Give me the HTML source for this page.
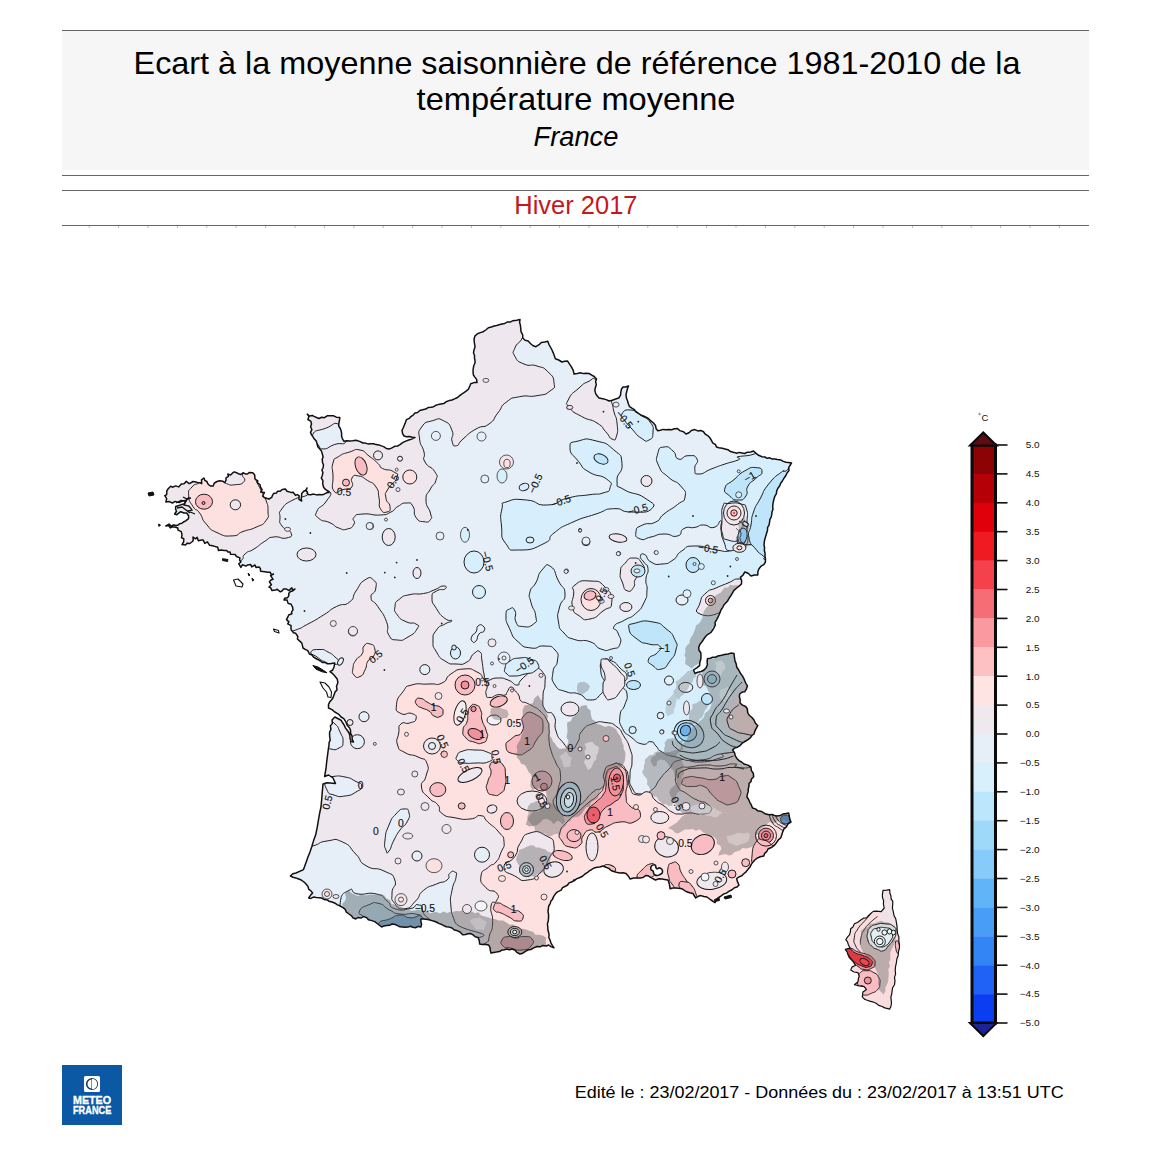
<!DOCTYPE html><html><head><meta charset="utf-8"><title>Ecart temperature</title>
<style>html,body{margin:0;padding:0;background:#fff}body{width:1150px;height:1150px;overflow:hidden;position:relative;font-family:"Liberation Sans",sans-serif}#hd{position:absolute;left:62px;top:31px;width:1026.5px;height:139px;background:#f6f6f6}.ln{position:absolute;left:62px;width:1027px;height:1px;background:#666}.t{position:absolute;left:0;width:1150px;text-align:center;white-space:nowrap;color:#000}svg{position:absolute;left:0;top:0}</style></head><body>
<div id="hd"></div>
<div class="ln" style="top:30px"></div>
<div class="ln" style="top:175px"></div>
<div class="ln" style="top:190px"></div>
<div class="ln" style="top:225px"></div>
<svg width="1150" height="1150" viewBox="0 0 1150 1150">
<rect x="88.7" y="226" width="1" height="2" fill="#bbb"/><rect x="118.1" y="226" width="1" height="2" fill="#bbb"/><rect x="147.5" y="226" width="1" height="2" fill="#bbb"/><rect x="176.9" y="226" width="1" height="2" fill="#bbb"/><rect x="206.3" y="226" width="1" height="2" fill="#bbb"/><rect x="235.7" y="226" width="1" height="2" fill="#bbb"/><rect x="265.1" y="226" width="1" height="2" fill="#bbb"/><rect x="294.5" y="226" width="1" height="2" fill="#bbb"/><rect x="323.9" y="226" width="1" height="2" fill="#bbb"/><rect x="353.3" y="226" width="1" height="2" fill="#bbb"/><rect x="382.7" y="226" width="1" height="2" fill="#bbb"/><rect x="412.1" y="226" width="1" height="2" fill="#bbb"/><rect x="441.5" y="226" width="1" height="2" fill="#bbb"/><rect x="470.9" y="226" width="1" height="2" fill="#bbb"/><rect x="500.3" y="226" width="1" height="2" fill="#bbb"/><rect x="529.7" y="226" width="1" height="2" fill="#bbb"/><rect x="559.1" y="226" width="1" height="2" fill="#bbb"/><rect x="588.5" y="226" width="1" height="2" fill="#bbb"/><rect x="617.9" y="226" width="1" height="2" fill="#bbb"/><rect x="647.3" y="226" width="1" height="2" fill="#bbb"/><rect x="676.7" y="226" width="1" height="2" fill="#bbb"/><rect x="706.1" y="226" width="1" height="2" fill="#bbb"/><rect x="735.5" y="226" width="1" height="2" fill="#bbb"/><rect x="764.9" y="226" width="1" height="2" fill="#bbb"/><rect x="794.3" y="226" width="1" height="2" fill="#bbb"/><rect x="823.7" y="226" width="1" height="2" fill="#bbb"/><rect x="853.1" y="226" width="1" height="2" fill="#bbb"/><rect x="882.5" y="226" width="1" height="2" fill="#bbb"/><rect x="911.9" y="226" width="1" height="2" fill="#bbb"/><rect x="941.3" y="226" width="1" height="2" fill="#bbb"/><rect x="970.7" y="226" width="1" height="2" fill="#bbb"/><rect x="1000.1" y="226" width="1" height="2" fill="#bbb"/><rect x="1029.5" y="226" width="1" height="2" fill="#bbb"/><rect x="1058.9" y="226" width="1" height="2" fill="#bbb"/>
<text x="133.6" y="74.0" font-size="31.8" textLength="886.8" lengthAdjust="spacingAndGlyphs" font-family="Liberation Sans, sans-serif" fill="#000">Ecart à la moyenne saisonnière de référence 1981-2010 de la</text>
<text x="416.6" y="110.0" font-size="31.8" textLength="318.9" lengthAdjust="spacingAndGlyphs" font-family="Liberation Sans, sans-serif" fill="#000">température moyenne</text>
<text x="533.5" y="145.8" font-size="27" textLength="84.9" lengthAdjust="spacingAndGlyphs" font-family="Liberation Sans, sans-serif" fill="#000" font-style="italic">France</text>
<text x="514.3" y="213.8" font-size="25.4" textLength="123.2" lengthAdjust="spacingAndGlyphs" font-family="Liberation Sans, sans-serif" fill="#c4181c">Hiver 2017</text>
<text x="574.7" y="1097.6" font-size="16" textLength="488.9" lengthAdjust="spacingAndGlyphs" font-family="Liberation Sans, sans-serif" fill="#000">Edité le : 23/02/2017 - Données du : 23/02/2017 à 13:51 UTC</text>
<defs><clipPath id="fr"><path d="M520.0,319.6 L516.7,320.3 L513.0,320.7 L510.6,321.9 L507.6,321.9 L504.7,323.4 L502.0,324.0 L499.0,324.8 L496.7,325.5 L494.1,326.0 L491.3,327.0 L488.4,327.8 L485.8,330.0 L483.3,331.7 L480.4,332.6 L477.5,333.7 L475.0,335.9 L474.1,338.7 L474.2,341.5 L474.6,344.2 L475.0,347.0 L474.0,350.0 L473.5,352.7 L474.5,355.5 L474.5,358.2 L475.0,360.2 L475.0,363.0 L473.8,365.5 L473.2,368.8 L473.0,371.7 L473.4,375.0 L474.7,376.9 L476.7,379.6 L477.0,382.6 L474.1,382.6 L470.7,383.7 L469.8,386.1 L468.5,389.0 L466.5,390.9 L463.6,392.9 L461.0,394.6 L458.8,396.4 L457.0,397.8 L454.5,398.9 L452.0,400.0 L449.2,400.6 L446.1,401.8 L443.7,403.6 L441.0,404.0 L438.2,404.6 L435.8,405.3 L433.6,406.7 L431.0,407.3 L428.0,407.6 L425.8,409.1 L422.6,409.8 L419.8,410.5 L417.6,412.5 L415.0,413.0 L413.4,414.8 L410.9,416.6 L409.2,418.4 L406.5,419.6 L405.4,422.6 L404.4,425.0 L403.4,427.5 L402.0,430.4 L402.6,433.7 L404.0,436.0 L406.6,436.7 L409.4,436.6 L412.3,437.3 L415.0,437.4 L411.7,439.1 L408.7,440.0 L405.8,441.1 L402.6,442.7 L400.0,444.6 L397.5,446.0 L394.7,446.3 L391.5,448.1 L389.0,449.0 L386.3,448.5 L383.7,446.6 L381.3,445.9 L379.0,444.9 L376.0,444.6 L373.5,443.7 L370.7,443.7 L368.0,443.9 L365.3,443.1 L363.0,443.0 L359.6,441.4 L356.0,440.2 L352.7,440.7 L349.9,441.0 L346.6,440.8 L344.0,441.3 L342.5,438.8 L341.6,436.3 L341.6,433.3 L341.2,431.1 L340.3,428.5 L338.7,426.0 L338.8,423.5 L339.4,420.8 L339.8,417.4 L336.3,417.2 L333.7,415.8 L330.0,415.7 L327.2,415.8 L324.4,417.7 L321.7,417.3 L319.0,418.5 L316.5,417.5 L314.1,416.4 L312.4,415.5 L309.6,416.0 L307.2,414.1 L308.9,416.4 L307.9,419.5 L310.9,421.4 L311.5,424.0 L310.6,426.8 L311.9,429.7 L310.5,432.4 L311.5,434.8 L312.9,436.6 L314.1,438.8 L316.2,440.9 L317.0,443.5 L317.8,446.7 L320.0,449.2 L321.5,451.1 L322.4,454.3 L323.1,457.0 L322.2,459.6 L322.6,462.8 L323.5,465.0 L323.0,468.0 L321.9,470.0 L322.9,472.5 L322.3,475.4 L321.3,478.0 L322.9,480.6 L322.7,483.8 L323.5,487.0 L325.1,489.2 L327.2,490.7 L329.0,492.4 L326.5,492.8 L324.1,494.2 L322.1,494.8 L319.0,494.6 L316.5,494.9 L313.8,494.1 L310.6,494.7 L308.0,494.6 L307.3,491.9 L306.1,490.9 L307.0,488.0 L305.9,490.2 L303.7,491.2 L301.7,493.5 L301.5,496.3 L301.2,499.0 L301.7,501.0 L298.9,499.4 L299.2,495.8 L297.4,494.6 L295.5,495.2 L293.1,492.2 L290.9,492.4 L287.0,491.3 L285.4,489.0 L282.2,489.5 L280.0,491.3 L277.4,491.3 L276.6,493.0 L273.5,493.5 L272.3,495.8 L271.7,497.4 L269.0,499.0 L264.8,497.8 L262.7,496.1 L264.4,492.5 L260.7,492.1 L262.1,489.6 L260.4,487.0 L260.1,484.8 L257.3,482.7 L257.8,480.9 L255.0,479.0 L254.7,474.9 L252.8,472.8 L249.4,472.4 L247.4,474.0 L245.4,473.9 L243.0,472.8 L240.8,474.5 L238.6,473.8 L234.6,471.9 L233.1,472.5 L230.6,475.1 L227.8,474.0 L228.4,476.4 L226.0,477.9 L226.0,480.4 L224.6,482.6 L223.0,481.2 L219.5,480.8 L217.0,481.5 L214.4,483.0 L213.0,486.1 L210.4,485.9 L208.3,484.5 L206.8,481.4 L204.9,480.5 L204.0,478.0 L201.5,479.8 L201.7,483.7 L200.2,482.8 L197.5,482.4 L196.0,482.0 L193.0,481.5 L190.3,483.2 L189.1,483.6 L186.3,481.4 L184.0,483.7 L181.3,484.1 L178.7,486.9 L175.7,485.9 L172.4,487.2 L170.6,486.2 L168.0,489.0 L166.8,490.9 L166.7,494.6 L164.8,495.7 L166.7,498.6 L165.9,502.0 L169.4,501.6 L172.4,503.0 L175.2,501.4 L176.7,501.9 L179.2,502.6 L182.0,501.0 L184.2,500.8 L186.6,500.1 L188.7,497.8 L186.5,499.8 L185.2,502.4 L184.0,504.0 L181.6,504.6 L178.1,505.7 L175.7,506.5 L175.6,509.1 L176.5,511.3 L174.6,514.0 L176.8,514.7 L179.7,512.4 L180.7,511.7 L184.0,513.0 L186.7,513.0 L188.7,516.0 L188.5,518.6 L185.7,520.9 L184.0,521.7 L182.0,523.2 L179.6,523.8 L178.3,524.9 L176.3,525.4 L173.5,525.0 L171.2,526.1 L169.0,524.1 L165.9,526.0 L168.6,525.5 L170.3,527.9 L172.8,526.7 L175.6,527.2 L177.8,528.0 L178.0,530.1 L181.3,531.6 L182.0,534.8 L181.5,537.8 L183.8,538.7 L183.6,542.0 L182.0,544.6 L185.7,544.9 L187.0,543.3 L189.8,543.5 L192.5,541.5 L193.2,540.4 L193.0,537.0 L195.5,538.8 L197.2,537.4 L198.4,540.8 L201.7,540.0 L203.1,539.9 L204.8,543.4 L207.5,541.8 L208.2,543.1 L209.5,545.2 L212.6,545.7 L215.4,546.6 L217.7,547.3 L218.5,550.6 L221.0,550.0 L224.2,550.4 L226.7,550.5 L227.7,551.9 L230.0,552.0 L230.6,554.3 L235.3,554.6 L236.5,556.5 L239.9,557.9 L239.6,560.0 L240.9,562.0 L238.8,563.8 L240.9,567.4 L242.5,564.7 L246.1,566.1 L247.4,565.0 L250.7,564.6 L251.7,566.9 L255.0,565.0 L256.0,567.4 L258.8,566.9 L260.4,568.5 L260.6,571.2 L264.8,571.7 L267.9,572.2 L270.1,572.2 L271.4,574.8 L273.5,574.0 L270.6,575.6 L273.1,579.3 L271.0,580.0 L269.4,581.8 L271.4,584.7 L269.0,587.0 L270.7,587.9 L272.0,590.6 L275.7,590.0 L277.2,589.3 L280.4,591.8 L282.0,591.0 L283.6,589.1 L286.5,589.0 L288.8,590.6 L291.8,587.8 L292.5,590.1 L295.0,589.0 L293.0,590.7 L290.5,591.5 L288.7,593.5 L288.9,595.7 L287.6,597.7 L284.7,598.3 L284.0,600.0 L287.1,600.1 L288.2,603.6 L290.9,604.0 L292.6,607.2 L293.0,609.8 L291.5,612.1 L291.9,613.8 L288.7,615.0 L288.0,616.7 L286.5,619.6 L288.9,621.9 L287.7,623.9 L291.1,625.6 L290.9,628.0 L291.3,630.1 L293.5,632.7 L295.7,633.3 L297.8,636.5 L297.4,639.0 L299.2,640.6 L301.7,642.9 L302.4,645.4 L303.0,648.0 L305.2,649.4 L307.8,650.6 L309.4,654.0 L311.7,654.8 L313.7,657.2 L315.8,658.5 L318.3,659.7 L320.4,661.0 L322.6,662.6 L325.4,662.6 L327.4,663.8 L330.0,663.8 L334.8,663.0 L334.0,667.0 L332.7,670.0 L330.0,671.6 L332.3,673.3 L334.8,676.0 L337.2,678.9 L337.9,682.6 L336.5,686.2 L337.0,690.0 L335.1,691.9 L334.0,695.0 L332.9,698.0 L331.6,699.8 L329.6,702.1 L328.5,704.5 L328.5,708.0 L332.0,709.7 L334.8,712.0 L336.8,713.2 L339.1,714.6 L341.0,717.0 L343.8,718.7 L345.7,721.7 L347.2,725.2 L349.6,728.0 L350.6,730.6 L350.5,733.2 L352.0,735.8 L352.2,739.4 L353.5,742.0 L351.0,741.5 L350.2,738.9 L349.8,735.3 L348.9,732.7 L347.2,730.3 L345.4,727.9 L344.0,724.8 L342.6,722.8 L341.2,720.4 L338.7,719.0 L334.8,717.0 L332.0,720.0 L332.4,723.4 L330.4,725.9 L330.9,729.5 L329.6,732.2 L329.6,735.2 L329.8,737.5 L330.2,740.1 L329.1,742.5 L329.0,745.3 L328.5,748.0 L327.6,754.9 L326.7,761.7 L326.0,768.7 L324.6,776.5 L328.5,775.0 L333.0,778.0 L335.5,783.5 L327.0,782.7 L323.0,784.0 L322.3,791.7 L321.7,799.4 L321.0,807.0 L319.5,813.9 L318.3,820.8 L317.1,827.9 L315.7,834.8 L313.6,840.6 L311.9,846.3 L310.0,852.0 L307.7,857.8 L305.6,863.7 L303.5,869.6 L296.0,873.0 L292.8,873.7 L290.4,876.0 L293.1,877.3 L295.7,877.9 L298.0,878.7 L300.6,879.7 L304.0,882.0 L306.0,884.0 L308.0,886.5 L308.8,889.4 L310.7,890.6 L312.6,893.0 L310.3,895.6 L308.7,898.0 L310.8,898.4 L313.4,897.1 L316.4,897.5 L319.4,897.7 L321.7,898.0 L323.9,899.4 L327.3,899.9 L328.9,901.2 L332.0,902.0 L335.1,903.2 L337.0,904.6 L340.2,906.0 L342.6,907.4 L345.0,909.1 L346.4,912.1 L349.0,914.0 L351.6,915.8 L352.9,917.8 L355.7,919.0 L357.8,917.5 L361.3,918.0 L363.5,916.5 L366.5,917.6 L368.4,919.7 L371.0,920.4 L374.8,921.6 L377.8,924.0 L381.7,927.0 L384.0,925.9 L386.7,925.4 L389.5,925.3 L392.0,924.0 L394.5,924.2 L397.2,925.4 L399.9,926.8 L402.6,927.0 L405.0,927.3 L408.0,927.1 L410.4,926.3 L412.8,927.3 L415.5,927.7 L418.4,926.4 L420.9,927.0 L421.6,924.1 L420.9,921.8 L420.9,919.0 L424.0,919.0 L427.8,919.5 L431.0,920.4 L434.1,921.2 L436.2,922.0 L439.2,923.6 L441.3,924.3 L444.0,925.7 L446.3,926.7 L449.1,927.1 L452.0,928.0 L454.3,930.0 L457.6,930.8 L460.0,932.0 L462.6,934.8 L465.6,934.5 L468.1,933.8 L470.4,933.5 L472.8,934.6 L475.2,936.8 L478.0,937.4 L479.3,940.6 L479.6,944.0 L482.3,944.6 L485.6,944.6 L488.7,945.0 L490.0,947.7 L490.3,950.4 L491.0,953.0 L493.8,952.4 L496.4,952.1 L499.5,951.6 L501.4,950.3 L504.2,949.7 L507.0,949.0 L509.4,949.9 L512.1,949.0 L514.8,950.0 L516.8,952.3 L520.0,954.0 L522.8,953.2 L525.4,951.3 L527.8,950.0 L530.8,949.5 L533.8,947.9 L537.0,946.5 L540.2,946.8 L542.7,945.4 L546.2,946.0 L548.7,945.0 L550.9,946.6 L554.0,947.8 L552.3,945.3 L550.9,942.8 L550.0,940.0 L548.8,937.5 L549.1,934.4 L548.4,931.7 L547.9,929.8 L547.8,926.9 L547.4,924.0 L548.3,920.8 L548.5,918.3 L548.6,914.7 L548.0,911.7 L548.3,909.2 L548.7,906.0 L550.1,903.9 L550.9,901.1 L552.4,899.4 L553.6,896.6 L555.4,893.8 L557.5,891.9 L561.1,890.1 L562.6,887.6 L565.3,886.3 L567.6,885.0 L569.0,882.9 L571.5,882.0 L574.0,880.8 L576.5,878.9 L580.0,877.5 L582.5,876.3 L585.0,874.0 L587.2,872.7 L589.6,870.6 L591.5,869.7 L594.0,868.0 L597.2,867.3 L599.8,867.0 L603.0,866.0 L605.9,867.2 L608.8,868.4 L611.5,870.7 L614.6,871.7 L617.3,872.6 L619.9,873.0 L623.0,872.8 L626.0,873.5 L628.4,876.2 L630.0,879.0 L633.7,878.0 L637.0,878.0 L640.2,877.9 L642.9,877.6 L645.7,875.5 L648.3,875.8 L651.0,877.6 L655.4,880.0 L659.0,878.8 L662.0,879.0 L664.7,879.4 L668.0,880.0 L669.0,882.7 L669.7,885.6 L670.0,888.7 L672.8,888.0 L676.0,888.0 L678.6,888.2 L681.8,888.7 L686.0,891.5 L689.7,892.8 L693.0,893.6 L695.7,898.0 L698.2,896.3 L701.0,895.6 L703.8,896.5 L706.9,897.0 L711.0,900.0 L715.0,902.6 L716.2,900.4 L718.0,898.0 L721.2,895.9 L723.6,894.0 L726.4,893.1 L729.2,891.1 L732.0,889.8 L734.4,887.7 L737.0,887.1 L739.0,885.0 L737.4,881.7 L736.7,878.5 L739.1,876.9 L741.8,875.8 L743.5,874.0 L745.8,872.1 L748.0,869.3 L750.0,867.0 L751.4,864.1 L753.1,861.9 L754.8,860.0 L757.2,858.1 L760.2,856.8 L763.8,856.0 L764.5,853.6 L767.0,851.2 L768.0,849.0 L770.8,847.8 L772.7,846.6 L775.0,844.6 L776.6,842.5 L778.4,839.9 L780.8,837.8 L781.9,834.5 L782.8,831.6 L784.0,828.8 L786.4,826.8 L788.0,823.9 L791.0,822.0 L789.8,819.1 L789.2,816.0 L788.7,813.0 L786.0,813.5 L782.8,814.0 L780.4,815.6 L777.0,816.0 L774.6,815.5 L772.0,814.5 L769.0,814.7 L766.0,814.1 L763.8,813.0 L761.5,811.4 L757.8,810.8 L755.5,808.9 L752.5,808.0 L751.4,805.2 L749.8,802.3 L748.5,799.3 L746.9,797.0 L747.3,794.6 L748.2,791.4 L748.3,788.6 L749.0,786.2 L749.0,783.6 L751.0,781.5 L751.5,779.0 L753.7,776.8 L753.3,773.3 L751.4,770.6 L750.9,767.0 L747.9,765.1 L744.0,764.0 L741.6,762.0 L739.4,760.9 L737.0,758.7 L735.3,755.8 L734.5,752.6 L732.6,750.0 L734.5,748.1 L737.4,747.2 L740.0,745.7 L742.3,743.1 L745.7,741.0 L748.0,739.6 L750.5,737.7 L751.9,735.5 L754.0,734.0 L754.8,731.2 L756.2,728.3 L757.8,725.7 L755.3,723.0 L754.0,720.0 L751.9,717.5 L749.0,715.0 L747.7,712.5 L747.3,708.8 L745.7,706.5 L742.5,705.1 L740.0,703.0 L740.2,700.0 L739.4,696.8 L739.6,694.0 L742.2,692.1 L744.8,691.7 L746.5,688.8 L747.4,685.7 L746.1,683.8 L744.9,681.1 L743.9,678.7 L742.4,675.9 L740.4,673.2 L738.7,670.0 L736.8,667.3 L736.2,663.9 L735.0,661.0 L734.4,657.1 L734.0,653.5 L731.0,653.1 L728.0,654.0 L724.6,654.5 L721.6,655.3 L717.8,656.0 L715.3,657.3 L712.7,657.2 L710.3,658.2 L707.4,658.7 L707.1,661.9 L707.4,664.8 L706.3,667.5 L704.0,670.0 L701.3,671.5 L697.8,672.3 L695.0,673.5 L693.5,670.0 L696.8,667.8 L699.6,665.7 L699.8,662.5 L700.8,659.0 L701.0,656.0 L700.8,652.8 L699.0,650.3 L698.7,647.4 L699.8,644.4 L702.2,641.5 L704.0,638.7 L705.8,636.3 L707.9,634.3 L711.0,632.4 L712.6,630.0 L713.9,627.9 L715.3,624.9 L715.0,622.4 L716.4,620.1 L717.9,617.4 L719.1,614.8 L720.1,612.4 L720.9,610.0 L722.6,607.6 L723.7,605.3 L725.4,603.3 L727.4,601.3 L728.7,598.8 L730.6,596.0 L732.4,593.1 L734.0,590.4 L736.7,588.0 L739.1,586.1 L741.5,584.0 L741.6,580.6 L740.4,577.4 L743.0,575.1 L744.8,572.0 L748.1,573.3 L751.0,576.0 L754.5,575.1 L757.8,575.0 L757.9,571.6 L759.0,568.7 L761.0,566.2 L763.8,564.6 L765.4,562.0 L765.5,559.0 L765.0,556.3 L765.1,553.4 L764.3,550.3 L764.6,548.0 L764.0,544.8 L764.3,542.0 L764.8,539.2 L765.8,536.1 L766.6,533.3 L767.5,530.2 L767.6,527.4 L768.9,525.4 L769.6,522.1 L769.8,519.7 L771.1,517.4 L771.7,514.7 L772.0,512.0 L773.0,509.3 L772.7,507.0 L772.9,504.1 L773.3,501.8 L774.0,499.0 L774.8,496.3 L776.4,493.7 L776.7,490.9 L777.9,488.3 L779.6,486.0 L780.8,483.0 L782.4,481.0 L784.0,478.2 L785.9,475.5 L787.0,473.0 L789.0,470.5 L788.7,467.7 L790.3,465.2 L791.5,463.0 L788.4,462.6 L786.1,462.3 L783.3,461.4 L780.7,459.9 L777.5,459.5 L775.0,459.0 L772.3,459.1 L769.7,457.8 L767.2,458.3 L764.9,457.0 L762.0,456.7 L758.6,455.3 L756.0,453.4 L753.5,451.0 L750.7,452.0 L747.4,452.2 L744.8,453.5 L741.9,452.9 L739.3,452.4 L736.6,453.3 L734.0,452.4 L730.5,451.6 L727.9,449.7 L725.0,449.0 L722.3,448.3 L719.0,447.8 L716.5,447.0 L715.5,444.6 L712.7,442.8 L711.4,440.4 L710.0,438.0 L708.0,435.8 L705.3,434.2 L703.5,431.7 L700.8,430.4 L697.8,430.9 L694.8,429.6 L691.4,430.5 L689.0,432.8 L686.0,434.0 L683.5,431.7 L679.8,430.6 L677.4,428.5 L674.5,428.7 L671.6,429.7 L668.7,429.6 L666.1,429.8 L663.2,429.4 L660.4,430.2 L657.8,430.7 L656.1,428.7 L655.5,425.4 L653.5,423.0 L651.4,421.4 L649.1,419.2 L647.0,417.6 L644.0,416.2 L640.7,414.9 L638.0,413.0 L635.6,411.5 L634.4,409.6 L631.9,408.2 L629.6,406.7 L628.4,404.0 L627.6,401.1 L626.5,398.3 L626.0,394.8 L626.7,391.5 L627.5,388.6 L628.5,386.0 L625.7,387.0 L623.0,387.0 L621.4,389.3 L620.7,392.6 L620.6,395.2 L618.7,398.0 L615.7,399.0 L612.3,400.2 L609.0,401.0 L606.8,399.9 L604.3,399.1 L601.3,398.4 L599.0,398.0 L596.9,395.5 L595.7,393.6 L594.8,390.4 L595.4,387.5 L596.3,384.7 L595.6,381.7 L596.5,379.0 L594.2,376.5 L591.8,375.2 L589.0,373.5 L586.1,373.3 L583.3,373.6 L580.4,372.8 L577.3,373.5 L574.0,374.0 L573.3,370.7 L571.7,367.4 L569.4,363.9 L567.4,360.9 L564.7,361.3 L562.0,362.0 L558.7,360.0 L555.4,358.7 L554.4,355.9 L553.1,352.6 L552.0,350.0 L550.4,347.0 L548.9,344.3 L547.8,341.3 L544.7,342.1 L541.3,342.4 L539.1,344.7 L535.9,346.7 L533.1,345.8 L530.4,343.5 L528.2,341.0 L525.1,340.2 L522.8,338.0 L522.7,334.8 L521.0,331.7 L520.7,328.0 L520.4,325.2 L519.6,322.4Z"/><path d="M883.0,890.4 L886.5,890.2 L889.7,889.7 L889.9,893.2 L890.9,895.8 L891.2,899.1 L892.8,901.3 L892.7,904.4 L892.4,908.2 L893.3,911.7 L893.9,915.2 L895.8,919.0 L896.4,922.4 L897.0,926.3 L897.2,930.0 L897.6,933.6 L898.9,936.9 L898.8,940.9 L899.5,944.8 L899.4,948.2 L898.5,951.5 L898.2,955.5 L896.9,958.8 L896.4,962.8 L895.6,966.2 L895.2,970.1 L895.6,974.1 L894.5,977.4 L895.0,980.9 L894.5,984.7 L892.6,987.8 L892.1,990.8 L891.7,994.3 L890.9,996.9 L891.2,1000.1 L891.5,1003.0 L890.9,1006.5 L889.7,1009.1 L884.8,1007.9 L881.5,1006.3 L878.7,1005.4 L876.1,1003.2 L872.6,1001.8 L869.8,1001.1 L866.5,1000.0 L864.4,999.1 L862.3,996.9 L862.9,992.0 L866.5,989.6 L864.1,986.6 L859.2,986.0 L854.4,984.7 L858.0,981.7 L858.3,978.8 L859.2,976.2 L858.0,972.6 L854.0,972.0 L850.7,970.1 L851.9,967.1 L855.6,965.3 L853.1,961.6 L849.5,957.9 L848.1,955.1 L847.1,951.9 L845.2,949.4 L850.1,948.2 L848.3,944.5 L847.5,941.9 L845.8,939.7 L847.4,937.1 L849.5,934.8 L850.3,932.1 L850.7,928.7 L852.9,927.0 L854.4,923.8 L857.8,922.2 L860.4,920.2 L863.4,918.2 L866.5,917.8 L868.9,915.1 L871.4,912.9 L873.3,911.4 L876.3,911.1 L881.2,911.7 L884.2,908.0 L883.4,904.1 L883.6,900.7 L882.5,897.6 L882.4,894.6Z"/></clipPath></defs>
<g clip-path="url(#fr)">
<rect x="100" y="280" width="850" height="760" fill="#efe7ee"/>
<path d="M521.7,339.0 C518.7,344.6 517.2,342.0 515.0,347.8 C512.8,353.6 512.0,351.1 515.0,356.5 C518.0,361.9 516.7,360.8 524.0,364.0 C531.3,367.2 529.1,363.4 537.0,366.0 C544.9,368.6 542.1,366.2 547.8,371.7 C553.5,377.2 553.3,376.2 554.0,382.6 C554.7,389.0 555.7,386.6 550.0,391.0 C544.3,395.4 547.1,393.8 537.0,395.7 C526.9,397.6 529.8,394.6 519.6,396.7 C509.4,398.8 513.8,396.6 506.5,402.0 C499.2,407.4 503.6,405.7 497.8,413.0 C492.0,420.3 496.3,418.7 489.0,424.0 C481.7,429.3 484.7,424.0 476.0,429.0 C467.3,434.0 469.5,433.4 463.0,439.0 C456.5,444.6 460.2,445.0 456.5,445.7 C452.8,446.4 453.5,446.1 452.0,441.0 C450.5,435.9 454.8,437.2 452.0,430.4 C449.2,423.6 450.0,423.9 443.5,420.7 C437.0,417.5 439.9,418.6 432.6,420.7 C425.3,422.8 426.0,420.9 421.7,427.0 C417.4,433.1 418.8,430.7 419.6,439.0 C420.4,447.3 422.2,444.3 424.0,452.0 C425.8,459.7 421.4,455.4 425.0,462.0 C428.6,468.6 431.2,465.6 434.8,471.7 C438.4,477.8 437.4,474.6 435.9,480.4 C434.4,486.2 433.7,482.5 430.4,489.0 C427.1,495.5 426.0,492.0 426.0,500.0 C426.0,508.0 428.9,506.5 430.4,513.0 C431.9,519.5 432.5,516.7 430.4,519.6 C428.3,522.5 428.8,522.4 424.0,521.7 C419.2,521.0 419.7,522.5 416.0,517.4 C412.3,512.3 416.2,511.3 413.0,506.5 C409.8,501.7 411.6,503.0 406.5,503.0 C401.4,503.0 403.0,503.5 397.8,506.5 C392.6,509.5 396.8,509.2 391.0,512.0 C385.2,514.8 389.7,514.3 380.4,515.0 C371.1,515.7 371.8,513.2 363.0,514.0 C354.2,514.8 357.0,514.1 354.0,517.4 C351.0,520.7 356.2,520.1 354.0,524.0 C351.8,527.9 352.5,527.7 347.4,529.0 C342.3,530.3 344.5,530.1 338.7,528.0 C332.9,525.9 336.6,526.0 330.0,522.8 C323.4,519.6 323.3,522.4 319.0,518.5 C314.7,514.6 314.8,516.5 317.0,511.0 C319.2,505.5 321.4,508.3 325.7,502.0 C330.0,495.7 332.2,495.0 330.0,492.0 C327.8,489.0 326.3,492.7 319.0,493.0 C311.7,493.3 312.3,492.1 308.0,493.0 C303.7,493.9 311.0,493.4 306.0,495.7 C301.0,498.0 301.0,495.7 293.0,500.0 C285.0,504.3 286.3,502.9 282.0,508.7 C277.7,514.5 280.0,511.6 280.0,517.4 C280.0,523.2 278.4,520.9 282.0,526.0 C285.6,531.1 289.4,528.6 290.9,532.6 C292.4,536.6 292.3,536.5 286.5,538.0 C280.7,539.5 280.7,535.9 273.5,537.0 C266.3,538.1 271.3,537.3 264.8,541.3 C258.3,545.3 260.6,544.8 254.0,549.0 C247.4,553.2 249.7,549.7 245.0,554.0 C240.3,558.3 246.7,555.0 240.0,562.0 C233.3,569.0 221.7,560.7 225.0,575.0 C228.3,589.3 236.7,583.3 250.0,605.0 C263.3,626.7 250.7,631.3 265.0,640.0 C279.3,648.7 278.7,636.3 293.0,631.0 C307.3,625.7 297.8,629.3 308.0,624.0 C318.2,618.7 314.0,620.8 323.5,615.0 C333.0,609.2 327.8,610.8 336.5,606.5 C345.2,602.2 343.1,607.2 349.6,602.0 C356.1,596.8 350.9,598.3 356.0,591.0 C361.1,583.7 359.0,583.7 364.8,580.0 C370.6,576.3 369.9,577.0 373.5,580.0 C377.1,583.0 376.5,583.1 375.7,589.0 C374.9,594.9 370.3,592.0 371.0,597.8 C371.7,603.6 372.6,598.5 377.8,606.5 C383.0,614.5 382.9,612.3 386.5,621.7 C390.1,631.1 385.1,628.7 388.7,634.8 C392.3,640.9 391.0,639.3 397.4,640.0 C403.8,640.7 401.5,640.7 408.0,637.0 C414.5,633.3 414.4,633.3 417.0,629.0 C419.6,624.7 419.6,626.4 415.9,624.0 C412.2,621.6 412.2,624.7 406.0,621.7 C399.8,618.7 401.1,620.1 397.4,615.0 C393.7,609.9 394.3,611.8 395.0,606.5 C395.7,601.2 394.6,603.0 399.6,599.0 C404.6,595.0 402.0,596.4 410.0,594.6 C418.0,592.8 415.5,595.0 423.5,593.5 C431.5,592.0 427.5,592.5 434.0,590.0 C440.5,587.5 439.3,586.3 443.0,586.0 C446.7,585.7 447.2,587.3 445.0,589.0 C442.8,590.7 440.8,588.1 436.5,591.0 C432.2,593.9 432.0,591.9 432.0,597.8 C432.0,603.7 432.2,601.8 436.5,608.7 C440.8,615.6 439.9,614.5 445.0,618.5 C450.1,622.5 451.7,618.9 451.7,620.7 C451.7,622.5 450.1,620.9 445.0,624.0 C439.9,627.1 440.5,624.3 436.5,630.0 C432.5,635.7 433.0,633.7 433.0,641.0 C433.0,648.3 432.5,645.3 436.5,652.0 C440.5,658.7 438.5,657.0 445.0,661.0 C451.5,665.0 448.7,663.7 456.0,664.0 C463.3,664.3 461.2,665.3 467.0,662.0 C472.8,658.7 469.2,657.3 473.5,654.0 C477.8,650.7 477.2,649.7 480.0,652.0 C482.8,654.3 480.7,653.7 482.0,661.0 C483.3,668.3 482.5,667.7 484.0,674.0 C485.5,680.3 482.0,678.7 486.5,680.0 C491.0,681.3 490.2,678.0 497.4,678.0 C504.6,678.0 501.5,677.7 508.0,680.0 C514.5,682.3 512.7,685.0 517.0,685.0 C521.3,685.0 516.7,684.4 521.0,680.0 C525.3,675.6 525.7,675.7 530.0,671.7 C534.3,667.7 529.7,667.7 534.0,668.0 C538.3,668.3 539.3,667.4 543.0,672.6 C546.7,677.8 545.0,675.5 545.0,683.5 C545.0,691.5 543.0,687.8 543.0,696.5 C543.0,705.2 541.3,703.1 545.0,709.6 C548.7,716.1 550.3,708.9 554.0,716.0 C557.7,723.1 553.1,722.3 556.0,731.0 C558.9,739.7 557.6,736.1 562.6,742.0 C567.6,747.9 565.9,748.7 571.0,748.7 C576.1,748.7 574.1,747.9 577.8,742.0 C581.5,736.1 576.9,737.1 582.0,731.0 C587.1,724.9 585.0,726.5 593.0,723.7 C601.0,720.9 598.0,721.5 606.0,722.6 C614.0,723.7 611.2,722.6 617.0,727.0 C622.8,731.4 619.2,728.5 623.5,735.7 C627.8,742.9 627.2,740.0 630.0,748.7 C632.8,757.4 632.0,753.0 632.0,761.7 C632.0,770.4 630.0,766.1 630.0,774.8 C630.0,783.5 628.4,781.4 632.0,787.8 C635.6,794.2 634.3,793.3 640.9,794.0 C647.5,794.7 645.3,795.0 651.7,790.0 C658.1,785.0 654.6,785.7 660.0,779.0 C665.4,772.3 661.3,776.3 668.0,770.0 C674.7,763.7 669.3,762.7 680.0,760.0 C690.7,757.3 686.7,762.7 700.0,762.0 C713.3,761.3 708.3,761.3 720.0,758.0 C731.7,754.7 708.3,754.7 735.0,752.0 C761.7,749.3 778.3,900.7 800.0,750.0 C821.7,599.3 888.3,450.0 800.0,300.0 C711.7,150.0 625.7,294.0 535.0,300.0 C444.3,306.0 531.7,307.7 528.0,318.0 C524.3,328.3 526.1,324.0 524.0,331.0 C521.9,338.0 524.7,333.4 521.7,339.0Z" fill="#e6eef8" stroke="#151515" stroke-width="0.95"/>
<path d="M312.6,434.8 C315.1,429.3 316.6,431.5 325.7,428.3 C334.7,425.0 332.9,421.0 339.8,425.0 C346.7,429.0 348.1,433.7 346.3,440.2 C344.5,446.7 342.0,441.7 334.3,444.6 C326.7,447.5 328.9,448.9 323.5,448.9 C318.0,448.9 321.7,449.3 318.0,444.6 C314.4,439.9 310.1,440.2 312.6,434.8Z" fill="#e6eef8" stroke="#151515" stroke-width="0.95"/>
<path d="M588.0,381.7 C582.3,384.4 585.4,382.2 579.0,388.0 C572.6,393.8 571.8,392.4 568.7,399.0 C565.6,405.6 565.5,402.0 569.8,407.8 C574.1,413.6 572.6,411.4 581.7,416.5 C590.8,421.6 589.0,417.9 597.0,423.0 C605.0,428.1 600.7,426.4 605.7,431.7 C610.7,437.0 608.4,437.6 612.0,439.0 C615.6,440.4 614.8,441.3 616.5,436.0 C618.2,430.7 617.8,431.0 617.0,423.0 C616.2,415.0 615.7,418.5 614.0,412.0 C612.3,405.5 613.7,408.2 612.0,403.5 C610.3,398.8 613.0,401.8 609.0,398.0 C605.0,394.2 604.3,398.0 600.0,392.0 C595.7,386.0 600.0,383.4 596.0,380.0 C592.0,376.6 593.7,379.0 588.0,381.7Z" fill="#efe7ee" stroke="#151515" stroke-width="0.95"/>
<ellipse cx="306.5" cy="554.5" rx="9.5" ry="6.5" transform="rotate(0 306.5 554.5)" fill="#efe7ee" stroke="#151515" stroke-width="0.95"/>
<ellipse cx="388.7" cy="537.0" rx="6.5" ry="8.5" transform="rotate(0 388.7 537.0)" fill="#efe7ee" stroke="#151515" stroke-width="0.95"/>
<ellipse cx="417.0" cy="573.0" rx="4.0" ry="5.5" transform="rotate(0 417.0 573.0)" fill="#efe7ee" stroke="#151515" stroke-width="0.95"/>
<path d="M624.8,563.5 C629.2,558.8 627.8,558.0 633.5,558.0 C639.2,558.0 638.8,558.8 642.0,563.5 C645.2,568.2 645.1,566.9 643.0,572.0 C640.9,577.1 638.9,573.6 635.7,578.7 C632.5,583.8 636.4,583.4 633.5,587.4 C630.6,591.4 630.6,592.2 627.0,590.7 C623.4,589.2 624.8,589.2 622.6,583.0 C620.4,576.8 619.7,578.5 620.4,572.0 C621.1,565.5 620.4,568.2 624.8,563.5Z" fill="#efe7ee" stroke="#151515" stroke-width="0.95"/>
<ellipse cx="625.9" cy="607.0" rx="6.0" ry="4.5" transform="rotate(0 625.9 607.0)" fill="#efe7ee" stroke="#151515" stroke-width="0.95"/>
<ellipse cx="618.0" cy="538.0" rx="9.0" ry="4.0" transform="rotate(10 618.0 538.0)" fill="#efe7ee" stroke="#151515" stroke-width="0.95"/>
<ellipse cx="646.5" cy="481.0" rx="5.5" ry="5.5" transform="rotate(0 646.5 481.0)" fill="#efe7ee" stroke="#151515" stroke-width="0.95"/>
<ellipse cx="586.0" cy="542.0" rx="4.0" ry="3.6" transform="rotate(0 586.0 542.0)" fill="#efe7ee" stroke="#151515" stroke-width="0.95"/>
<path d="M502.0,508.7 C503.8,500.6 498.8,504.6 507.0,501.7 C515.2,498.8 513.0,498.9 526.5,500.0 C540.0,501.1 533.6,505.7 547.4,505.0 C561.2,504.3 554.1,501.4 568.0,498.0 C581.9,494.6 577.3,496.5 589.0,494.8 C600.7,493.1 596.0,495.3 603.0,493.0 C610.0,490.7 608.8,492.5 610.0,487.8 C611.2,483.1 613.5,484.3 606.5,479.0 C599.5,473.7 598.3,477.8 589.0,472.0 C579.7,466.2 585.0,469.8 578.7,461.7 C572.4,453.6 570.0,454.7 570.0,447.8 C570.0,440.9 570.0,443.2 578.7,440.9 C587.4,438.6 584.4,438.0 596.0,440.9 C607.6,443.8 604.8,442.1 613.5,449.6 C622.2,457.1 620.8,453.1 622.0,463.5 C623.2,473.9 616.3,472.2 617.0,480.9 C617.7,489.6 614.7,483.9 624.0,489.6 C633.3,495.3 635.6,491.6 644.8,498.0 C654.0,504.4 656.3,504.0 651.7,508.7 C647.1,513.4 643.7,512.0 631.0,512.0 C618.3,512.0 625.2,508.0 613.5,508.7 C601.8,509.4 609.9,509.4 596.0,514.0 C582.1,518.6 585.7,516.3 571.7,522.6 C557.7,528.9 563.2,526.0 554.0,533.0 C544.8,540.0 555.5,537.8 544.0,543.5 C532.5,549.2 532.4,550.0 519.6,550.0 C506.8,550.0 511.7,551.5 505.7,543.5 C499.7,535.5 502.7,537.6 501.5,526.0 C500.3,514.4 500.2,516.8 502.0,508.7Z" fill="#d7effc" stroke="#151515" stroke-width="0.95"/>
<path d="M657.8,453.5 C659.5,447.0 658.9,447.8 664.0,447.0 C669.1,446.2 668.2,447.0 673.0,451.0 C677.8,455.0 673.5,457.4 678.5,459.0 C683.5,460.6 681.8,455.7 688.0,455.7 C694.2,455.7 694.7,454.7 697.0,459.0 C699.3,463.3 694.1,463.7 694.8,468.7 C695.5,473.7 693.3,474.0 699.0,474.0 C704.7,474.0 703.3,472.0 712.0,468.7 C720.7,465.4 716.3,466.9 725.0,464.0 C733.7,461.1 730.7,462.8 738.0,460.0 C745.3,457.2 726.3,457.4 747.0,455.7 C767.7,454.0 782.3,424.2 800.0,455.0 C817.7,485.8 816.3,518.1 800.0,548.0 C783.7,577.9 770.9,545.1 751.0,544.8 C731.1,544.5 747.5,544.9 740.4,547.0 C733.3,549.1 735.1,552.7 729.6,551.0 C724.1,549.3 726.9,549.0 724.0,542.0 C721.1,535.0 722.0,537.0 721.0,530.0 C720.0,523.0 723.2,521.8 720.9,520.9 C718.6,520.0 719.8,526.0 714.0,527.4 C708.2,528.8 709.9,525.0 703.5,525.0 C697.1,525.0 701.3,526.2 694.8,527.4 C688.3,528.6 689.8,525.6 684.0,528.5 C678.2,531.4 684.1,534.2 677.4,536.0 C670.7,537.8 672.8,533.7 664.0,534.0 C655.2,534.3 658.9,535.3 651.0,537.0 C643.1,538.7 645.4,540.8 640.4,539.0 C635.4,537.2 635.3,536.4 636.0,531.7 C636.7,527.0 636.0,528.2 642.6,525.0 C649.2,521.8 648.6,525.7 655.7,522.0 C662.8,518.3 656.8,519.8 664.0,514.0 C671.2,508.2 670.4,510.3 677.4,504.6 C684.4,498.9 683.9,503.2 685.0,497.0 C686.1,490.8 686.1,492.5 680.7,486.0 C675.3,479.5 675.9,483.9 668.7,477.4 C661.5,470.9 662.6,474.5 659.0,466.5 C655.4,458.5 656.1,460.0 657.8,453.5Z" fill="#d7effc" stroke="#151515" stroke-width="0.95"/>
<path d="M622.0,414.0 C624.0,410.3 624.7,409.5 631.0,410.0 C637.3,410.5 634.7,411.5 641.0,415.5 C647.3,419.5 646.0,416.5 650.0,422.0 C654.0,427.5 653.3,426.0 653.0,432.0 C652.7,438.0 653.0,438.0 649.0,440.0 C645.0,442.0 646.7,441.7 641.0,438.0 C635.3,434.3 637.3,434.7 632.0,429.0 C626.7,423.3 628.3,426.0 625.0,421.0 C621.7,416.0 620.0,417.7 622.0,414.0Z" fill="#d7effc" stroke="#151515" stroke-width="0.95"/>
<path d="M694.8,546.0 C683.2,546.3 689.0,546.3 681.7,551.0 C674.4,555.7 679.6,555.7 673.0,560.0 C666.4,564.3 669.3,563.3 662.0,564.0 C654.7,564.7 656.7,565.1 651.0,562.0 C645.3,558.9 648.3,556.4 644.8,554.6 C641.3,552.8 640.8,554.2 640.4,556.7 C640.0,559.2 641.2,558.0 643.7,562.0 C646.2,566.0 647.3,562.8 648.0,568.7 C648.7,574.6 646.2,572.4 645.9,579.6 C645.6,586.8 647.6,582.7 647.0,590.4 C646.4,598.1 647.8,594.9 644.0,602.6 C640.2,610.3 642.1,607.7 635.7,613.5 C629.3,619.3 632.0,615.7 624.8,620.0 C617.6,624.3 616.3,622.2 614.0,626.5 C611.7,630.8 616.0,627.2 618.0,633.0 C620.0,638.8 622.1,638.7 620.0,644.0 C617.9,649.3 618.1,647.3 611.7,649.0 C605.3,650.7 608.1,651.4 600.9,649.0 C593.7,646.6 598.7,644.8 590.0,641.7 C581.3,638.6 583.5,642.5 574.8,639.6 C566.1,636.7 569.4,638.9 564.0,633.0 C558.6,627.1 560.0,630.7 558.5,622.0 C557.0,613.3 557.4,616.3 559.6,607.0 C561.8,597.7 565.4,602.7 565.0,594.0 C564.6,585.3 563.2,590.1 558.5,581.0 C553.8,571.9 556.4,570.4 550.9,566.7 C545.4,563.0 547.1,564.6 542.0,570.0 C536.9,575.4 539.7,575.8 535.7,583.0 C531.7,590.2 531.6,585.2 530.0,591.7 C528.4,598.2 529.1,594.6 531.0,602.6 C532.9,610.6 534.9,608.6 535.7,615.7 C536.5,622.8 537.9,620.4 533.5,624.0 C529.1,627.6 528.4,627.2 522.6,626.5 C516.8,625.8 518.5,627.2 516.0,622.0 C513.5,616.8 517.1,615.3 515.0,611.0 C512.9,606.7 512.6,607.4 509.6,609.0 C506.6,610.6 506.0,609.1 506.0,615.7 C506.0,622.3 505.6,620.0 509.6,628.7 C513.6,637.4 510.9,635.3 518.0,641.7 C525.1,648.1 522.3,646.6 531.0,648.0 C539.7,649.4 536.0,645.3 544.0,646.0 C552.0,646.7 550.5,645.0 555.0,650.0 C559.5,655.0 558.1,653.7 557.4,661.0 C556.7,668.3 553.8,664.0 553.0,672.0 C552.2,680.0 550.7,678.4 555.0,685.0 C559.3,691.6 558.0,688.7 566.0,691.7 C574.0,694.7 571.0,691.2 579.0,694.0 C587.0,696.8 582.7,700.0 590.0,700.0 C597.3,700.0 595.9,699.0 600.9,694.0 C605.9,689.0 605.0,692.3 605.0,685.0 C605.0,677.7 601.6,680.0 600.9,672.0 C600.2,664.0 599.4,664.7 603.0,661.0 C606.6,657.3 606.0,658.7 611.7,661.0 C617.4,663.3 614.9,662.8 620.0,668.0 C625.1,673.2 626.1,670.8 627.0,676.5 C627.9,682.2 622.6,679.2 622.6,685.0 C622.6,690.8 626.3,687.4 627.0,694.0 C627.7,700.6 627.1,697.6 624.8,704.8 C622.5,712.0 620.7,707.7 620.0,715.7 C619.3,723.7 618.9,721.6 622.6,728.7 C626.3,735.8 624.5,731.9 631.0,737.0 C637.5,742.1 635.4,742.4 642.0,744.0 C648.6,745.6 646.2,741.0 650.9,741.7 C655.6,742.4 652.3,742.6 656.0,746.0 C659.7,749.4 655.3,748.3 662.0,752.0 C668.7,755.7 663.3,754.3 676.0,757.0 C688.7,759.7 680.3,761.7 700.0,760.0 C719.7,758.3 701.7,755.3 735.0,752.0 C768.3,748.7 778.3,818.0 800.0,750.0 C821.7,682.0 816.3,616.4 800.0,548.0 C783.7,479.6 770.9,545.1 751.0,544.8 C731.1,544.5 747.5,544.9 740.4,547.0 C733.3,549.1 737.6,550.0 729.6,551.0 C721.6,552.0 728.1,551.7 716.5,550.0 C704.9,548.3 706.4,545.7 694.8,546.0Z" fill="#d7effc" stroke="#151515" stroke-width="0.95"/>
<ellipse cx="474.0" cy="562.0" rx="10.0" ry="11.0" transform="rotate(0 474.0 562.0)" fill="#d7effc" stroke="#151515" stroke-width="0.95"/>
<ellipse cx="479.0" cy="592.0" rx="6.5" ry="6.5" transform="rotate(0 479.0 592.0)" fill="#d7effc" stroke="#151515" stroke-width="0.95"/>
<path d="M505.0,668.0 C506.0,663.7 505.0,664.3 510.0,661.0 C515.0,657.7 513.3,658.7 520.0,658.0 C526.7,657.3 524.0,657.0 530.0,659.0 C536.0,661.0 536.3,660.0 538.0,664.0 C539.7,668.0 539.3,667.7 535.0,671.0 C530.7,674.3 532.0,672.3 525.0,674.0 C518.0,675.7 520.0,676.0 514.0,676.0 C508.0,676.0 510.0,676.7 507.0,674.0 C504.0,671.3 504.0,672.3 505.0,668.0Z" fill="#d7effc" stroke="#151515" stroke-width="0.95"/>
<ellipse cx="524.0" cy="487.0" rx="5.0" ry="3.5" transform="rotate(-20 524.0 487.0)" fill="#d7effc" stroke="#151515" stroke-width="0.95"/>
<path d="M600.9,663.5 C600.9,657.7 601.4,659.0 605.0,659.0 C608.6,659.0 606.7,659.2 611.7,663.5 C616.7,667.8 615.6,666.2 620.0,672.0 C624.4,677.8 624.8,674.4 624.8,681.0 C624.8,687.6 624.4,685.7 620.0,691.7 C615.6,697.7 616.7,697.6 611.7,699.0 C606.7,700.4 607.9,700.7 605.0,696.0 C602.1,691.3 603.0,691.5 603.0,685.0 C603.0,678.5 605.7,683.7 605.0,676.5 C604.3,669.3 600.9,669.3 600.9,663.5Z" fill="#efe7ee" stroke="#151515" stroke-width="0.95"/>
<ellipse cx="570.0" cy="709.0" rx="9.0" ry="7.0" transform="rotate(0 570.0 709.0)" fill="#efe7ee" stroke="#151515" stroke-width="0.95"/>
<ellipse cx="682.0" cy="600.0" rx="6.0" ry="5.0" transform="rotate(0 682.0 600.0)" fill="#e6eef8" stroke="#151515" stroke-width="0.95"/>
<ellipse cx="669.0" cy="680.5" rx="4.5" ry="4.5" transform="rotate(0 669.0 680.5)" fill="#e6eef8" stroke="#151515" stroke-width="0.95"/>
<ellipse cx="685.7" cy="687.4" rx="7.0" ry="5.0" transform="rotate(0 685.7 687.4)" fill="#e6eef8" stroke="#151515" stroke-width="0.95"/>
<ellipse cx="632.6" cy="730.0" rx="3.5" ry="3.5" transform="rotate(0 632.6 730.0)" fill="#d7effc" stroke="#151515" stroke-width="0.95"/>
<ellipse cx="660.5" cy="715.6" rx="3.2" ry="3.2" transform="rotate(0 660.5 715.6)" fill="#e6eef8" stroke="#151515" stroke-width="0.95"/>
<path d="M629.0,628.7 C628.3,623.2 627.7,625.2 635.7,623.0 C643.7,620.8 642.9,620.1 653.0,622.0 C663.1,623.9 658.7,622.8 666.0,628.7 C673.3,634.6 671.5,632.5 674.8,639.6 C678.1,646.7 677.5,642.9 675.9,650.0 C674.3,657.1 674.7,654.7 670.0,661.0 C665.3,667.3 667.4,667.4 661.7,669.0 C656.0,670.6 657.3,669.0 653.0,665.7 C648.7,662.4 647.2,663.4 648.7,659.0 C650.2,654.6 653.8,656.9 657.4,652.6 C661.0,648.3 662.5,648.9 659.6,646.0 C656.7,643.1 656.0,646.1 648.7,644.0 C641.4,641.9 644.4,644.7 637.8,639.6 C631.2,634.5 629.7,634.2 629.0,628.7Z" fill="#bfe5fb" stroke="#151515" stroke-width="0.95"/>
<path d="M725.0,488.0 C726.5,482.6 727.4,485.3 734.0,479.6 C740.6,473.9 737.6,474.9 744.8,470.9 C752.0,466.9 750.0,467.2 755.7,467.6 C761.4,468.0 762.0,468.4 762.0,472.0 C762.0,475.6 760.4,473.8 755.7,478.5 C751.0,483.2 751.3,480.2 748.0,486.0 C744.7,491.8 749.2,491.2 745.9,495.9 C742.6,500.6 743.4,500.0 738.0,500.0 C732.6,500.0 733.9,499.9 729.6,495.9 C725.3,491.9 723.5,493.4 725.0,488.0Z" fill="#bfe5fb" stroke="#151515" stroke-width="0.95"/>
<path d="M800.0,465.0 C795.3,435.3 792.1,468.6 786.0,470.9 C779.9,473.2 787.5,467.6 781.7,472.0 C775.9,476.4 775.9,475.0 768.7,484.0 C761.5,493.0 765.1,489.7 760.0,499.0 C754.9,508.3 756.5,503.3 753.5,512.0 C750.5,520.7 752.5,516.3 751.0,525.0 C749.5,533.7 747.4,530.0 749.0,538.0 C750.6,546.0 751.0,543.1 755.7,549.0 C760.4,554.9 758.2,552.0 763.0,555.7 C767.8,559.4 757.7,558.6 770.0,560.0 C782.3,561.4 790.0,591.7 800.0,560.0 C810.0,528.3 804.7,494.7 800.0,465.0Z" fill="#bfe5fb" stroke="#151515" stroke-width="0.95"/>
<ellipse cx="601.0" cy="459.0" rx="7.5" ry="4.5" transform="rotate(25 601.0 459.0)" fill="#bfe5fb" stroke="#151515" stroke-width="0.95"/>
<ellipse cx="638.0" cy="571.0" rx="7.0" ry="6.0" transform="rotate(0 638.0 571.0)" fill="#bfe5fb" stroke="#151515" stroke-width="0.95"/>
<ellipse cx="633.5" cy="685.0" rx="7.0" ry="4.5" transform="rotate(0 633.5 685.0)" fill="#bfe5fb" stroke="#151515" stroke-width="0.95"/>
<ellipse cx="530.0" cy="540.0" rx="4.0" ry="3.0" transform="rotate(0 530.0 540.0)" fill="#d7effc" stroke="#151515" stroke-width="0.95"/>
<ellipse cx="693.0" cy="565.0" rx="7.0" ry="7.5" transform="rotate(0 693.0 565.0)" fill="#bfe5fb" stroke="#151515" stroke-width="0.95"/>
<ellipse cx="455.5" cy="653.0" rx="5.0" ry="6.0" transform="rotate(0 455.5 653.0)" fill="#d7effc" stroke="#151515" stroke-width="0.95"/>
<ellipse cx="454.0" cy="647.5" rx="2.2" ry="2.5" transform="rotate(0 454.0 647.5)" fill="#d7effc" stroke="#151515" stroke-width="0.95"/>
<path d="M478.0,626.0 C480.3,624.0 481.0,624.3 483.0,626.0 C485.0,627.7 485.3,628.3 484.0,631.0 C482.7,633.7 481.7,630.7 479.0,634.0 C476.3,637.3 478.3,638.7 476.0,641.0 C473.7,643.3 473.3,642.7 472.0,641.0 C470.7,639.3 470.7,639.0 472.0,636.0 C473.3,633.0 474.0,635.3 476.0,632.0 C478.0,628.7 475.7,628.0 478.0,626.0Z" fill="#e6eef8" stroke="#151515" stroke-width="0.95"/>
<path d="M300.0,848.0 C310.9,836.7 303.6,848.3 312.6,846.0 C321.6,843.7 317.0,842.3 327.0,841.0 C337.0,839.7 333.0,837.7 342.6,842.0 C352.2,846.3 347.9,846.1 355.7,854.0 C363.5,861.9 356.6,860.0 366.0,865.7 C375.4,871.4 374.4,866.2 384.0,871.0 C393.6,875.8 392.1,872.7 394.8,880.0 C397.5,887.3 392.0,885.2 392.0,893.0 C392.0,900.8 390.5,898.3 394.8,903.5 C399.1,908.7 398.0,909.6 405.0,908.7 C412.0,907.8 409.5,907.0 415.7,900.9 C421.9,894.8 416.6,896.0 423.5,890.4 C430.4,884.8 428.7,887.5 436.5,884.0 C444.3,880.5 442.6,883.5 447.0,880.0 C451.4,876.5 447.0,876.2 449.6,873.5 C452.2,870.8 452.7,870.7 454.8,872.0 C456.9,873.3 456.9,871.3 456.0,877.4 C455.1,883.5 453.7,880.9 452.0,890.4 C450.3,899.9 450.0,895.6 450.9,906.0 C451.8,916.4 451.1,910.4 454.8,921.7 C458.5,933.0 513.6,933.9 462.0,940.0 C410.4,946.1 360.7,960.0 300.0,940.0 C239.3,920.0 280.0,910.7 280.0,880.0 C280.0,849.3 289.1,859.3 300.0,848.0Z" fill="#e6eef8" stroke="#151515" stroke-width="0.95"/>
<path d="M349.0,890.4 C355.0,886.7 348.8,892.8 358.0,894.0 C367.2,895.2 366.8,891.7 376.5,894.0 C386.2,896.3 380.9,896.0 387.0,900.9 C393.1,905.8 387.1,906.1 394.8,908.7 C402.5,911.3 402.3,910.0 410.0,908.7 C417.7,907.4 413.7,903.7 418.0,904.8 C422.3,905.9 421.3,903.6 423.0,912.0 C424.7,920.4 449.0,924.0 423.0,930.0 C397.0,936.0 372.7,938.3 345.0,930.0 C317.3,921.7 338.7,918.2 340.0,905.0 C341.3,891.8 343.0,894.1 349.0,890.4Z" fill="#d7effc" stroke="#151515" stroke-width="0.95"/>
<path d="M359.6,911.0 C361.3,907.1 362.2,907.3 368.7,904.8 C375.2,902.3 372.0,901.8 379.0,903.5 C386.0,905.2 382.6,906.5 389.6,910.0 C396.6,913.5 391.3,912.7 400.0,914.0 C408.7,915.3 408.4,912.3 415.7,914.0 C423.0,915.7 419.9,913.7 422.0,919.0 C424.1,924.3 436.0,926.3 422.0,930.0 C408.0,933.7 397.0,933.0 380.0,930.0 C363.0,927.0 376.5,925.5 371.0,921.0 C365.5,916.5 367.3,919.8 363.5,916.5 C359.7,913.2 357.9,914.9 359.6,911.0Z" fill="#bfe5fb" stroke="#151515" stroke-width="0.95"/>
<path d="M379.0,923.0 C381.6,919.3 382.6,921.7 389.6,919.0 C396.6,916.3 393.2,915.4 400.0,915.0 C406.8,914.6 402.7,917.1 410.0,917.8 C417.3,918.5 418.0,912.9 422.0,917.0 C426.0,921.1 435.4,925.7 422.0,930.0 C408.6,934.3 396.0,932.3 381.7,930.0 C367.4,927.7 376.4,926.7 379.0,923.0Z" fill="#7fb6e6" stroke="#151515" stroke-width="0.95"/>
<path d="M326.0,779.0 C328.0,774.5 326.7,777.2 333.0,776.5 C339.3,775.8 337.7,775.5 345.0,777.0 C352.3,778.5 349.4,778.0 355.0,781.0 C360.6,784.0 361.4,782.3 361.7,786.0 C362.0,789.7 361.6,788.7 356.0,792.0 C350.4,795.3 352.3,795.0 345.0,796.0 C337.7,797.0 340.0,797.0 334.0,795.0 C328.0,793.0 329.7,795.3 327.0,790.0 C324.3,784.7 324.0,783.5 326.0,779.0Z" fill="#e6eef8" stroke="#151515" stroke-width="0.95"/>
<path d="M329.0,722.0 C332.0,720.0 331.3,720.7 335.0,724.0 C338.7,727.3 337.3,726.0 340.0,732.0 C342.7,738.0 343.3,736.7 343.0,742.0 C342.7,747.3 343.0,745.7 339.0,748.0 C335.0,750.3 335.3,750.0 331.0,749.0 C326.7,748.0 327.7,751.3 326.0,745.0 C324.3,738.7 325.0,737.7 326.0,730.0 C327.0,722.3 326.0,724.0 329.0,722.0Z" fill="#e6eef8" stroke="#151515" stroke-width="0.95"/>
<ellipse cx="357.4" cy="741.7" rx="7.0" ry="7.0" transform="rotate(0 357.4 741.7)" fill="#e6eef8" stroke="#151515" stroke-width="0.95"/>
<ellipse cx="364.0" cy="716.7" rx="5.0" ry="5.0" transform="rotate(0 364.0 716.7)" fill="#e6eef8" stroke="#151515" stroke-width="0.95"/>
<path d="M311.0,652.0 C312.0,649.5 314.3,649.5 320.0,649.5 C325.7,649.5 323.0,649.5 328.0,652.0 C333.0,654.5 331.5,653.7 335.0,657.0 C338.5,660.3 339.2,659.5 338.5,662.0 C337.8,664.5 337.5,664.5 333.0,664.5 C328.5,664.5 330.3,664.5 325.0,662.0 C319.7,659.5 321.7,660.3 317.0,657.0 C312.3,653.7 310.0,654.5 311.0,652.0Z" fill="#e6eef8" stroke="#151515" stroke-width="0.95"/>
<ellipse cx="340.5" cy="661.5" rx="2.3" ry="4.0" transform="rotate(30 340.5 661.5)" fill="#e6eef8" stroke="#151515" stroke-width="0.95"/>
<ellipse cx="350.0" cy="722.5" rx="3.0" ry="3.0" transform="rotate(0 350.0 722.5)" fill="#efe7ee" stroke="#151515" stroke-width="0.95"/>
<path d="M385.0,840.0 C386.0,831.7 385.3,833.7 389.0,825.0 C392.7,816.3 391.0,819.3 396.0,814.0 C401.0,808.7 399.7,809.3 404.0,809.0 C408.3,808.7 408.0,808.7 409.0,813.0 C410.0,817.3 410.0,816.3 407.0,822.0 C404.0,827.7 404.3,824.0 400.0,830.0 C395.7,836.0 397.7,833.0 394.0,840.0 C390.3,847.0 391.7,847.7 389.0,851.0 C386.3,854.3 387.3,853.7 386.0,850.0 C384.7,846.3 384.0,848.3 385.0,840.0Z" fill="#e6eef8" stroke="#151515" stroke-width="0.95"/>
<ellipse cx="424.8" cy="669.6" rx="5.0" ry="5.0" transform="rotate(0 424.8 669.6)" fill="#e6eef8" stroke="#151515" stroke-width="0.95"/>
<ellipse cx="417.0" cy="856.0" rx="5.0" ry="5.0" transform="rotate(0 417.0 856.0)" fill="#e6eef8" stroke="#151515" stroke-width="0.95"/>
<ellipse cx="482.0" cy="854.7" rx="7.5" ry="7.5" transform="rotate(0 482.0 854.7)" fill="#e6eef8" stroke="#151515" stroke-width="0.95"/>
<path d="M192.0,487.0 C188.3,491.3 188.3,489.1 188.7,495.7 C189.1,502.2 189.4,500.7 193.0,506.5 C196.7,512.3 195.2,507.2 199.6,513.0 C203.9,518.8 200.3,517.4 206.1,523.9 C211.9,530.4 208.3,528.6 217.0,532.6 C225.7,536.6 223.5,536.2 232.2,535.9 C240.9,535.5 235.1,534.4 243.0,531.5 C251.0,528.6 248.5,530.8 256.1,527.2 C263.7,523.6 261.9,526.1 265.9,520.7 C269.9,515.2 268.0,517.8 268.0,510.9 C268.0,504.0 268.0,506.5 265.9,500.0 C263.7,493.5 264.8,497.8 261.5,491.3 C258.3,484.8 259.0,486.6 256.1,480.4 C253.2,474.3 257.2,475.0 252.8,472.8 C248.5,470.7 245.9,471.0 243.0,473.9 C240.1,476.8 247.0,477.9 244.1,481.5 C241.2,485.1 240.1,484.1 234.3,484.8 C228.6,485.5 230.4,484.8 226.7,483.7 C223.1,482.6 226.7,482.6 223.5,481.5 C220.2,480.4 221.3,479.3 217.0,480.4 C212.6,481.5 214.8,485.5 210.4,484.8 C206.1,484.1 207.5,479.0 203.9,478.3 C200.3,477.5 203.6,479.7 199.6,482.6 C195.6,485.5 195.6,482.6 192.0,487.0Z" fill="#fde1e0" stroke="#151515" stroke-width="0.95"/>
<ellipse cx="204.0" cy="501.7" rx="8.5" ry="7.5" transform="rotate(0 204.0 501.7)" fill="#f8bcc2" stroke="#151515" stroke-width="0.95"/>
<ellipse cx="203.5" cy="503.0" rx="1.5" ry="1.5" transform="rotate(0 203.5 503.0)" fill="#f2919b" stroke="#151515" stroke-width="0.95"/>
<ellipse cx="235.4" cy="504.8" rx="5.2" ry="5.0" transform="rotate(0 235.4 504.8)" fill="#efe7ee" stroke="#151515" stroke-width="0.95"/>
<path d="M333.0,463.0 C334.9,456.5 333.2,460.2 338.7,456.5 C344.2,452.8 342.5,454.2 349.6,452.0 C356.7,449.8 353.5,448.7 360.0,450.0 C366.5,451.3 363.0,451.5 369.0,456.0 C375.0,460.5 373.5,459.3 378.0,463.5 C382.5,467.7 377.4,465.8 382.6,468.5 C387.8,471.2 388.8,468.5 393.5,471.7 C398.2,474.9 398.5,472.2 396.7,478.0 C394.9,483.8 391.6,482.4 388.0,489.0 C384.4,495.6 385.2,492.0 385.9,497.8 C386.6,503.6 389.6,501.8 390.0,506.5 C390.4,511.2 390.2,511.3 387.0,512.0 C383.8,512.7 383.1,513.4 380.4,508.7 C377.7,504.0 380.5,505.0 379.0,497.8 C377.5,490.6 379.9,492.8 376.0,487.0 C372.1,481.2 373.2,484.1 367.4,480.4 C361.6,476.7 363.8,476.8 358.7,476.0 C353.6,475.2 354.3,474.3 352.0,478.0 C349.7,481.7 354.7,483.2 351.7,487.0 C348.7,490.8 348.9,488.2 343.0,489.5 C337.1,490.8 337.3,495.5 334.0,491.0 C330.7,486.5 333.3,485.3 333.0,476.0 C332.7,466.7 331.1,469.5 333.0,463.0Z" fill="#fde1e0" stroke="#151515" stroke-width="0.95"/>
<ellipse cx="361.0" cy="466.0" rx="5.5" ry="9.5" transform="rotate(-20 361.0 466.0)" fill="#f8bcc2" stroke="#151515" stroke-width="0.95"/>
<ellipse cx="346.0" cy="482.6" rx="3.5" ry="3.5" transform="rotate(0 346.0 482.6)" fill="#f8bcc2" stroke="#151515" stroke-width="0.95"/>
<ellipse cx="378.0" cy="455.4" rx="4.5" ry="4.5" transform="rotate(0 378.0 455.4)" fill="#efe7ee" stroke="#151515" stroke-width="0.95"/>
<ellipse cx="409.8" cy="477.0" rx="7.0" ry="7.0" transform="rotate(0 409.8 477.0)" fill="#fde1e0" stroke="#151515" stroke-width="0.95"/>
<ellipse cx="400.0" cy="458.7" rx="2.5" ry="2.5" transform="rotate(0 400.0 458.7)" fill="#efe7ee" stroke="#151515" stroke-width="0.95"/>
<path d="M353.0,668.0 C353.7,663.0 353.0,664.7 356.0,660.0 C359.0,655.3 359.3,658.7 362.0,654.0 C364.7,649.3 361.3,649.3 364.0,646.0 C366.7,642.7 366.4,643.0 370.0,644.0 C373.6,645.0 373.8,644.7 374.8,649.0 C375.8,653.3 375.3,653.0 373.0,657.0 C370.7,661.0 370.7,656.7 368.0,661.0 C365.3,665.3 367.7,664.8 365.0,670.0 C362.3,675.2 363.7,674.8 360.0,676.5 C356.3,678.2 356.3,677.8 354.0,675.0 C351.7,672.2 352.3,673.0 353.0,668.0Z" fill="#fde1e0" stroke="#151515" stroke-width="0.95"/>
<path d="M575.0,585.0 C580.4,580.7 580.0,580.3 590.0,581.0 C600.0,581.7 597.8,579.8 605.0,587.0 C612.2,594.2 612.4,594.6 611.7,602.6 C611.0,610.6 610.2,605.5 603.0,611.0 C595.8,616.5 598.0,617.4 590.0,619.0 C582.0,620.6 584.8,619.7 579.0,615.7 C573.2,611.7 574.4,614.2 572.6,607.0 C570.8,599.8 572.9,601.3 573.7,594.0 C574.5,586.7 569.6,589.3 575.0,585.0Z" fill="#efe7ee" stroke="#151515" stroke-width="0.95"/>
<ellipse cx="591.0" cy="599.5" rx="10.0" ry="11.0" transform="rotate(0 591.0 599.5)" fill="#fde1e0" stroke="#151515" stroke-width="0.95"/>
<ellipse cx="590.0" cy="595.5" rx="6.0" ry="4.5" transform="rotate(-15 590.0 595.5)" fill="#f8bcc2" stroke="#151515" stroke-width="0.95"/>
<path d="M723.0,506.0 C725.3,500.5 723.0,504.2 729.0,503.5 C735.0,502.8 735.2,502.2 741.0,504.0 C746.8,505.8 744.5,503.0 746.5,509.0 C748.5,515.0 747.2,513.3 747.0,522.0 C746.8,530.7 748.0,529.0 746.0,535.0 C744.0,541.0 747.0,538.3 741.0,540.0 C735.0,541.7 734.2,542.0 728.0,540.0 C721.8,538.0 724.5,540.7 722.5,534.0 C720.5,527.3 721.8,529.3 722.0,520.0 C722.2,510.7 720.7,511.5 723.0,506.0Z" fill="#efe7ee" stroke="#151515" stroke-width="0.95"/>
<ellipse cx="734.0" cy="513.0" rx="7.0" ry="7.0" transform="rotate(0 734.0 513.0)" fill="#fde1e0" stroke="#151515" stroke-width="0.95"/>
<ellipse cx="734.0" cy="513.0" rx="3.2" ry="3.2" transform="rotate(0 734.0 513.0)" fill="#f8bcc2" stroke="#151515" stroke-width="0.95"/>
<ellipse cx="734.0" cy="513.0" rx="1.1" ry="1.1" transform="rotate(0 734.0 513.0)" fill="#dd3a44" stroke="none" stroke-width="0"/>
<path d="M396.5,704.8 C397.2,697.5 397.9,698.3 403.0,691.7 C408.1,685.1 403.0,687.6 411.7,685.0 C420.4,682.4 418.9,684.7 429.0,684.0 C439.1,683.3 434.7,686.3 442.0,683.0 C449.3,679.7 443.6,678.7 450.9,674.0 C458.2,669.3 455.3,669.7 464.0,669.0 C472.7,668.3 470.5,668.8 477.0,672.0 C483.5,675.2 480.2,674.4 483.5,678.7 C486.8,683.0 486.2,679.9 487.0,685.0 C487.8,690.1 485.0,689.8 486.0,694.0 C487.0,698.2 486.0,697.3 490.0,697.5 C494.0,697.7 493.0,695.5 498.0,694.7 C503.0,693.9 501.9,696.0 505.0,695.0 C508.1,694.0 505.3,694.5 507.3,691.8 C509.3,689.1 508.4,687.4 511.0,687.0 C513.6,686.6 512.5,688.0 515.0,690.7 C517.5,693.4 516.6,691.6 518.6,695.0 C520.6,698.4 518.3,698.2 520.9,700.9 C523.5,703.6 522.4,701.1 526.5,703.0 C530.6,704.9 528.8,703.8 533.3,706.5 C537.8,709.2 535.5,706.5 540.0,711.0 C544.5,715.5 543.9,714.0 546.9,720.0 C549.9,726.0 548.3,722.3 549.0,729.0 C549.7,735.7 548.2,732.4 549.0,740.0 C549.8,747.6 549.1,744.0 551.4,751.7 C553.7,759.4 553.0,755.6 556.0,763.0 C559.0,770.4 559.7,765.0 560.4,774.0 C561.1,783.0 560.1,779.7 558.0,790.0 C555.9,800.3 551.0,797.8 554.0,805.0 C557.0,812.2 558.3,811.7 567.0,811.7 C575.7,811.7 571.3,811.6 580.0,805.0 C588.7,798.4 585.8,797.7 593.0,792.0 C600.2,786.3 596.7,792.1 601.7,787.8 C606.7,783.5 605.9,784.9 608.0,779.0 C610.1,773.1 606.7,774.7 608.0,770.0 C609.3,765.3 608.0,767.0 612.0,765.0 C616.0,763.0 615.3,762.3 620.0,764.0 C624.7,765.7 623.3,766.4 626.0,770.0 C628.7,773.6 626.7,768.9 628.0,774.8 C629.3,780.7 627.0,781.1 630.0,787.8 C633.0,794.5 630.8,793.5 637.0,794.9 C643.2,796.3 642.5,790.3 648.5,792.0 C654.5,793.7 649.8,795.3 655.0,800.0 C660.2,804.7 658.3,802.0 664.0,806.0 C669.7,810.0 666.7,809.3 672.0,812.0 C677.3,814.7 674.0,813.7 680.0,814.0 C686.0,814.3 682.7,813.0 690.0,813.0 C697.3,813.0 695.0,814.7 702.0,814.0 C709.0,813.3 709.1,814.3 710.9,811.0 C712.7,807.7 712.0,807.7 707.4,804.0 C702.8,800.3 704.0,803.5 697.0,800.0 C690.0,796.5 692.9,798.0 686.5,793.5 C680.1,789.0 681.3,793.0 677.8,786.5 C674.3,780.0 675.3,780.2 676.0,774.0 C676.7,767.8 675.3,770.3 680.0,768.0 C684.7,765.7 681.7,768.0 690.0,767.0 C698.3,766.0 695.0,765.3 705.0,765.0 C715.0,764.7 710.0,766.3 720.0,766.0 C730.0,765.7 726.7,763.3 735.0,764.0 C743.3,764.7 723.3,766.7 745.0,768.0 C766.7,769.3 781.7,704.0 800.0,768.0 C818.3,832.0 904.0,896.0 800.0,960.0 C696.0,1024.0 591.8,966.7 488.0,960.0 C384.2,953.3 487.2,952.0 488.7,940.0 C490.2,928.0 491.8,935.3 492.6,924.0 C493.4,912.7 489.7,913.7 491.0,906.0 C492.3,898.3 494.7,905.2 496.5,900.9 C498.3,896.6 500.0,897.4 496.5,893.0 C493.0,888.6 491.2,893.5 486.0,887.8 C480.8,882.1 480.1,882.9 481.0,876.0 C481.9,869.1 483.7,871.7 488.7,867.0 C493.7,862.3 491.9,866.8 496.0,862.0 C500.1,857.2 498.2,859.4 500.9,852.6 C503.6,845.8 504.7,848.6 504.0,841.7 C503.3,834.8 504.1,838.6 498.7,832.0 C493.3,825.4 493.7,827.4 487.8,822.0 C481.9,816.6 486.9,816.7 481.0,815.7 C475.1,814.7 478.7,818.3 470.0,819.0 C461.3,819.7 464.3,819.6 455.0,817.8 C445.7,816.0 447.7,817.8 442.0,813.5 C436.3,809.2 442.1,810.0 437.8,804.8 C433.5,799.6 434.4,803.9 429.0,798.0 C423.6,792.1 422.5,794.2 421.5,787.0 C420.5,779.8 424.1,784.3 425.9,776.5 C427.7,768.7 429.6,770.0 427.0,763.5 C424.4,757.0 425.3,760.6 418.0,757.0 C410.7,753.4 411.8,756.6 405.0,752.6 C398.2,748.6 399.7,751.5 397.6,745.0 C395.5,738.5 397.6,740.0 398.7,733.0 C399.8,726.0 397.3,727.3 400.9,724.0 C404.5,720.7 404.6,724.7 409.6,723.0 C414.6,721.3 415.3,722.2 416.0,719.0 C416.7,715.8 416.7,715.3 411.7,713.5 C406.7,711.7 406.0,716.4 400.9,713.5 C395.8,710.6 395.8,712.1 396.5,704.8Z" fill="#fde1e0" stroke="#151515" stroke-width="0.95"/>
<path d="M504.0,867.0 C504.0,860.5 509.5,864.3 514.8,856.5 C520.1,848.7 514.9,851.3 520.0,843.5 C525.1,835.7 521.3,835.6 530.0,833.0 C538.7,830.4 538.0,831.4 546.0,835.7 C554.0,840.0 553.1,838.2 554.0,846.0 C554.9,853.8 553.1,850.3 548.7,859.0 C544.3,867.7 547.9,865.0 540.9,872.0 C533.9,879.0 536.5,878.7 527.8,880.0 C519.1,881.3 522.7,880.3 514.8,876.0 C506.9,871.7 504.0,873.5 504.0,867.0Z" fill="#efe7ee" stroke="#151515" stroke-width="0.95"/>
<ellipse cx="592.0" cy="846.9" rx="6.0" ry="14.0" transform="rotate(0 592.0 846.9)" fill="#efe7ee" stroke="#151515" stroke-width="0.95"/>
<ellipse cx="666.6" cy="846.9" rx="12.0" ry="10.0" transform="rotate(15 666.6 846.9)" fill="#efe7ee" stroke="#151515" stroke-width="0.95"/>
<ellipse cx="659.8" cy="817.5" rx="9.0" ry="6.0" transform="rotate(0 659.8 817.5)" fill="#efe7ee" stroke="#151515" stroke-width="0.95"/>
<ellipse cx="711.8" cy="880.8" rx="15.0" ry="8.5" transform="rotate(-8 711.8 880.8)" fill="#efe7ee" stroke="#151515" stroke-width="0.95"/>
<ellipse cx="553.6" cy="869.5" rx="10.0" ry="7.5" transform="rotate(-15 553.6 869.5)" fill="#efe7ee" stroke="#151515" stroke-width="0.95"/>
<ellipse cx="432.0" cy="746.0" rx="8.5" ry="8.0" transform="rotate(0 432.0 746.0)" fill="#efe7ee" stroke="#151515" stroke-width="0.95"/>
<ellipse cx="432.0" cy="746.0" rx="3.5" ry="3.5" transform="rotate(0 432.0 746.0)" fill="#e6eef8" stroke="#151515" stroke-width="0.95"/>
<ellipse cx="460.0" cy="713.0" rx="5.5" ry="12.5" transform="rotate(15 460.0 713.0)" fill="#f4eef2" stroke="#151515" stroke-width="0.95"/>
<path d="M457.0,756.0 C458.7,752.7 457.0,753.0 463.0,751.0 C469.0,749.0 467.0,749.7 475.0,750.0 C483.0,750.3 481.3,749.7 487.0,752.0 C492.7,754.3 491.7,753.7 492.0,757.0 C492.3,760.3 493.3,760.0 488.0,762.0 C482.7,764.0 484.0,762.7 476.0,763.0 C468.0,763.3 470.0,763.7 464.0,763.0 C458.0,762.3 460.3,763.3 458.0,761.0 C455.7,758.7 455.3,759.3 457.0,756.0Z" fill="#e6eef8" stroke="#151515" stroke-width="0.95"/>
<ellipse cx="470.0" cy="775.0" rx="13.0" ry="5.5" transform="rotate(-25 470.0 775.0)" fill="#efe7ee" stroke="#151515" stroke-width="0.95"/>
<ellipse cx="494.0" cy="720.0" rx="7.0" ry="5.0" transform="rotate(0 494.0 720.0)" fill="#f3f1f3" stroke="#151515" stroke-width="0.95"/>
<ellipse cx="492.0" cy="809.0" rx="5.0" ry="4.0" transform="rotate(-20 492.0 809.0)" fill="#efe7ee" stroke="#151515" stroke-width="0.95"/>
<ellipse cx="532.0" cy="801.0" rx="15.0" ry="10.0" transform="rotate(0 532.0 801.0)" fill="#efe7ee" stroke="#151515" stroke-width="0.95"/>
<ellipse cx="672.0" cy="869.0" rx="3.0" ry="3.0" transform="rotate(0 672.0 869.0)" fill="#efe7ee" stroke="#151515" stroke-width="0.95"/>
<ellipse cx="465.0" cy="685.0" rx="10.0" ry="10.0" transform="rotate(0 465.0 685.0)" fill="#f8bcc2" stroke="#151515" stroke-width="0.95"/>
<ellipse cx="465.0" cy="685.0" rx="4.0" ry="4.0" transform="rotate(0 465.0 685.0)" fill="#f2919b" stroke="#151515" stroke-width="0.95"/>
<path d="M416.0,700.0 C417.3,697.8 417.3,697.8 421.0,698.5 C424.7,699.2 423.0,699.8 427.0,702.0 C431.0,704.2 428.7,703.3 433.0,705.0 C437.3,706.7 436.7,704.7 440.0,707.0 C443.3,709.3 443.0,708.8 443.0,712.0 C443.0,715.2 443.0,715.2 440.0,716.5 C437.0,717.8 437.7,717.8 434.0,716.0 C430.3,714.2 433.0,713.7 429.0,711.0 C425.0,708.3 426.0,710.0 422.0,708.0 C418.0,706.0 419.0,707.7 417.0,705.0 C415.0,702.3 414.7,702.2 416.0,700.0Z" fill="#f8bcc2" stroke="#151515" stroke-width="0.95"/>
<path d="M470.0,707.0 C472.7,704.0 472.3,703.7 476.0,705.0 C479.7,706.3 479.0,706.0 481.0,711.0 C483.0,716.0 480.3,713.7 482.0,720.0 C483.7,726.3 484.3,724.0 486.0,730.0 C487.7,736.0 488.3,733.7 487.0,738.0 C485.7,742.3 486.3,741.7 482.0,743.0 C477.7,744.3 479.3,743.7 474.0,742.0 C468.7,740.3 469.7,742.0 466.0,738.0 C462.3,734.0 462.7,735.3 463.0,730.0 C463.3,724.7 465.3,727.3 467.0,722.0 C468.7,716.7 467.0,719.0 468.0,714.0 C469.0,709.0 467.3,710.0 470.0,707.0Z" fill="#f8bcc2" stroke="#151515" stroke-width="0.95"/>
<ellipse cx="475.5" cy="734.0" rx="8.0" ry="4.8" transform="rotate(25 475.5 734.0)" fill="#f2919b" stroke="#151515" stroke-width="0.95"/>
<ellipse cx="473.5" cy="709.0" rx="2.6" ry="2.6" transform="rotate(0 473.5 709.0)" fill="#f2919b" stroke="#151515" stroke-width="0.95"/>
<ellipse cx="498.7" cy="701.5" rx="9.0" ry="5.0" transform="rotate(-20 498.7 701.5)" fill="#f8bcc2" stroke="#151515" stroke-width="0.95"/>
<path d="M490.0,765.0 C491.7,761.3 491.7,762.0 496.0,762.0 C500.3,762.0 499.8,760.7 503.0,765.0 C506.2,769.3 504.8,768.0 505.5,775.0 C506.2,782.0 506.5,780.0 505.0,786.0 C503.5,792.0 505.0,790.0 501.0,793.0 C497.0,796.0 497.7,796.0 493.0,795.0 C488.3,794.0 488.7,794.7 487.0,790.0 C485.3,785.3 486.7,786.7 488.0,781.0 C489.3,775.3 490.3,778.3 491.0,773.0 C491.7,767.7 488.3,768.7 490.0,765.0Z" fill="#f8bcc2" stroke="#151515" stroke-width="0.95"/>
<ellipse cx="437.8" cy="789.6" rx="8.0" ry="7.0" transform="rotate(0 437.8 789.6)" fill="#f8bcc2" stroke="#151515" stroke-width="0.95"/>
<ellipse cx="507.0" cy="821.0" rx="6.5" ry="8.5" transform="rotate(0 507.0 821.0)" fill="#f8bcc2" stroke="#151515" stroke-width="0.95"/>
<ellipse cx="444.0" cy="754.0" rx="3.0" ry="3.0" transform="rotate(0 444.0 754.0)" fill="#f8bcc2" stroke="#151515" stroke-width="0.95"/>
<ellipse cx="461.7" cy="806.0" rx="3.5" ry="3.2" transform="rotate(0 461.7 806.0)" fill="#f8bcc2" stroke="#151515" stroke-width="0.95"/>
<ellipse cx="510.7" cy="854.8" rx="3.0" ry="3.0" transform="rotate(0 510.7 854.8)" fill="#f8bcc2" stroke="#151515" stroke-width="0.95"/>
<path d="M523.5,716.0 C528.2,710.7 530.0,711.3 536.5,715.0 C543.0,718.7 543.0,718.7 543.0,727.0 C543.0,735.3 541.6,732.0 536.5,740.0 C531.4,748.0 535.0,746.3 527.8,751.0 C520.6,755.7 522.1,755.5 514.8,754.0 C507.5,752.5 506.7,751.9 506.0,746.5 C505.3,741.1 507.1,743.0 512.6,737.8 C518.1,732.6 518.8,738.3 522.4,731.0 C526.0,723.7 518.8,721.3 523.5,716.0Z" fill="#f8bcc2" stroke="#151515" stroke-width="0.95"/>
<ellipse cx="542.0" cy="781.0" rx="10.0" ry="10.0" transform="rotate(0 542.0 781.0)" fill="#f8bcc2" stroke="#151515" stroke-width="0.95"/>
<ellipse cx="544.0" cy="786.7" rx="3.5" ry="3.5" transform="rotate(0 544.0 786.7)" fill="#f2919b" stroke="#151515" stroke-width="0.95"/>
<path d="M560.0,832.0 C561.7,825.7 561.0,828.7 567.0,822.0 C573.0,815.3 571.0,818.3 578.0,812.0 C585.0,805.7 581.3,808.7 588.0,803.0 C594.7,797.3 592.7,801.0 598.0,795.0 C603.3,789.0 602.0,792.3 604.0,785.0 C606.0,777.7 601.7,779.7 604.0,773.0 C606.3,766.3 605.0,767.0 611.0,765.0 C617.0,763.0 616.7,762.0 622.0,767.0 C627.3,772.0 625.7,770.3 627.0,780.0 C628.3,789.7 625.0,787.3 626.0,796.0 C627.0,804.7 625.3,800.7 630.0,806.0 C634.7,811.3 638.7,806.7 640.0,812.0 C641.3,817.3 640.7,818.7 634.0,822.0 C627.3,825.3 628.7,820.7 620.0,822.0 C611.3,823.3 615.3,822.7 608.0,826.0 C600.7,829.3 604.0,830.7 598.0,832.0 C592.0,833.3 595.0,828.7 590.0,830.0 C585.0,831.3 586.3,831.0 583.0,836.0 C579.7,841.0 584.3,841.3 580.0,845.0 C575.7,848.7 576.0,848.3 570.0,847.0 C564.0,845.7 565.3,846.0 562.0,841.0 C558.7,836.0 558.3,838.3 560.0,832.0Z" fill="#f8bcc2" stroke="#151515" stroke-width="0.95"/>
<path d="M606.0,775.0 C608.0,769.0 607.3,769.7 612.0,768.0 C616.7,766.3 616.3,765.3 620.0,770.0 C623.7,774.7 622.7,773.7 623.0,782.0 C623.3,790.3 624.3,788.0 621.0,795.0 C617.7,802.0 618.7,798.3 613.0,803.0 C607.3,807.7 609.0,804.0 604.0,809.0 C599.0,814.0 602.0,813.0 598.0,818.0 C594.0,823.0 596.3,823.3 592.0,824.0 C587.7,824.7 586.3,824.7 585.0,820.0 C583.7,815.3 584.3,816.0 588.0,810.0 C591.7,804.0 591.0,807.0 596.0,802.0 C601.0,797.0 599.7,800.3 603.0,795.0 C606.3,789.7 605.0,792.7 606.0,786.0 C607.0,779.3 604.0,781.0 606.0,775.0Z" fill="#f2919b" stroke="#151515" stroke-width="0.95"/>
<ellipse cx="616.0" cy="782.0" rx="7.5" ry="14.0" transform="rotate(5 616.0 782.0)" fill="#f2919b" stroke="#151515" stroke-width="0.95"/>
<ellipse cx="617.0" cy="778.0" rx="3.5" ry="4.0" transform="rotate(0 617.0 778.0)" fill="#ea5f6c" stroke="#151515" stroke-width="0.95"/>
<ellipse cx="593.5" cy="815.0" rx="6.5" ry="8.0" transform="rotate(0 593.5 815.0)" fill="#ea5f6c" stroke="#151515" stroke-width="0.95"/>
<ellipse cx="562.6" cy="855.5" rx="10.0" ry="4.5" transform="rotate(15 562.6 855.5)" fill="#f8bcc2" stroke="#151515" stroke-width="0.95"/>
<ellipse cx="574.0" cy="835.6" rx="7.0" ry="6.0" transform="rotate(0 574.0 835.6)" fill="#f8bcc2" stroke="#151515" stroke-width="0.95"/>
<path d="M494.0,906.0 C495.0,903.3 494.3,903.0 498.0,903.0 C501.7,903.0 500.0,903.7 505.0,906.0 C510.0,908.3 508.0,908.0 513.0,910.0 C518.0,912.0 516.7,909.3 520.0,912.0 C523.3,914.7 524.0,915.0 523.0,918.0 C522.0,921.0 521.7,921.3 517.0,921.0 C512.3,920.7 514.3,919.7 509.0,917.0 C503.7,914.3 505.7,915.0 501.0,913.0 C496.3,911.0 497.3,913.3 495.0,911.0 C492.7,908.7 493.0,908.7 494.0,906.0Z" fill="#f8bcc2" stroke="#151515" stroke-width="0.95"/>
<path d="M682.2,781.3 C683.3,778.4 682.2,778.1 688.3,777.0 C694.3,775.8 692.3,777.0 700.4,777.8 C708.6,778.7 705.1,780.1 712.6,779.6 C720.1,779.0 716.7,776.7 723.0,776.1 C729.4,775.5 726.5,774.3 731.7,777.8 C737.0,781.3 736.1,780.1 738.7,786.5 C741.3,792.9 741.9,791.2 739.6,797.0 C737.2,802.8 737.8,802.2 731.7,803.9 C725.7,805.7 727.7,805.1 721.3,802.2 C714.9,799.3 718.4,800.4 712.6,795.2 C706.8,790.0 710.3,789.4 703.9,786.5 C697.5,783.6 699.9,786.8 693.5,786.5 C687.1,786.2 688.6,787.4 684.8,785.7 C681.0,783.9 681.0,784.2 682.2,781.3Z" fill="#f8bcc2" stroke="#151515" stroke-width="0.95"/>
<ellipse cx="738.7" cy="710.0" rx="7.0" ry="7.0" transform="rotate(0 738.7 710.0)" fill="#f8bcc2" stroke="#151515" stroke-width="0.95"/>
<ellipse cx="702.8" cy="844.6" rx="12.0" ry="9.5" transform="rotate(-25 702.8 844.6)" fill="#f8bcc2" stroke="#151515" stroke-width="0.95"/>
<ellipse cx="766.0" cy="835.6" rx="7.5" ry="7.5" transform="rotate(0 766.0 835.6)" fill="#f2919b" stroke="#151515" stroke-width="0.95"/>
<path d="M756.0,842.0 C759.7,836.7 757.7,839.0 763.0,840.0 C768.3,841.0 768.0,841.7 772.0,845.0 C776.0,848.3 776.3,845.7 775.0,850.0 C773.7,854.3 773.0,854.0 768.0,858.0 C763.0,862.0 764.7,860.0 760.0,862.0 C755.3,864.0 756.7,866.0 754.0,864.0 C751.3,862.0 751.3,863.3 752.0,856.0 C752.7,848.7 752.3,847.3 756.0,842.0Z" fill="#f8bcc2" stroke="#151515" stroke-width="0.95"/>
<ellipse cx="610.0" cy="868.0" rx="6.0" ry="3.0" transform="rotate(20 610.0 868.0)" fill="#f8bcc2" stroke="#151515" stroke-width="0.95"/>
<path d="M637.0,877.0 C637.0,873.7 637.7,874.3 642.0,870.0 C646.3,865.7 645.7,865.3 650.0,864.0 C654.3,862.7 653.0,863.3 655.0,866.0 C657.0,868.7 657.7,868.0 656.0,872.0 C654.3,876.0 654.7,875.3 650.0,878.0 C645.3,880.7 646.3,880.3 642.0,880.0 C637.7,879.7 637.0,880.3 637.0,877.0Z" fill="#f8bcc2" stroke="#151515" stroke-width="0.95"/>
<path d="M668.0,868.0 C669.0,863.0 668.7,864.3 672.0,863.0 C675.3,861.7 675.0,861.0 678.0,864.0 C681.0,867.0 678.3,866.7 681.0,872.0 C683.7,877.3 683.0,875.3 686.0,880.0 C689.0,884.7 690.0,882.0 690.0,886.0 C690.0,890.0 690.0,890.7 686.0,892.0 C682.0,893.3 682.7,892.7 678.0,890.0 C673.3,887.3 675.0,888.0 672.0,884.0 C669.0,880.0 670.3,883.3 669.0,878.0 C667.7,872.7 667.0,873.0 668.0,868.0Z" fill="#f8bcc2" stroke="#151515" stroke-width="0.95"/>
<ellipse cx="661.0" cy="835.6" rx="4.0" ry="4.0" transform="rotate(0 661.0 835.6)" fill="#f8bcc2" stroke="#151515" stroke-width="0.95"/>
<path d="M679.0,884.0 C679.7,880.7 681.7,881.3 686.0,882.0 C690.3,882.7 688.7,882.0 692.0,886.0 C695.3,890.0 694.3,889.3 696.0,894.0 C697.7,898.7 699.0,899.0 697.0,900.0 C695.0,901.0 694.3,899.7 690.0,897.0 C685.7,894.3 687.7,896.3 684.0,892.0 C680.3,887.7 678.3,887.3 679.0,884.0Z" fill="#f8bcc2" stroke="#151515" stroke-width="0.95"/>
<ellipse cx="732.0" cy="874.0" rx="4.0" ry="4.0" transform="rotate(0 732.0 874.0)" fill="#f8bcc2" stroke="#151515" stroke-width="0.95"/>
<ellipse cx="745.7" cy="862.7" rx="4.0" ry="4.0" transform="rotate(0 745.7 862.7)" fill="#f8bcc2" stroke="#151515" stroke-width="0.95"/>
<ellipse cx="785.5" cy="819.5" rx="5.0" ry="4.5" transform="rotate(0 785.5 819.5)" fill="#5c93cc" stroke="#151515" stroke-width="0.95"/>
<ellipse cx="689.0" cy="734.0" rx="15.5" ry="13.0" transform="rotate(30 689.0 734.0)" fill="#bfe5fb" stroke="#151515" stroke-width="0.95"/>
<ellipse cx="687.0" cy="732.0" rx="10.0" ry="9.0" transform="rotate(30 687.0 732.0)" fill="#a2d9fa" stroke="#151515" stroke-width="0.95"/>
<ellipse cx="685.5" cy="730.5" rx="5.0" ry="5.5" transform="rotate(30 685.5 730.5)" fill="#6fb0e6" stroke="#151515" stroke-width="0.95"/>
<ellipse cx="712.0" cy="679.0" rx="8.0" ry="8.0" transform="rotate(0 712.0 679.0)" fill="#bfe5fb" stroke="#151515" stroke-width="0.95"/>
<ellipse cx="712.0" cy="679.0" rx="4.5" ry="4.5" transform="rotate(0 712.0 679.0)" fill="#a2d9fa" stroke="#151515" stroke-width="0.95"/>
<ellipse cx="707.0" cy="699.0" rx="5.5" ry="5.5" transform="rotate(0 707.0 699.0)" fill="#bfe5fb" stroke="#151515" stroke-width="0.95"/>
<path d="M502.0,940.0 C503.7,936.8 503.3,937.2 508.0,936.5 C512.7,935.8 510.7,938.0 516.0,938.0 C521.3,938.0 518.7,936.2 524.0,936.5 C529.3,936.8 529.7,935.8 532.0,939.0 C534.3,942.2 534.3,942.3 531.0,946.0 C527.7,949.7 529.0,949.3 522.0,950.0 C515.0,950.7 516.3,949.3 510.0,948.0 C503.7,946.7 505.7,948.7 503.0,946.0 C500.3,943.3 500.3,943.2 502.0,940.0Z" fill="#e9a9b0" stroke="#151515" stroke-width="0.95"/>
<path d="M840.0,885.0 C861.7,841.7 883.3,841.7 905.0,885.0 C926.7,928.3 926.7,971.7 905.0,1015.0 C883.3,1058.3 861.7,1058.3 840.0,1015.0 C818.3,971.7 818.3,928.3 840.0,885.0Z" fill="#f9dcdd" stroke="none" stroke-width="0"/>
<path d="M882.4,889.7 C884.4,883.7 886.6,882.4 890.3,889.7 C893.9,897.1 891.3,899.5 893.3,911.7 C895.4,923.8 895.4,919.8 896.4,926.3 C897.4,932.8 898.2,931.6 896.4,931.2 C894.5,930.7 895.2,928.1 890.9,925.1 C886.6,922.0 887.6,923.6 883.6,922.0 C879.5,920.4 879.5,923.6 878.7,920.2 C877.9,916.7 879.3,915.7 881.2,911.7 C883.0,907.6 883.8,915.3 884.2,908.0 C884.6,900.7 880.3,895.8 882.4,889.7Z" fill="#efe3e7" stroke="none" stroke-width="0"/>
<path d="M871.4,913.5 C869.4,915.7 869.8,915.1 865.3,920.2 C860.9,925.3 861.7,923.0 858.0,928.7 C854.4,934.4 855.2,931.6 854.4,937.2 C853.5,942.9 853.5,940.9 855.6,945.8 C857.6,950.6 858.8,949.8 860.4,951.9" fill="none" stroke="#1a1a1a" stroke-width="0.95"/>
<path d="M877.5,916.5 C875.1,918.6 874.7,918.2 870.2,922.6 C865.7,927.1 867.1,925.1 864.1,929.9 C861.1,934.8 862.3,932.4 861.1,937.2 C859.8,942.1 860.6,942.1 860.4,944.5" fill="none" stroke="#1a1a1a" stroke-width="0.95"/>
<path d="M860.4,972.6 C863.1,970.3 862.1,970.7 866.5,970.7 C871.0,970.7 869.8,970.3 873.8,972.6 C877.9,974.8 876.7,973.8 878.7,977.4 C880.7,981.1 880.3,979.5 879.9,983.5 C879.5,987.6 880.3,986.4 877.5,989.6 C874.7,992.9 875.5,991.4 871.4,993.3 C867.3,995.1 868.6,995.1 865.3,995.1 C862.1,995.1 861.7,995.1 861.7,993.3 C861.7,991.4 864.9,992.0 865.3,989.6 C865.7,987.2 865.3,987.6 862.9,986.0 C860.4,984.3 859.4,987.6 858.0,984.7 C856.6,981.9 857.8,981.5 858.6,977.4 C859.4,973.4 857.8,974.8 860.4,972.6Z" fill="#f8bcc2" stroke="#151515" stroke-width="0.95"/>
<ellipse cx="867.8" cy="980.5" rx="3.5" ry="3.5" transform="rotate(0 867.8 980.5)" fill="#f2919b" stroke="#151515" stroke-width="0.95"/>
<path d="M844.6,948.2 C845.4,945.8 846.2,947.0 850.7,948.2 C855.2,949.4 852.7,949.8 858.0,951.9 C863.3,953.9 861.7,952.3 866.5,954.3 C871.4,956.3 869.8,954.7 872.6,957.9 C875.5,961.2 875.5,960.6 875.1,964.0 C874.7,967.5 875.1,966.5 871.4,968.3 C867.8,970.1 868.6,970.1 864.1,969.5 C859.6,968.9 861.7,969.1 858.0,966.5 C854.4,963.8 856.4,965.3 853.1,961.6 C849.9,957.9 851.1,960.0 848.3,955.5 C845.4,951.0 843.8,950.6 844.6,948.2Z" fill="#f2919b" stroke="#151515" stroke-width="0.95"/>
<path d="M844.6,949.4 C845.4,948.0 845.8,947.6 849.5,948.8 C853.1,950.0 851.1,950.8 855.6,953.1 C860.0,955.3 858.0,953.5 862.9,955.5 C867.8,957.5 867.1,956.3 870.2,959.2 C873.2,962.0 872.8,961.4 872.0,964.0 C871.2,966.7 871.2,966.5 867.8,967.1 C864.3,967.7 865.7,967.3 861.7,965.9 C857.6,964.4 859.2,965.5 855.6,962.8 C851.9,960.2 853.5,961.2 850.7,957.9 C847.9,954.7 849.1,955.9 847.1,953.1 C845.0,950.2 843.8,950.8 844.6,949.4Z" fill="#dd3a44" stroke="#151515" stroke-width="0.95"/>
<ellipse cx="864.5" cy="962.0" rx="5.0" ry="3.0" transform="rotate(30 864.5 962.0)" fill="#e8484f" stroke="#151515" stroke-width="0.95"/>
<path d="M896.4,940.9 C897.5,940.9 897.8,940.5 898.8,943.3 C899.8,946.2 899.8,946.2 899.4,949.4 C899.0,952.7 898.8,953.5 897.6,953.1 C896.4,952.7 896.5,951.4 895.8,948.2 C895.1,945.0 895.3,945.8 895.5,943.3 C895.7,940.9 895.3,940.9 896.4,940.9Z" fill="#f8bcc2" stroke="#151515" stroke-width="0.95"/>
<path d="M860.9,930.9 L863.8,928.5 L867.3,926.9 L870.0,923.8 L873.9,923.5 L877.4,922.2 L881.3,920.7 L884.4,922.2 L887.8,922.3 L891.0,923.8 L894.1,925.8 L897.0,928.7 L896.5,933.0 L895.9,937.0 L895.4,941.1 L893.8,944.7 L891.9,948.8 L890.2,953.0 L890.4,956.3 L890.2,959.6 L888.9,962.7 L890.0,966.2 L888.3,969.2 L888.8,972.6 L888.6,976.3 L888.3,979.9 L887.5,983.6 L885.5,987.0 L885.3,991.0 L883.7,994.4 L881.3,991.9 L878.5,989.6 L878.8,986.6 L878.0,983.5 L878.0,980.5 L878.3,977.6 L877.8,973.7 L876.2,970.2 L874.2,966.6 L872.7,962.7 L870.1,959.8 L867.5,957.0 L865.3,953.7 L862.6,951.2 L860.7,947.4 L860.0,943.3 L860.2,940.3 L861.0,937.3 L861.1,934.2Z" fill="#666666" fill-opacity="0.42"/>
<path d="M870.2,927.5 C873.0,924.9 871.4,925.7 876.3,924.5 C881.2,923.2 879.1,923.2 884.8,923.8 C890.5,924.5 889.7,923.4 893.3,926.3 C897.0,929.1 895.8,927.9 895.8,932.4 C895.8,936.8 895.8,935.2 893.3,939.7 C890.9,944.1 891.7,942.1 888.5,945.8 C885.2,949.4 887.2,949.4 883.6,950.6 C879.9,951.9 881.6,951.0 877.5,949.4 C873.4,947.8 874.7,949.0 871.4,945.8 C868.2,942.5 869.0,944.1 867.8,939.7 C866.5,935.2 866.9,936.4 867.8,932.4 C868.6,928.3 867.3,930.1 870.2,927.5Z" fill="#d9dadd" stroke="#151515" stroke-width="0.95"/>
<path d="M872.0,931.2 C874.0,928.1 873.2,929.2 877.5,928.1 C881.8,927.0 880.1,927.1 884.8,927.7 C889.5,928.3 888.9,927.6 891.5,929.9 C894.1,932.3 893.1,931.2 892.7,934.8 C892.3,938.5 892.7,937.2 890.3,940.9 C887.8,944.5 888.9,943.9 885.4,945.8 C882.0,947.6 883.6,947.2 879.9,946.4 C876.3,945.6 877.3,946.4 874.5,943.3 C871.6,940.3 872.2,941.3 871.4,937.2 C870.6,933.2 870.0,934.2 872.0,931.2Z" fill="#e3edf2" stroke="#151515" stroke-width="0.95"/>
<ellipse cx="879.8" cy="941.5" rx="5.5" ry="5.5" transform="rotate(0 879.8 941.5)" fill="#e9f4f8" stroke="#151515" stroke-width="0.95"/>
<ellipse cx="879.8" cy="941.5" rx="3.2" ry="3.2" transform="rotate(0 879.8 941.5)" fill="#f2f9fb" stroke="#151515" stroke-width="0.95"/>
<ellipse cx="884.5" cy="932.5" rx="2.6" ry="2.6" transform="rotate(0 884.5 932.5)" fill="#eef6f9" stroke="#151515" stroke-width="0.95"/>
<ellipse cx="889.5" cy="931.5" rx="2.2" ry="2.6" transform="rotate(0 889.5 931.5)" fill="#eef6f9" stroke="#151515" stroke-width="0.95"/>
<ellipse cx="893.5" cy="932.5" rx="2.0" ry="2.4" transform="rotate(0 893.5 932.5)" fill="#eef6f9" stroke="#151515" stroke-width="0.95"/>
<ellipse cx="878.5" cy="929.5" rx="1.6" ry="1.8" transform="rotate(0 878.5 929.5)" fill="#eef6f9" stroke="#151515" stroke-width="0.95"/>
<path d="M745.0,682.0 C740.3,684.7 743.0,684.7 738.0,692.0 C733.0,699.3 734.7,696.0 730.0,704.0 C725.3,712.0 725.0,707.7 724.0,716.0 C723.0,724.3 722.7,721.7 727.0,729.0 C731.3,736.3 728.7,733.3 737.0,738.0 C745.3,742.7 742.7,745.7 752.0,743.0 C761.3,740.3 762.3,740.3 765.0,730.0 C767.7,719.7 764.3,722.7 760.0,712.0 C755.7,701.3 754.7,707.3 752.0,698.0 C749.3,688.7 754.3,689.3 752.0,684.0 C749.7,678.7 749.7,679.3 745.0,682.0Z" fill="#efe7ee" stroke="none" stroke-width="0"/>
<path d="M745.0,700.0 C740.0,702.7 741.0,702.7 737.0,710.0 C733.0,717.3 732.3,715.0 733.0,722.0 C733.7,729.0 732.7,726.3 739.0,731.0 C745.3,735.7 743.3,737.0 752.0,736.0 C760.7,735.0 762.3,736.0 765.0,728.0 C767.7,720.0 764.3,720.7 760.0,712.0 C755.7,703.3 757.0,706.0 752.0,702.0 C747.0,698.0 750.0,697.3 745.0,700.0Z" fill="#fde1e0" stroke="none" stroke-width="0"/>
<path d="M700.0,603.0 C702.0,596.0 700.7,598.0 706.0,593.0 C711.3,588.0 708.7,591.3 716.0,588.0 C723.3,584.7 720.7,586.0 728.0,583.0 C735.3,580.0 733.0,579.0 738.0,579.0 C743.0,579.0 744.0,578.7 743.0,583.0 C742.0,587.3 740.3,585.7 735.0,592.0 C729.7,598.3 731.7,595.3 727.0,602.0 C722.3,608.7 730.0,608.0 721.0,612.0 C712.0,616.0 707.0,617.0 700.0,614.0 C693.0,611.0 698.0,610.0 700.0,603.0Z" fill="#efe7ee" stroke="#151515" stroke-width="0.95"/>
<ellipse cx="710.5" cy="600.5" rx="5.0" ry="5.0" transform="rotate(0 710.5 600.5)" fill="#fde1e0" stroke="#151515" stroke-width="0.95"/>
<ellipse cx="710.5" cy="600.5" rx="2.3" ry="2.3" transform="rotate(0 710.5 600.5)" fill="#f8bcc2" stroke="#151515" stroke-width="0.95"/>
<path d="M538.1,694.9 L540.3,698.9 L543.5,702.2 L543.8,706.0 L544.7,709.8 L547.0,713.1 L548.1,716.3 L546.9,720.1 L549.3,723.0 L549.9,726.1 L548.5,729.6 L550.3,732.5 L550.0,736.0 L552.0,738.4 L552.8,741.4 L554.8,743.3 L556.8,746.4 L559.8,749.1 L565.4,748.2 L567.4,744.9 L568.6,741.1 L566.4,737.2 L567.4,733.0 L567.5,729.7 L567.2,726.3 L567.2,722.4 L571.0,720.9 L572.3,717.5 L575.5,715.2 L578.8,712.4 L579.8,708.7 L580.7,706.1 L586.5,704.9 L587.7,708.3 L590.6,710.6 L590.8,715.1 L592.3,719.4 L595.5,721.3 L596.2,723.6 L601.6,725.2 L605.0,727.1 L608.6,725.8 L613.8,727.5 L616.4,729.8 L617.8,732.9 L619.9,735.5 L621.4,738.7 L622.2,742.2 L623.6,745.5 L623.7,748.9 L625.2,752.0 L625.5,754.9 L625.0,759.2 L624.3,762.6 L621.0,767.2 L617.0,769.2 L611.9,768.5 L609.6,771.1 L607.5,774.4 L607.6,778.1 L606.6,781.3 L606.4,784.7 L603.7,786.5 L600.0,791.2 L598.8,794.8 L597.4,798.4 L594.0,800.3 L591.0,802.4 L589.7,806.5 L585.7,807.4 L583.6,810.9 L581.3,814.2 L578.2,816.8 L574.8,817.1 L571.9,818.3 L570.0,821.6 L566.0,821.6 L562.1,824.4 L560.1,821.4 L557.4,820.8 L553.6,824.0 L551.0,821.0 L547.3,819.1 L543.3,819.3 L540.6,822.3 L537.4,824.9 L533.4,825.8 L529.7,826.6 L525.7,824.5 L526.9,821.2 L528.0,818.0 L530.7,814.3 L534.3,811.1 L538.6,811.7 L541.4,809.0 L547.1,805.5 L547.6,801.9 L547.0,798.3 L546.5,794.8 L545.9,791.3 L542.6,789.6 L538.9,788.3 L535.4,789.1 L532.3,789.7 L530.3,786.1 L530.6,781.6 L531.8,777.5 L531.1,774.4 L528.6,772.1 L527.5,769.4 L525.1,765.3 L520.9,763.5 L519.6,760.2 L516.9,757.5 L516.5,753.7 L517.4,750.1 L516.4,746.2 L518.3,742.8 L520.5,739.3 L521.1,735.5 L523.1,732.5 L523.1,729.1 L524.1,725.9 L522.8,722.3 L523.3,718.4 L522.8,715.0 L522.5,710.2 L524.5,705.5 L528.8,704.7 L532.9,703.0 L534.3,698.4Z" fill="#666666" fill-opacity="0.47"/>
<path d="M577.8,683.3 L580.7,682.0 L584.2,681.8 L587.1,683.3 L590.1,686.2 L588.8,689.0 L587.5,691.0 L584.7,692.8 L582.4,694.5 L579.0,693.6 L577.1,691.0 L576.9,687.4Z" fill="#666666" fill-opacity="0.35"/>
<path d="M491.1,708.3 L495.2,707.6 L498.7,706.7 L501.5,708.4 L504.7,709.2 L506.9,709.9 L508.7,714.2 L507.0,718.1 L503.6,717.9 L500.9,719.6 L498.6,720.2 L493.9,719.3 L490.9,716.0 L490.3,712.0Z" fill="#666666" fill-opacity="0.4"/>
<path d="M519.2,849.7 L522.9,848.8 L526.3,847.0 L530.1,845.4 L533.2,845.2 L535.9,847.4 L539.0,847.4 L541.7,848.6 L545.5,849.4 L548.4,852.0 L552.6,853.1 L550.6,856.5 L550.1,860.2 L550.2,864.2 L547.4,866.4 L544.7,868.7 L543.1,872.1 L540.0,873.9 L536.7,874.2 L534.2,876.6 L530.8,876.3 L528.3,877.6 L525.9,875.3 L522.4,874.3 L519.0,872.3 L520.0,868.8 L519.3,865.8 L517.6,863.0 L516.0,859.8 L516.9,856.2 L518.7,852.7Z" fill="#666666" fill-opacity="0.42"/>
<path d="M563.2,750.7 L566.2,750.2 L569.0,748.6 L572.4,747.5 L575.5,749.4 L577.1,753.0 L580.0,754.9 L583.0,757.3 L586.8,758.0 L589.4,760.4 L592.5,763.0 L593.3,767.1 L595.5,769.7 L594.2,774.1 L592.1,777.9 L589.3,775.6 L585.6,774.7 L583.1,771.9 L580.4,769.3 L576.7,768.5 L574.5,765.4 L571.6,763.6 L569.2,761.3 L565.6,760.1 L564.0,757.0 L564.7,753.1Z" fill="#666666" fill-opacity="0.0"/>
<path d="M707.4,659.9 L710.6,658.9 L714.1,658.5 L716.8,656.2 L720.0,655.0 L723.0,654.6 L725.8,653.0 L729.0,653.2 L732.1,652.9 L734.3,652.4 L737.7,654.7 L739.0,658.3 L741.2,661.2 L741.3,665.3 L742.7,668.0 L745.4,670.3 L744.3,674.0 L745.4,676.9 L747.3,679.4 L748.6,682.3 L750.8,685.3 L750.2,688.4 L747.9,691.0 L748.1,694.4 L746.8,697.3 L745.6,699.7 L747.5,702.5 L747.9,706.0 L749.3,708.9 L749.8,712.4 L752.0,715.0 L753.7,718.0 L756.0,720.5 L757.7,723.5 L760.1,726.1 L758.8,729.0 L755.6,730.6 L753.9,733.3 L752.6,736.2 L751.2,739.0 L750.2,742.4 L747.5,744.2 L744.7,745.7 L742.2,747.8 L738.5,747.8 L736.2,749.8 L737.1,752.9 L739.8,754.6 L740.4,757.9 L742.5,760.1 L745.8,761.0 L748.0,763.4 L749.3,766.8 L752.5,767.9 L753.8,769.6 L754.3,773.1 L754.1,776.4 L751.7,778.9 L750.3,781.8 L750.6,785.0 L751.1,788.0 L750.4,791.0 L748.8,794.0 L749.3,797.0 L750.8,799.4 L752.5,802.1 L754.8,804.4 L756.9,806.8 L757.7,810.7 L761.2,810.4 L763.6,812.5 L766.6,813.4 L769.6,813.9 L771.9,816.4 L774.7,816.1 L778.5,816.4 L781.5,814.0 L785.1,813.8 L788.4,812.3 L792.6,812.0 L791.0,815.1 L791.7,818.1 L793.3,821.0 L793.4,823.1 L788.7,822.7 L785.1,820.3 L780.8,820.1 L776.9,821.6 L773.5,823.7 L769.4,822.1 L766.5,824.5 L764.3,826.8 L761.1,828.3 L759.7,831.5 L757.6,834.0 L756.1,835.6 L757.0,838.7 L756.8,841.8 L755.0,845.0 L751.9,846.7 L749.1,848.0 L746.0,848.5 L742.5,847.9 L740.3,850.3 L737.4,851.3 L734.4,851.9 L732.1,854.8 L728.9,855.4 L725.3,854.0 L722.1,854.7 L718.4,855.8 L719.2,852.3 L721.5,848.7 L720.2,845.6 L716.8,843.9 L716.7,840.1 L714.5,837.2 L711.4,836.0 L708.4,834.7 L705.2,833.6 L702.8,832.2 L699.7,829.3 L695.9,830.7 L692.6,829.0 L689.2,829.6 L685.0,829.5 L681.6,831.4 L677.8,833.5 L674.7,832.4 L672.2,829.8 L668.2,828.2 L670.8,826.2 L673.8,824.4 L676.6,822.7 L679.2,819.9 L681.6,816.9 L685.8,814.3 L682.2,812.7 L679.5,810.3 L677.8,807.1 L675.9,804.1 L673.3,801.7 L671.8,798.7 L670.5,795.6 L669.2,792.7 L670.5,789.0 L673.2,786.4 L676.7,783.4 L676.3,780.0 L674.8,776.7 L674.2,773.3 L673.2,769.9 L670.5,767.8 L668.6,765.3 L667.7,763.2 L664.3,760.0 L659.6,759.6 L657.0,761.5 L656.6,765.5 L653.8,766.8 L651.7,763.5 L650.5,760.4 L652.0,757.0 L655.6,755.5 L657.0,750.9 L660.0,752.0 L663.0,752.5 L666.0,752.8 L669.2,752.3 L672.7,751.0 L676.3,750.0 L680.5,748.6 L681.0,745.2 L683.4,743.2 L685.6,740.9 L687.4,738.2 L688.0,734.1 L690.6,730.9 L692.2,727.8 L694.4,725.7 L697.2,724.2 L699.1,721.5 L701.8,719.5 L704.2,717.1 L704.7,713.5 L707.7,711.2 L710.2,708.5 L711.1,705.6 L711.9,702.6 L712.3,699.7 L711.4,695.8 L709.3,692.4 L707.3,689.1 L705.7,686.0 L702.0,685.1 L701.0,682.1 L700.0,677.5 L702.2,673.6 L704.0,668.0 L705.1,663.7Z" fill="#666666" fill-opacity="0.42"/>
<path d="M740.0,586.1 L737.4,587.7 L735.1,589.7 L733.8,592.5 L732.1,595.7 L729.3,598.2 L727.5,601.3 L724.3,603.6 L722.6,606.7 L720.8,609.9 L719.5,612.9 L718.0,615.8 L717.8,619.4 L715.8,622.1 L715.1,625.4 L712.2,627.3 L711.6,631.5 L707.9,633.0 L707.1,637.0 L703.6,638.7 L702.7,641.9 L700.9,644.5 L698.1,647.2 L700.9,649.7 L701.4,652.8 L699.9,655.8 L700.3,659.0 L700.7,662.2 L698.5,663.8 L695.0,665.4 L691.4,668.8 L688.9,666.2 L685.1,664.1 L685.3,661.0 L685.8,658.0 L684.4,655.1 L685.5,652.2 L685.2,648.6 L686.7,645.7 L689.5,643.3 L689.8,639.9 L691.2,637.1 L693.0,634.5 L694.1,631.6 L695.3,628.7 L695.9,625.5 L698.9,623.5 L700.9,620.9 L702.3,618.2 L703.0,615.0 L703.7,611.8 L705.4,608.8 L707.9,606.2 L709.6,603.2 L710.3,599.2 L712.8,597.5 L715.3,595.7 L717.8,594.0 L720.5,592.7 L722.5,590.3 L724.3,587.5 L728.0,587.4 L730.0,584.8 L733.3,585.4 L736.7,584.9Z" fill="#666666" fill-opacity="0.42"/>
<path d="M675.6,681.6 L679.0,679.7 L681.7,677.0 L684.4,674.8 L687.6,671.3 L692.6,669.6 L694.8,672.5 L696.6,676.4 L693.5,678.3 L692.8,681.9 L689.9,684.0 L688.6,687.7 L686.5,690.9 L684.1,694.1 L680.8,696.4 L679.2,699.8 L675.5,697.8 L673.4,693.9 L673.6,690.8 L676.0,688.2 L676.3,685.1Z" fill="#666666" fill-opacity="0.3"/>
<path d="M692.4,704.2 L696.8,702.9 L699.8,700.4 L703.5,703.0 L708.6,704.2 L707.3,707.6 L704.8,710.4 L703.7,713.8 L702.4,717.0 L699.6,719.0 L698.1,722.2 L694.1,723.4 L690.1,726.3 L688.8,722.3 L689.0,718.4 L688.9,714.6 L689.9,711.3 L692.5,708.5Z" fill="#666666" fill-opacity="0.35"/>
<path d="M664.5,743.1 L667.4,738.9 L671.8,738.6 L675.6,738.1 L678.3,741.2 L683.2,740.7 L681.7,744.2 L682.9,747.1 L683.5,749.2 L680.0,750.9 L677.7,754.6 L673.8,756.4 L671.2,754.2 L667.8,753.9 L664.4,752.1 L664.0,748.7 L665.3,745.2Z" fill="#666666" fill-opacity="0.4"/>
<path d="M667.7,699.8 L670.5,697.0 L673.2,693.9 L675.1,696.9 L677.2,700.1 L675.6,702.9 L675.6,706.2 L673.7,708.9 L673.8,713.0 L670.8,714.4 L667.6,716.2 L665.6,712.3 L665.6,708.2 L666.0,703.8Z" fill="#666666" fill-opacity="0.25"/>
<path d="M644.8,759.8 L647.1,757.5 L649.5,755.3 L653.2,754.8 L655.0,752.2 L658.2,752.5 L661.5,752.1 L664.8,751.7 L667.8,752.6 L670.9,753.4 L673.7,755.2 L676.8,756.1 L679.2,757.3 L681.2,760.2 L682.9,763.2 L683.9,766.5 L683.4,769.9 L684.2,773.5 L682.3,776.6 L681.7,779.9 L682.5,783.6 L679.9,786.5 L681.1,790.5 L677.5,792.8 L676.0,796.0 L675.9,799.9 L673.1,802.5 L672.1,805.4 L668.8,806.2 L666.1,804.1 L662.8,804.7 L660.9,802.3 L658.4,800.1 L657.0,797.0 L653.1,795.9 L651.6,792.9 L650.3,789.9 L649.1,786.9 L646.9,784.3 L647.4,780.6 L646.2,777.7 L643.7,775.2 L642.1,771.8 L643.9,769.1 L643.8,766.0 L644.9,763.1Z" fill="#666666" fill-opacity="0.38"/>
<path d="M528.2,806.3 L530.4,803.4 L533.7,802.5 L536.7,800.9 L539.8,800.6 L542.9,801.4 L545.7,803.0 L549.3,802.0 L552.1,803.8 L555.3,805.0 L557.5,807.4 L559.5,810.0 L563.2,811.6 L563.7,814.8 L563.6,818.1 L564.9,821.0 L566.6,824.4 L563.8,827.2 L561.3,830.3 L560.2,835.3 L556.9,833.7 L553.9,834.5 L551.1,835.9 L547.6,836.8 L545.5,833.4 L541.8,833.4 L538.5,832.4 L535.2,830.7 L534.4,826.9 L531.7,824.8 L529.8,822.0 L527.6,820.0 L527.3,816.5 L528.7,813.1 L527.4,809.5Z" fill="#666666" fill-opacity="0.4"/>
<path d="M348.2,889.6 L351.0,892.7 L354.4,894.4 L358.0,895.9 L361.4,894.6 L365.3,895.4 L368.6,894.8 L371.8,894.4 L374.8,894.7 L378.0,894.3 L381.1,894.1 L384.2,895.5 L386.5,898.5 L390.1,900.1 L391.7,904.2 L395.8,904.6 L399.4,906.3 L402.7,907.5 L405.5,910.4 L408.6,910.1 L411.6,910.8 L414.8,910.5 L418.0,909.4 L421.0,910.6 L424.0,911.4 L427.3,910.8 L430.1,913.4 L433.4,912.3 L436.4,912.1 L440.1,913.5 L443.4,911.4 L447.1,913.1 L450.1,911.7 L453.2,911.7 L456.3,911.0 L459.5,911.2 L462.7,910.2 L465.8,910.2 L468.6,912.7 L471.9,911.5 L474.8,913.3 L478.3,912.3 L481.1,915.5 L484.8,916.6 L488.5,917.6 L491.9,918.7 L495.5,919.2 L498.8,920.6 L503.0,920.4 L506.4,922.6 L509.7,924.8 L513.6,924.6 L516.3,927.7 L519.7,929.0 L523.3,928.8 L526.6,929.7 L529.8,930.9 L533.1,931.7 L535.4,934.7 L539.1,934.7 L542.6,935.4 L546.0,937.6 L545.7,941.5 L546.3,945.1 L548.7,948.0 L544.8,948.7 L540.9,949.2 L536.7,949.4 L534.2,952.0 L530.8,952.4 L527.7,953.9 L523.8,955.7 L519.7,958.8 L516.4,957.6 L513.4,955.9 L510.6,953.2 L507.1,953.4 L503.7,953.6 L500.7,955.1 L497.7,956.4 L494.5,957.3 L491.5,956.4 L488.6,954.2 L485.1,952.8 L482.7,949.9 L480.0,947.7 L478.1,944.6 L475.9,941.7 L472.5,939.9 L470.5,935.7 L467.0,935.5 L463.5,936.1 L460.3,935.1 L456.8,934.8 L453.5,933.9 L450.2,933.0 L447.5,930.3 L443.7,930.8 L440.3,929.8 L437.8,926.8 L434.5,925.6 L431.0,925.0 L427.2,926.2 L424.9,930.0 L420.9,931.6 L417.7,931.4 L414.5,931.0 L411.2,931.5 L408.0,931.7 L404.8,930.9 L401.7,929.3 L398.5,929.0 L395.2,929.5 L392.0,930.1 L388.4,930.1 L385.1,927.8 L381.4,928.4 L378.1,927.5 L374.3,927.5 L371.7,925.5 L369.6,922.4 L366.7,920.9 L363.6,919.0 L359.9,919.2 L356.2,919.2 L352.7,918.3 L349.8,917.5 L347.0,915.6 L345.9,912.7 L343.7,910.4 L343.3,907.6 L342.2,904.0 L344.7,901.3 L346.1,898.4 L345.2,893.8Z" fill="#666666" fill-opacity="0.47"/>
<path d="M738.4,522.6 L740.7,519.5 L744.6,517.5 L745.9,521.5 L749.5,524.1 L749.3,527.4 L748.1,530.6 L748.2,534.0 L748.1,537.5 L749.8,540.6 L749.5,543.4 L747.2,546.7 L744.1,548.9 L741.4,546.0 L738.3,544.1 L739.3,540.8 L739.7,537.4 L739.3,534.1 L740.1,530.9 L739.1,528.0 L738.2,525.0Z" fill="#666666" fill-opacity="0.35"/>
<ellipse cx="568.5" cy="799.0" rx="12.0" ry="17.0" transform="rotate(10 568.5 799.0)" fill="#9fb0bc" stroke="#151515" stroke-width="0.95"/>
<ellipse cx="568.5" cy="800.0" rx="8.0" ry="12.0" transform="rotate(10 568.5 800.0)" fill="#b4c6d0" stroke="#151515" stroke-width="0.95"/>
<ellipse cx="569.0" cy="800.0" rx="4.5" ry="7.5" transform="rotate(10 569.0 800.0)" fill="#cbdbe3" stroke="#151515" stroke-width="0.95"/>
<ellipse cx="568.0" cy="797.0" rx="1.8" ry="2.0" transform="rotate(0 568.0 797.0)" fill="#e4eff4" stroke="#151515" stroke-width="0.95"/>
<ellipse cx="526.5" cy="869.6" rx="7.0" ry="7.0" transform="rotate(0 526.5 869.6)" fill="#b3bfc6" stroke="#151515" stroke-width="0.95"/>
<ellipse cx="526.5" cy="869.6" rx="4.0" ry="4.0" transform="rotate(0 526.5 869.6)" fill="#d3e2e8" stroke="#151515" stroke-width="0.95"/>
<ellipse cx="526.5" cy="869.6" rx="1.8" ry="1.8" transform="rotate(0 526.5 869.6)" fill="#eaf4f7" stroke="#151515" stroke-width="0.95"/>
<ellipse cx="514.8" cy="932.0" rx="7.0" ry="5.5" transform="rotate(0 514.8 932.0)" fill="#b9b3b8" stroke="#151515" stroke-width="0.95"/>
<ellipse cx="514.8" cy="932.0" rx="4.5" ry="3.5" transform="rotate(0 514.8 932.0)" fill="#c9d2d8" stroke="#151515" stroke-width="0.95"/>
<ellipse cx="514.8" cy="932.0" rx="2.2" ry="1.8" transform="rotate(0 514.8 932.0)" fill="#e4eef2" stroke="#151515" stroke-width="0.95"/>
<path d="M584.5,743.9 L588.1,742.6 L592.2,741.8 L594.7,744.8 L598.9,747.1 L598.6,750.1 L598.0,753.1 L596.4,755.7 L596.4,759.3 L593.8,761.8 L592.7,764.7 L591.1,768.1 L588.1,770.0 L585.9,766.1 L583.8,761.9 L586.2,758.3 L585.0,754.1 L584.5,751.1 L586.4,747.9Z" fill="#ffffff" fill-opacity="0.45"/>
<path d="M559.5,756.4 L562.6,754.1 L566.3,751.7 L568.4,755.6 L572.0,758.0 L570.6,761.9 L570.3,766.8 L567.0,767.0 L564.6,767.8 L562.7,764.3 L562.2,760.4Z" fill="#ffffff" fill-opacity="0.3"/>
<path d="M715.0,662.1 L718.6,661.3 L721.4,660.3 L724.4,663.8 L725.7,667.8 L723.7,670.3 L722.0,672.9 L720.6,676.5 L718.7,673.8 L716.2,672.0 L715.7,668.7 L716.3,665.2Z" fill="#ffffff" fill-opacity="0.25"/>
<path d="M720.0,690.1 L724.1,688.2 L727.4,686.4 L729.0,689.1 L730.7,691.7 L733.2,694.2 L730.0,696.1 L728.4,699.4 L725.8,702.3 L722.6,700.7 L720.0,698.0 L719.3,694.0Z" fill="#ffffff" fill-opacity="0.2"/>
<path d="M690.0,806.1 L693.5,805.5 L696.8,804.5 L699.8,803.7 L703.1,803.3 L705.8,805.4 L709.0,805.4 L711.7,806.4 L715.1,808.4 L718.2,810.7 L722.3,812.3 L719.2,815.2 L716.1,817.6 L713.0,817.1 L710.1,816.0 L706.9,816.0 L704.2,814.1 L700.5,815.3 L697.4,813.2 L693.8,813.1 L691.2,810.0Z" fill="#ffffff" fill-opacity="0.3"/>
<path d="M726.9,835.7 L731.0,835.6 L734.6,834.2 L737.9,832.8 L740.9,833.1 L743.9,833.7 L747.2,832.5 L749.8,833.9 L749.5,838.1 L747.9,841.6 L745.0,843.1 L742.0,843.9 L739.0,844.9 L736.1,845.9 L732.2,843.9 L729.0,842.9 L727.2,839.5Z" fill="#ffffff" fill-opacity="0.3"/>
<path d="M470.1,920.3 L473.1,918.2 L476.7,918.2 L479.6,917.6 L483.1,920.0 L487.0,922.0 L485.3,925.9 L484.0,930.3 L481.0,929.6 L477.9,930.1 L475.3,928.8 L473.5,925.9 L471.3,923.2Z" fill="#ffffff" fill-opacity="0.25"/>
<path d="M737.0,675.0 C734.7,679.0 734.7,678.8 730.0,687.0 C725.3,695.2 728.3,691.4 723.0,699.6 C717.7,707.8 718.0,703.6 714.0,711.7 C710.0,719.8 709.6,716.6 710.9,724.0 C712.2,731.4 712.6,727.7 717.8,734.0 C723.0,740.3 719.5,738.3 726.5,743.0 C733.5,747.7 734.6,746.3 738.7,748.0" fill="none" stroke="#1a1a1a" stroke-width="0.95"/>
<path d="M742.0,682.0 C738.6,686.0 738.0,685.3 731.7,694.0 C725.4,702.7 728.2,699.3 723.0,708.0 C717.8,716.7 716.7,712.3 716.0,720.0 C715.3,727.7 715.8,725.0 721.0,731.0 C726.2,737.0 724.0,734.0 731.7,738.0 C739.4,742.0 739.9,741.3 744.0,743.0" fill="none" stroke="#1a1a1a" stroke-width="0.95"/>
<path d="M738.7,704.8 C735.8,707.7 733.6,707.1 730.0,713.5 C726.4,719.9 726.3,718.2 728.0,724.0 C729.7,729.8 729.1,727.7 735.0,731.0 C740.9,734.3 738.7,732.3 745.7,734.0 C752.7,735.7 752.6,735.3 756.0,736.0" fill="none" stroke="#1a1a1a" stroke-width="0.95"/>
<path d="M679.6,755.0 C683.6,756.5 682.4,757.8 691.7,759.6 C701.0,761.4 697.6,760.4 707.4,760.4 C717.2,760.4 712.3,761.1 721.0,759.6 C729.7,758.1 729.3,757.2 733.5,756.0" fill="none" stroke="#1a1a1a" stroke-width="0.95"/>
<path d="M677.8,777.8 C679.5,775.5 675.5,774.2 683.0,770.9 C690.5,767.6 688.8,768.6 700.4,768.0 C712.0,767.4 707.4,769.2 717.8,769.0 C728.2,768.8 723.0,767.4 731.7,767.4 C740.4,767.4 739.9,768.5 744.0,769.0" fill="none" stroke="#1a1a1a" stroke-width="0.95"/>
<path d="M672.0,741.0 C673.3,743.3 671.3,744.3 676.0,748.0 C680.7,751.7 678.0,750.7 686.0,752.0 C694.0,753.3 691.3,753.3 700.0,752.0 C708.7,750.7 705.3,751.3 712.0,748.0 C718.7,744.7 717.3,744.0 720.0,742.0" fill="none" stroke="#1a1a1a" stroke-width="0.95"/>
<path d="M775.0,814.0 C776.0,816.0 775.3,816.7 778.0,820.0 C780.7,823.3 779.3,822.0 783.0,824.0 C786.7,826.0 787.0,825.3 789.0,826.0" fill="none" stroke="#1a1a1a" stroke-width="0.95"/>
<path d="M772.0,813.0 C773.0,815.7 772.0,816.7 775.0,821.0 C778.0,825.3 776.7,823.3 781.0,826.0 C785.3,828.7 785.7,828.0 788.0,829.0" fill="none" stroke="#1a1a1a" stroke-width="0.95"/>
<path d="M769.0,812.0 C770.0,815.3 768.7,816.7 772.0,822.0 C775.3,827.3 774.3,824.7 779.0,828.0 C783.7,831.3 783.7,830.7 786.0,832.0" fill="none" stroke="#1a1a1a" stroke-width="0.95"/>
<path d="M739.0,521.0 C740.3,522.3 742.3,522.0 743.0,525.0 C743.7,528.0 740.3,527.0 741.0,530.0 C741.7,533.0 744.7,530.7 745.0,534.0 C745.3,537.3 741.7,536.3 742.0,540.0 C742.3,543.7 744.7,543.3 746.0,545.0" fill="none" stroke="#1a1a1a" stroke-width="0.7"/>
<path d="M744.0,520.0 C745.0,522.0 746.7,522.0 747.0,526.0 C747.3,530.0 744.7,528.0 745.0,532.0 C745.3,536.0 747.7,533.3 748.0,538.0 C748.3,542.7 746.7,543.3 746.0,546.0" fill="none" stroke="#1a1a1a" stroke-width="0.7"/>
<path d="M736.0,528.0 C737.0,529.7 738.7,529.3 739.0,533.0 C739.3,536.7 736.3,534.7 737.0,539.0 C737.7,543.3 738.3,542.3 741.0,546.0 C743.7,549.7 743.7,548.7 745.0,550.0" fill="none" stroke="#1a1a1a" stroke-width="0.7"/>
<ellipse cx="745.5" cy="524.0" rx="3.0" ry="2.0" transform="rotate(30 745.5 524.0)" fill="#cfd9e4" stroke="#151515" stroke-width="0.95"/>
<ellipse cx="741.0" cy="541.0" rx="4.0" ry="3.0" transform="rotate(0 741.0 541.0)" fill="#e3d3da" stroke="#151515" stroke-width="0.95"/>
<ellipse cx="734.0" cy="513.0" rx="10.5" ry="12.0" transform="rotate(0 734.0 513.0)" fill="none" stroke="#151515" stroke-width="0.95"/>
<ellipse cx="766.0" cy="835.6" rx="10.5" ry="10.5" transform="rotate(0 766.0 835.6)" fill="none" stroke="#151515" stroke-width="0.95"/>
<ellipse cx="766.0" cy="835.6" rx="4.5" ry="4.5" transform="rotate(0 766.0 835.6)" fill="none" stroke="#151515" stroke-width="0.95"/>
<ellipse cx="766.0" cy="835.6" rx="2.0" ry="2.0" transform="rotate(0 766.0 835.6)" fill="#ea5f6c" stroke="#151515" stroke-width="0.95"/>
<ellipse cx="465.0" cy="685.0" rx="13.0" ry="12.0" transform="rotate(0 465.0 685.0)" fill="none" stroke="none" stroke-width="0"/>
<ellipse cx="593.5" cy="815.0" rx="1.3" ry="1.3" transform="rotate(0 593.5 815.0)" fill="#a0303a" stroke="none" stroke-width="0"/>
<ellipse cx="287.6" cy="529.3" rx="3.0" ry="2.0" transform="rotate(0 287.6 529.3)" fill="#efe7ee" stroke="#151515" stroke-width="0.7"/>
<ellipse cx="370.2" cy="526.1" rx="3.5" ry="3.5" transform="rotate(0 370.2 526.1)" fill="#e6eef8" stroke="#151515" stroke-width="0.7"/>
<ellipse cx="333.3" cy="623.5" rx="3.0" ry="3.0" transform="rotate(0 333.3 623.5)" fill="#efe7ee" stroke="#151515" stroke-width="0.7"/>
<ellipse cx="352.8" cy="631.5" rx="4.5" ry="4.5" transform="rotate(0 352.8 631.5)" fill="#fde1e0" stroke="#151515" stroke-width="0.7"/>
<ellipse cx="435.9" cy="435.9" rx="4.5" ry="4.5" transform="rotate(0 435.9 435.9)" fill="#e6eef8" stroke="#151515" stroke-width="0.7"/>
<ellipse cx="481.5" cy="436.5" rx="4.5" ry="4.5" transform="rotate(0 481.5 436.5)" fill="#e6eef8" stroke="#151515" stroke-width="0.7"/>
<ellipse cx="485.9" cy="380.4" rx="3.0" ry="2.0" transform="rotate(0 485.9 380.4)" fill="#efe7ee" stroke="#151515" stroke-width="0.7"/>
<ellipse cx="569.6" cy="407.6" rx="3.0" ry="2.0" transform="rotate(0 569.6 407.6)" fill="#efe7ee" stroke="#151515" stroke-width="0.7"/>
<ellipse cx="506.5" cy="462.0" rx="7.0" ry="7.0" transform="rotate(0 506.5 462.0)" fill="#f5e4ea" stroke="#151515" stroke-width="0.7"/>
<ellipse cx="507.0" cy="463.5" rx="3.2" ry="4.2" transform="rotate(0 507.0 463.5)" fill="#fde1e0" stroke="#151515" stroke-width="0.7"/>
<ellipse cx="502.0" cy="476.0" rx="5.0" ry="7.0" transform="rotate(0 502.0 476.0)" fill="#d7effc" stroke="#151515" stroke-width="0.7"/>
<ellipse cx="484.8" cy="479.0" rx="4.0" ry="4.0" transform="rotate(0 484.8 479.0)" fill="#e6eef8" stroke="#151515" stroke-width="0.7"/>
<ellipse cx="369.6" cy="526.0" rx="3.5" ry="3.5" transform="rotate(0 369.6 526.0)" fill="#e6eef8" stroke="#151515" stroke-width="0.7"/>
<ellipse cx="440.0" cy="536.0" rx="4.0" ry="4.0" transform="rotate(0 440.0 536.0)" fill="#e6eef8" stroke="#151515" stroke-width="0.7"/>
<ellipse cx="465.0" cy="534.8" rx="4.5" ry="7.5" transform="rotate(0 465.0 534.8)" fill="#d7effc" stroke="#151515" stroke-width="0.7"/>
<ellipse cx="586.0" cy="541.0" rx="4.0" ry="4.0" transform="rotate(0 586.0 541.0)" fill="#e6eef8" stroke="#151515" stroke-width="0.7"/>
<ellipse cx="398.0" cy="489.6" rx="2.0" ry="2.0" transform="rotate(0 398.0 489.6)" fill="#efe7ee" stroke="#151515" stroke-width="0.7"/>
<ellipse cx="396.7" cy="469.6" rx="1.5" ry="1.5" transform="rotate(0 396.7 469.6)" fill="#efe7ee" stroke="#151515" stroke-width="0.7"/>
<ellipse cx="386.0" cy="519.6" rx="1.5" ry="1.5" transform="rotate(0 386.0 519.6)" fill="#efe7ee" stroke="#151515" stroke-width="0.7"/>
<ellipse cx="580.0" cy="530.0" rx="1.5" ry="1.5" transform="rotate(0 580.0 530.0)" fill="#e6eef8" stroke="#151515" stroke-width="0.7"/>
<ellipse cx="569.8" cy="407.4" rx="3.0" ry="2.0" transform="rotate(0 569.8 407.4)" fill="#efe7ee" stroke="#151515" stroke-width="0.7"/>
<ellipse cx="616.0" cy="404.6" rx="3.0" ry="2.5" transform="rotate(0 616.0 404.6)" fill="#efe7ee" stroke="#151515" stroke-width="0.7"/>
<ellipse cx="580.0" cy="530.7" rx="1.5" ry="1.5" transform="rotate(0 580.0 530.7)" fill="#e6eef8" stroke="#151515" stroke-width="0.7"/>
<ellipse cx="618.7" cy="553.5" rx="2.0" ry="2.0" transform="rotate(0 618.7 553.5)" fill="#e6eef8" stroke="#151515" stroke-width="0.7"/>
<ellipse cx="655.7" cy="552.4" rx="1.5" ry="1.5" transform="rotate(0 655.7 552.4)" fill="#e6eef8" stroke="#151515" stroke-width="0.7"/>
<ellipse cx="566.5" cy="570.9" rx="2.0" ry="2.0" transform="rotate(0 566.5 570.9)" fill="#e6eef8" stroke="#151515" stroke-width="0.7"/>
<ellipse cx="637.0" cy="570.9" rx="3.0" ry="2.0" transform="rotate(0 637.0 570.9)" fill="#efe7ee" stroke="#151515" stroke-width="0.7"/>
<ellipse cx="701.3" cy="566.5" rx="3.0" ry="3.0" transform="rotate(0 701.3 566.5)" fill="#d7effc" stroke="#151515" stroke-width="0.7"/>
<ellipse cx="694.5" cy="564.0" rx="1.5" ry="1.5" transform="rotate(0 694.5 564.0)" fill="#d7effc" stroke="#151515" stroke-width="0.7"/>
<ellipse cx="687.0" cy="593.7" rx="4.0" ry="4.0" transform="rotate(0 687.0 593.7)" fill="#e6eef8" stroke="#151515" stroke-width="0.7"/>
<ellipse cx="713.3" cy="582.8" rx="2.0" ry="2.0" transform="rotate(0 713.3 582.8)" fill="#e6eef8" stroke="#151515" stroke-width="0.7"/>
<ellipse cx="737.0" cy="559.0" rx="1.5" ry="1.5" transform="rotate(0 737.0 559.0)" fill="#e6eef8" stroke="#151515" stroke-width="0.7"/>
<ellipse cx="738.7" cy="494.8" rx="3.0" ry="3.0" transform="rotate(0 738.7 494.8)" fill="#d7effc" stroke="#151515" stroke-width="0.7"/>
<ellipse cx="738.7" cy="471.3" rx="1.5" ry="1.5" transform="rotate(0 738.7 471.3)" fill="#d7effc" stroke="#151515" stroke-width="0.7"/>
<ellipse cx="601.3" cy="601.3" rx="3.0" ry="2.0" transform="rotate(0 601.3 601.3)" fill="#efe7ee" stroke="#151515" stroke-width="0.7"/>
<ellipse cx="611.0" cy="596.5" rx="3.0" ry="2.0" transform="rotate(0 611.0 596.5)" fill="#efe7ee" stroke="#151515" stroke-width="0.7"/>
<ellipse cx="571.5" cy="608.0" rx="3.0" ry="2.0" transform="rotate(0 571.5 608.0)" fill="#efe7ee" stroke="#151515" stroke-width="0.7"/>
<ellipse cx="606.0" cy="589.5" rx="3.0" ry="2.0" transform="rotate(0 606.0 589.5)" fill="#efe7ee" stroke="#151515" stroke-width="0.7"/>
<ellipse cx="618.3" cy="553.7" rx="2.0" ry="2.0" transform="rotate(0 618.3 553.7)" fill="#e6eef8" stroke="#151515" stroke-width="0.7"/>
<ellipse cx="656.3" cy="552.6" rx="2.0" ry="2.0" transform="rotate(0 656.3 552.6)" fill="#e6eef8" stroke="#151515" stroke-width="0.7"/>
<ellipse cx="566.0" cy="571.5" rx="2.0" ry="2.0" transform="rotate(0 566.0 571.5)" fill="#e6eef8" stroke="#151515" stroke-width="0.7"/>
<ellipse cx="580.2" cy="530.4" rx="1.5" ry="1.5" transform="rotate(0 580.2 530.4)" fill="#e6eef8" stroke="#151515" stroke-width="0.7"/>
<ellipse cx="492.0" cy="642.8" rx="4.0" ry="4.0" transform="rotate(0 492.0 642.8)" fill="#efe7ee" stroke="#151515" stroke-width="0.7"/>
<ellipse cx="504.0" cy="658.0" rx="6.0" ry="6.0" transform="rotate(0 504.0 658.0)" fill="#e6eef8" stroke="#151515" stroke-width="0.7"/>
<ellipse cx="504.0" cy="658.0" rx="2.0" ry="2.0" transform="rotate(0 504.0 658.0)" fill="#e6eef8" stroke="#151515" stroke-width="0.7"/>
<ellipse cx="541.0" cy="675.4" rx="2.0" ry="2.0" transform="rotate(0 541.0 675.4)" fill="#efe7ee" stroke="#151515" stroke-width="0.7"/>
<ellipse cx="492.0" cy="663.5" rx="1.5" ry="1.5" transform="rotate(0 492.0 663.5)" fill="#efe7ee" stroke="#151515" stroke-width="0.7"/>
<ellipse cx="606.0" cy="738.5" rx="3.0" ry="3.0" transform="rotate(0 606.0 738.5)" fill="#f8bcc2" stroke="#151515" stroke-width="0.7"/>
<ellipse cx="588.0" cy="757.0" rx="2.0" ry="2.0" transform="rotate(0 588.0 757.0)" fill="#efe7ee" stroke="#151515" stroke-width="0.7"/>
<ellipse cx="660.5" cy="715.6" rx="3.2" ry="3.2" transform="rotate(0 660.5 715.6)" fill="#e6eef8" stroke="#151515" stroke-width="0.7"/>
<ellipse cx="662.0" cy="731.7" rx="2.0" ry="2.0" transform="rotate(0 662.0 731.7)" fill="#e6eef8" stroke="#151515" stroke-width="0.7"/>
<ellipse cx="674.0" cy="732.6" rx="2.0" ry="2.0" transform="rotate(0 674.0 732.6)" fill="#e6eef8" stroke="#151515" stroke-width="0.7"/>
<ellipse cx="669.0" cy="703.0" rx="2.0" ry="2.0" transform="rotate(0 669.0 703.0)" fill="#e6eef8" stroke="#151515" stroke-width="0.7"/>
<ellipse cx="661.7" cy="732.0" rx="2.0" ry="2.0" transform="rotate(0 661.7 732.0)" fill="#e6eef8" stroke="#151515" stroke-width="0.7"/>
<ellipse cx="675.0" cy="733.0" rx="2.0" ry="2.0" transform="rotate(0 675.0 733.0)" fill="#e6eef8" stroke="#151515" stroke-width="0.7"/>
<ellipse cx="353.0" cy="631.0" rx="4.5" ry="4.5" transform="rotate(0 353.0 631.0)" fill="#efe7ee" stroke="#151515" stroke-width="0.7"/>
<ellipse cx="446.5" cy="829.0" rx="4.5" ry="4.5" transform="rotate(0 446.5 829.0)" fill="#efe7ee" stroke="#151515" stroke-width="0.7"/>
<ellipse cx="407.8" cy="836.0" rx="5.0" ry="3.0" transform="rotate(0 407.8 836.0)" fill="#efe7ee" stroke="#151515" stroke-width="0.7"/>
<ellipse cx="398.0" cy="861.0" rx="3.0" ry="3.0" transform="rotate(0 398.0 861.0)" fill="#efe7ee" stroke="#151515" stroke-width="0.7"/>
<ellipse cx="434.0" cy="865.7" rx="8.0" ry="7.0" transform="rotate(0 434.0 865.7)" fill="#fde1e0" stroke="#151515" stroke-width="0.7"/>
<ellipse cx="467.0" cy="909.0" rx="4.5" ry="4.5" transform="rotate(0 467.0 909.0)" fill="#efe7ee" stroke="#151515" stroke-width="0.7"/>
<ellipse cx="481.0" cy="906.0" rx="6.0" ry="5.0" transform="rotate(0 481.0 906.0)" fill="#f3f6f8" stroke="#151515" stroke-width="0.7"/>
<ellipse cx="327.0" cy="894.0" rx="5.0" ry="5.0" transform="rotate(0 327.0 894.0)" fill="#efe7ee" stroke="#151515" stroke-width="0.7"/>
<ellipse cx="327.0" cy="894.0" rx="2.5" ry="2.5" transform="rotate(0 327.0 894.0)" fill="#fde1e0" stroke="#151515" stroke-width="0.7"/>
<ellipse cx="401.0" cy="899.6" rx="6.0" ry="6.0" transform="rotate(0 401.0 899.6)" fill="#efe7ee" stroke="#151515" stroke-width="0.7"/>
<ellipse cx="401.0" cy="899.6" rx="2.5" ry="2.5" transform="rotate(0 401.0 899.6)" fill="#fde1e0" stroke="#151515" stroke-width="0.7"/>
<ellipse cx="336.0" cy="896.5" rx="3.0" ry="2.0" transform="rotate(0 336.0 896.5)" fill="#efe7ee" stroke="#151515" stroke-width="0.7"/>
<ellipse cx="544.0" cy="897.0" rx="3.0" ry="3.0" transform="rotate(0 544.0 897.0)" fill="#fde1e0" stroke="#151515" stroke-width="0.7"/>
<ellipse cx="536.5" cy="878.0" rx="2.0" ry="2.0" transform="rotate(0 536.5 878.0)" fill="#fde1e0" stroke="#151515" stroke-width="0.7"/>
<ellipse cx="502.0" cy="878.5" rx="3.5" ry="3.0" transform="rotate(0 502.0 878.5)" fill="#fde1e0" stroke="#151515" stroke-width="0.7"/>
<ellipse cx="414.8" cy="774.0" rx="3.0" ry="3.0" transform="rotate(0 414.8 774.0)" fill="#efe7ee" stroke="#151515" stroke-width="0.7"/>
<ellipse cx="400.9" cy="792.0" rx="3.5" ry="3.0" transform="rotate(0 400.9 792.0)" fill="#efe7ee" stroke="#151515" stroke-width="0.7"/>
<ellipse cx="425.0" cy="806.5" rx="4.0" ry="4.0" transform="rotate(0 425.0 806.5)" fill="#efe7ee" stroke="#151515" stroke-width="0.7"/>
<ellipse cx="406.5" cy="734.3" rx="2.0" ry="2.0" transform="rotate(0 406.5 734.3)" fill="#efe7ee" stroke="#151515" stroke-width="0.7"/>
<ellipse cx="374.8" cy="743.9" rx="1.5" ry="1.5" transform="rotate(0 374.8 743.9)" fill="#efe7ee" stroke="#151515" stroke-width="0.7"/>
<ellipse cx="438.5" cy="696.0" rx="3.5" ry="3.5" transform="rotate(0 438.5 696.0)" fill="#efe7ee" stroke="#151515" stroke-width="0.7"/>
<ellipse cx="444.3" cy="754.3" rx="3.2" ry="3.2" transform="rotate(0 444.3 754.3)" fill="#f8bcc2" stroke="#151515" stroke-width="0.7"/>
<ellipse cx="642.0" cy="839.0" rx="3.5" ry="3.5" transform="rotate(0 642.0 839.0)" fill="#efe7ee" stroke="#151515" stroke-width="0.7"/>
<ellipse cx="646.0" cy="839.5" rx="3.5" ry="3.5" transform="rotate(0 646.0 839.5)" fill="#efe7ee" stroke="#151515" stroke-width="0.7"/>
<ellipse cx="670.0" cy="841.0" rx="3.5" ry="3.5" transform="rotate(0 670.0 841.0)" fill="#efe7ee" stroke="#151515" stroke-width="0.7"/>
<ellipse cx="655.4" cy="809.5" rx="2.0" ry="2.0" transform="rotate(0 655.4 809.5)" fill="#efe7ee" stroke="#151515" stroke-width="0.7"/>
<ellipse cx="686.0" cy="806.4" rx="4.0" ry="4.0" transform="rotate(0 686.0 806.4)" fill="#efe7ee" stroke="#151515" stroke-width="0.7"/>
<ellipse cx="702.0" cy="806.0" rx="3.0" ry="3.0" transform="rotate(0 702.0 806.0)" fill="#efe7ee" stroke="#151515" stroke-width="0.7"/>
<ellipse cx="636.0" cy="807.0" rx="2.5" ry="2.5" transform="rotate(0 636.0 807.0)" fill="#fde1e0" stroke="#151515" stroke-width="0.7"/>
<ellipse cx="577.0" cy="832.5" rx="2.0" ry="2.0" transform="rotate(0 577.0 832.5)" fill="#fde1e0" stroke="#151515" stroke-width="0.7"/>
<ellipse cx="580.0" cy="749.0" rx="2.0" ry="2.0" transform="rotate(0 580.0 749.0)" fill="#fde1e0" stroke="#151515" stroke-width="0.7"/>
<ellipse cx="541.5" cy="801.0" rx="3.0" ry="3.0" transform="rotate(0 541.5 801.0)" fill="#efe7ee" stroke="#151515" stroke-width="0.7"/>
<ellipse cx="547.5" cy="806.0" rx="2.5" ry="2.5" transform="rotate(0 547.5 806.0)" fill="#efe7ee" stroke="#151515" stroke-width="0.7"/>
<ellipse cx="538.0" cy="796.0" rx="2.0" ry="2.0" transform="rotate(0 538.0 796.0)" fill="#efe7ee" stroke="#151515" stroke-width="0.7"/>
<ellipse cx="705.0" cy="877.0" rx="4.0" ry="4.0" transform="rotate(0 705.0 877.0)" fill="#f1f6f8" stroke="#151515" stroke-width="0.7"/>
<ellipse cx="715.5" cy="884.0" rx="2.5" ry="2.5" transform="rotate(0 715.5 884.0)" fill="#efe7ee" stroke="#151515" stroke-width="0.7"/>
<ellipse cx="691.0" cy="871.5" rx="2.0" ry="2.0" transform="rotate(0 691.0 871.5)" fill="#efe7ee" stroke="#151515" stroke-width="0.7"/>
<ellipse cx="725.0" cy="867.0" rx="3.5" ry="5.0" transform="rotate(0 725.0 867.0)" fill="#efe7ee" stroke="#151515" stroke-width="0.7"/>
<ellipse cx="716.0" cy="863.0" rx="2.0" ry="2.0" transform="rotate(0 716.0 863.0)" fill="#efe7ee" stroke="#151515" stroke-width="0.7"/>
<ellipse cx="700.0" cy="681.0" rx="3.0" ry="7.0" transform="rotate(0 700.0 681.0)" fill="#efe7ee" stroke="#151515" stroke-width="0.7"/>
<ellipse cx="686.5" cy="708.0" rx="3.0" ry="7.0" transform="rotate(0 686.5 708.0)" fill="#efe7ee" stroke="#151515" stroke-width="0.7"/>
<ellipse cx="726.5" cy="711.0" rx="3.0" ry="2.0" transform="rotate(0 726.5 711.0)" fill="#efe7ee" stroke="#151515" stroke-width="0.7"/>
<ellipse cx="731.0" cy="717.0" rx="2.0" ry="2.0" transform="rotate(0 731.0 717.0)" fill="#efe7ee" stroke="#151515" stroke-width="0.7"/>
<ellipse cx="632.6" cy="730.0" rx="3.5" ry="3.5" transform="rotate(0 632.6 730.0)" fill="#d7effc" stroke="#151515" stroke-width="0.7"/>
<ellipse cx="611.0" cy="658.0" rx="1.5" ry="1.5" transform="rotate(0 611.0 658.0)" fill="#e6eef8" stroke="#151515" stroke-width="0.7"/>
<ellipse cx="482.2" cy="679.5" rx="1.5" ry="1.5" transform="rotate(0 482.2 679.5)" fill="#efe7ee" stroke="#151515" stroke-width="0.7"/>
<ellipse cx="487.5" cy="684.5" rx="1.5" ry="1.5" transform="rotate(0 487.5 684.5)" fill="#efe7ee" stroke="#151515" stroke-width="0.7"/>
<ellipse cx="512.0" cy="690.5" rx="1.5" ry="1.5" transform="rotate(0 512.0 690.5)" fill="#efe7ee" stroke="#151515" stroke-width="0.7"/>
<ellipse cx="494.5" cy="686.0" rx="1.5" ry="1.5" transform="rotate(0 494.5 686.0)" fill="#efe7ee" stroke="#151515" stroke-width="0.7"/>
<ellipse cx="285.4" cy="519.0" rx="0.9" ry="0.9" transform="rotate(0 285.4 519.0)" fill="#222" stroke="none" stroke-width="0"/>
<ellipse cx="310.4" cy="533.0" rx="0.9" ry="0.9" transform="rotate(0 310.4 533.0)" fill="#222" stroke="none" stroke-width="0"/>
<ellipse cx="346.7" cy="573.0" rx="0.9" ry="0.9" transform="rotate(0 346.7 573.0)" fill="#222" stroke="none" stroke-width="0"/>
<ellipse cx="304.5" cy="611.0" rx="0.9" ry="0.9" transform="rotate(0 304.5 611.0)" fill="#222" stroke="none" stroke-width="0"/>
<ellipse cx="155.0" cy="610.0" rx="0.9" ry="0.9" transform="rotate(0 155.0 610.0)" fill="#222" stroke="none" stroke-width="0"/>
<ellipse cx="441.7" cy="623.5" rx="0.9" ry="0.9" transform="rotate(0 441.7 623.5)" fill="#222" stroke="none" stroke-width="0"/>
<ellipse cx="467.8" cy="530.0" rx="0.9" ry="0.9" transform="rotate(0 467.8 530.0)" fill="#222" stroke="none" stroke-width="0"/>
<ellipse cx="417.0" cy="560.0" rx="0.9" ry="0.9" transform="rotate(0 417.0 560.0)" fill="#222" stroke="none" stroke-width="0"/>
<ellipse cx="396.6" cy="562.6" rx="0.9" ry="0.9" transform="rotate(0 396.6 562.6)" fill="#222" stroke="none" stroke-width="0"/>
<ellipse cx="384.8" cy="572.6" rx="0.9" ry="0.9" transform="rotate(0 384.8 572.6)" fill="#222" stroke="none" stroke-width="0"/>
<ellipse cx="394.8" cy="577.4" rx="0.9" ry="0.9" transform="rotate(0 394.8 577.4)" fill="#222" stroke="none" stroke-width="0"/>
<ellipse cx="638.3" cy="421.7" rx="0.9" ry="0.9" transform="rotate(0 638.3 421.7)" fill="#222" stroke="none" stroke-width="0"/>
<ellipse cx="693.0" cy="516.0" rx="0.9" ry="0.9" transform="rotate(0 693.0 516.0)" fill="#222" stroke="none" stroke-width="0"/>
<ellipse cx="756.0" cy="516.0" rx="0.9" ry="0.9" transform="rotate(0 756.0 516.0)" fill="#222" stroke="none" stroke-width="0"/>
<ellipse cx="730.4" cy="566.5" rx="0.9" ry="0.9" transform="rotate(0 730.4 566.5)" fill="#222" stroke="none" stroke-width="0"/>
<ellipse cx="727.6" cy="576.0" rx="0.9" ry="0.9" transform="rotate(0 727.6 576.0)" fill="#222" stroke="none" stroke-width="0"/>
<ellipse cx="668.7" cy="576.5" rx="0.9" ry="0.9" transform="rotate(0 668.7 576.5)" fill="#222" stroke="none" stroke-width="0"/>
<ellipse cx="635.7" cy="563.0" rx="0.9" ry="0.9" transform="rotate(0 635.7 563.0)" fill="#222" stroke="none" stroke-width="0"/>
<ellipse cx="603.5" cy="411.7" rx="0.9" ry="0.9" transform="rotate(0 603.5 411.7)" fill="#222" stroke="none" stroke-width="0"/>
<ellipse cx="577.0" cy="463.0" rx="0.9" ry="0.9" transform="rotate(0 577.0 463.0)" fill="#222" stroke="none" stroke-width="0"/>
<ellipse cx="384.4" cy="670.0" rx="0.9" ry="0.9" transform="rotate(0 384.4 670.0)" fill="#222" stroke="none" stroke-width="0"/>
<ellipse cx="529.4" cy="686.0" rx="0.9" ry="0.9" transform="rotate(0 529.4 686.0)" fill="#222" stroke="none" stroke-width="0"/>
<ellipse cx="574.0" cy="880.0" rx="0.9" ry="0.9" transform="rotate(0 574.0 880.0)" fill="#222" stroke="none" stroke-width="0"/>
<ellipse cx="567.0" cy="871.5" rx="0.9" ry="0.9" transform="rotate(0 567.0 871.5)" fill="#222" stroke="none" stroke-width="0"/>
<ellipse cx="620.4" cy="795.0" rx="0.9" ry="0.9" transform="rotate(0 620.4 795.0)" fill="#222" stroke="none" stroke-width="0"/>
<ellipse cx="594.0" cy="823.0" rx="0.9" ry="0.9" transform="rotate(0 594.0 823.0)" fill="#222" stroke="none" stroke-width="0"/>
<ellipse cx="514.0" cy="722.0" rx="0.9" ry="0.9" transform="rotate(0 514.0 722.0)" fill="#222" stroke="none" stroke-width="0"/>
<ellipse cx="499.0" cy="659.0" rx="0.9" ry="0.9" transform="rotate(0 499.0 659.0)" fill="#222" stroke="none" stroke-width="0"/>
<path d="M651.5,866.0 C652.8,864.5 653.3,864.2 655.0,865.0 C656.7,865.8 654.8,867.5 656.5,868.5 C658.2,869.5 658.0,867.2 660.0,868.0 C662.0,868.8 662.5,868.8 662.5,871.0 C662.5,873.2 662.5,873.2 660.0,874.5 C657.5,875.8 657.3,876.2 655.0,875.0 C652.7,873.8 654.3,872.8 653.0,871.0 C651.7,869.2 651.5,871.2 651.0,869.5 C650.5,867.8 650.2,867.5 651.5,866.0Z" fill="#ffffff" stroke="#151515" stroke-width="1.6"/>
<ellipse cx="739.4" cy="547.8" rx="6.5" ry="4.5" transform="rotate(0 739.4 547.8)" fill="#f3e6ea" stroke="#151515" stroke-width="0.95"/>
<ellipse cx="739.4" cy="547.8" rx="2.5" ry="2.0" transform="rotate(0 739.4 547.8)" fill="#fde1e0" stroke="#151515" stroke-width="0.95"/>
<ellipse cx="742.5" cy="536.0" rx="4.5" ry="8.0" transform="rotate(10 742.5 536.0)" fill="#8cc4ec" stroke="#151515" stroke-width="0.8"/>
<ellipse cx="742.5" cy="536.5" rx="2.8" ry="5.5" transform="rotate(10 742.5 536.5)" fill="none" stroke="none" stroke-width="0"/>
<path d="M739.0,529.0 C739.7,530.7 740.7,530.7 741.0,534.0 C741.3,537.3 739.3,536.0 740.0,539.0 C740.7,542.0 742.0,541.7 743.0,543.0" fill="none" stroke="#1a1a1a" stroke-width="0.8"/>
<ellipse cx="740.8" cy="543.0" rx="1.3" ry="1.3" transform="rotate(0 740.8 543.0)" fill="#1b3a5c" stroke="none" stroke-width="0"/>
</g>
<path d="M520.0,319.6 L516.7,320.3 L513.0,320.7 L510.6,321.9 L507.6,321.9 L504.7,323.4 L502.0,324.0 L499.0,324.8 L496.7,325.5 L494.1,326.0 L491.3,327.0 L488.4,327.8 L485.8,330.0 L483.3,331.7 L480.4,332.6 L477.5,333.7 L475.0,335.9 L474.1,338.7 L474.2,341.5 L474.6,344.2 L475.0,347.0 L474.0,350.0 L473.5,352.7 L474.5,355.5 L474.5,358.2 L475.0,360.2 L475.0,363.0 L473.8,365.5 L473.2,368.8 L473.0,371.7 L473.4,375.0 L474.7,376.9 L476.7,379.6 L477.0,382.6 L474.1,382.6 L470.7,383.7 L469.8,386.1 L468.5,389.0 L466.5,390.9 L463.6,392.9 L461.0,394.6 L458.8,396.4 L457.0,397.8 L454.5,398.9 L452.0,400.0 L449.2,400.6 L446.1,401.8 L443.7,403.6 L441.0,404.0 L438.2,404.6 L435.8,405.3 L433.6,406.7 L431.0,407.3 L428.0,407.6 L425.8,409.1 L422.6,409.8 L419.8,410.5 L417.6,412.5 L415.0,413.0 L413.4,414.8 L410.9,416.6 L409.2,418.4 L406.5,419.6 L405.4,422.6 L404.4,425.0 L403.4,427.5 L402.0,430.4 L402.6,433.7 L404.0,436.0 L406.6,436.7 L409.4,436.6 L412.3,437.3 L415.0,437.4 L411.7,439.1 L408.7,440.0 L405.8,441.1 L402.6,442.7 L400.0,444.6 L397.5,446.0 L394.7,446.3 L391.5,448.1 L389.0,449.0 L386.3,448.5 L383.7,446.6 L381.3,445.9 L379.0,444.9 L376.0,444.6 L373.5,443.7 L370.7,443.7 L368.0,443.9 L365.3,443.1 L363.0,443.0 L359.6,441.4 L356.0,440.2 L352.7,440.7 L349.9,441.0 L346.6,440.8 L344.0,441.3 L342.5,438.8 L341.6,436.3 L341.6,433.3 L341.2,431.1 L340.3,428.5 L338.7,426.0 L338.8,423.5 L339.4,420.8 L339.8,417.4 L336.3,417.2 L333.7,415.8 L330.0,415.7 L327.2,415.8 L324.4,417.7 L321.7,417.3 L319.0,418.5 L316.5,417.5 L314.1,416.4 L312.4,415.5 L309.6,416.0 L307.2,414.1 L308.9,416.4 L307.9,419.5 L310.9,421.4 L311.5,424.0 L310.6,426.8 L311.9,429.7 L310.5,432.4 L311.5,434.8 L312.9,436.6 L314.1,438.8 L316.2,440.9 L317.0,443.5 L317.8,446.7 L320.0,449.2 L321.5,451.1 L322.4,454.3 L323.1,457.0 L322.2,459.6 L322.6,462.8 L323.5,465.0 L323.0,468.0 L321.9,470.0 L322.9,472.5 L322.3,475.4 L321.3,478.0 L322.9,480.6 L322.7,483.8 L323.5,487.0 L325.1,489.2 L327.2,490.7 L329.0,492.4 L326.5,492.8 L324.1,494.2 L322.1,494.8 L319.0,494.6 L316.5,494.9 L313.8,494.1 L310.6,494.7 L308.0,494.6 L307.3,491.9 L306.1,490.9 L307.0,488.0 L305.9,490.2 L303.7,491.2 L301.7,493.5 L301.5,496.3 L301.2,499.0 L301.7,501.0 L298.9,499.4 L299.2,495.8 L297.4,494.6 L295.5,495.2 L293.1,492.2 L290.9,492.4 L287.0,491.3 L285.4,489.0 L282.2,489.5 L280.0,491.3 L277.4,491.3 L276.6,493.0 L273.5,493.5 L272.3,495.8 L271.7,497.4 L269.0,499.0 L264.8,497.8 L262.7,496.1 L264.4,492.5 L260.7,492.1 L262.1,489.6 L260.4,487.0 L260.1,484.8 L257.3,482.7 L257.8,480.9 L255.0,479.0 L254.7,474.9 L252.8,472.8 L249.4,472.4 L247.4,474.0 L245.4,473.9 L243.0,472.8 L240.8,474.5 L238.6,473.8 L234.6,471.9 L233.1,472.5 L230.6,475.1 L227.8,474.0 L228.4,476.4 L226.0,477.9 L226.0,480.4 L224.6,482.6 L223.0,481.2 L219.5,480.8 L217.0,481.5 L214.4,483.0 L213.0,486.1 L210.4,485.9 L208.3,484.5 L206.8,481.4 L204.9,480.5 L204.0,478.0 L201.5,479.8 L201.7,483.7 L200.2,482.8 L197.5,482.4 L196.0,482.0 L193.0,481.5 L190.3,483.2 L189.1,483.6 L186.3,481.4 L184.0,483.7 L181.3,484.1 L178.7,486.9 L175.7,485.9 L172.4,487.2 L170.6,486.2 L168.0,489.0 L166.8,490.9 L166.7,494.6 L164.8,495.7 L166.7,498.6 L165.9,502.0 L169.4,501.6 L172.4,503.0 L175.2,501.4 L176.7,501.9 L179.2,502.6 L182.0,501.0 L184.2,500.8 L186.6,500.1 L188.7,497.8 L186.5,499.8 L185.2,502.4 L184.0,504.0 L181.6,504.6 L178.1,505.7 L175.7,506.5 L175.6,509.1 L176.5,511.3 L174.6,514.0 L176.8,514.7 L179.7,512.4 L180.7,511.7 L184.0,513.0 L186.7,513.0 L188.7,516.0 L188.5,518.6 L185.7,520.9 L184.0,521.7 L182.0,523.2 L179.6,523.8 L178.3,524.9 L176.3,525.4 L173.5,525.0 L171.2,526.1 L169.0,524.1 L165.9,526.0 L168.6,525.5 L170.3,527.9 L172.8,526.7 L175.6,527.2 L177.8,528.0 L178.0,530.1 L181.3,531.6 L182.0,534.8 L181.5,537.8 L183.8,538.7 L183.6,542.0 L182.0,544.6 L185.7,544.9 L187.0,543.3 L189.8,543.5 L192.5,541.5 L193.2,540.4 L193.0,537.0 L195.5,538.8 L197.2,537.4 L198.4,540.8 L201.7,540.0 L203.1,539.9 L204.8,543.4 L207.5,541.8 L208.2,543.1 L209.5,545.2 L212.6,545.7 L215.4,546.6 L217.7,547.3 L218.5,550.6 L221.0,550.0 L224.2,550.4 L226.7,550.5 L227.7,551.9 L230.0,552.0 L230.6,554.3 L235.3,554.6 L236.5,556.5 L239.9,557.9 L239.6,560.0 L240.9,562.0 L238.8,563.8 L240.9,567.4 L242.5,564.7 L246.1,566.1 L247.4,565.0 L250.7,564.6 L251.7,566.9 L255.0,565.0 L256.0,567.4 L258.8,566.9 L260.4,568.5 L260.6,571.2 L264.8,571.7 L267.9,572.2 L270.1,572.2 L271.4,574.8 L273.5,574.0 L270.6,575.6 L273.1,579.3 L271.0,580.0 L269.4,581.8 L271.4,584.7 L269.0,587.0 L270.7,587.9 L272.0,590.6 L275.7,590.0 L277.2,589.3 L280.4,591.8 L282.0,591.0 L283.6,589.1 L286.5,589.0 L288.8,590.6 L291.8,587.8 L292.5,590.1 L295.0,589.0 L293.0,590.7 L290.5,591.5 L288.7,593.5 L288.9,595.7 L287.6,597.7 L284.7,598.3 L284.0,600.0 L287.1,600.1 L288.2,603.6 L290.9,604.0 L292.6,607.2 L293.0,609.8 L291.5,612.1 L291.9,613.8 L288.7,615.0 L288.0,616.7 L286.5,619.6 L288.9,621.9 L287.7,623.9 L291.1,625.6 L290.9,628.0 L291.3,630.1 L293.5,632.7 L295.7,633.3 L297.8,636.5 L297.4,639.0 L299.2,640.6 L301.7,642.9 L302.4,645.4 L303.0,648.0 L305.2,649.4 L307.8,650.6 L309.4,654.0 L311.7,654.8 L313.7,657.2 L315.8,658.5 L318.3,659.7 L320.4,661.0 L322.6,662.6 L325.4,662.6 L327.4,663.8 L330.0,663.8 L334.8,663.0 L334.0,667.0 L332.7,670.0 L330.0,671.6 L332.3,673.3 L334.8,676.0 L337.2,678.9 L337.9,682.6 L336.5,686.2 L337.0,690.0 L335.1,691.9 L334.0,695.0 L332.9,698.0 L331.6,699.8 L329.6,702.1 L328.5,704.5 L328.5,708.0 L332.0,709.7 L334.8,712.0 L336.8,713.2 L339.1,714.6 L341.0,717.0 L343.8,718.7 L345.7,721.7 L347.2,725.2 L349.6,728.0 L350.6,730.6 L350.5,733.2 L352.0,735.8 L352.2,739.4 L353.5,742.0 L351.0,741.5 L350.2,738.9 L349.8,735.3 L348.9,732.7 L347.2,730.3 L345.4,727.9 L344.0,724.8 L342.6,722.8 L341.2,720.4 L338.7,719.0 L334.8,717.0 L332.0,720.0 L332.4,723.4 L330.4,725.9 L330.9,729.5 L329.6,732.2 L329.6,735.2 L329.8,737.5 L330.2,740.1 L329.1,742.5 L329.0,745.3 L328.5,748.0 L327.6,754.9 L326.7,761.7 L326.0,768.7 L324.6,776.5 L328.5,775.0 L333.0,778.0 L335.5,783.5 L327.0,782.7 L323.0,784.0 L322.3,791.7 L321.7,799.4 L321.0,807.0 L319.5,813.9 L318.3,820.8 L317.1,827.9 L315.7,834.8 L313.6,840.6 L311.9,846.3 L310.0,852.0 L307.7,857.8 L305.6,863.7 L303.5,869.6 L296.0,873.0 L292.8,873.7 L290.4,876.0 L293.1,877.3 L295.7,877.9 L298.0,878.7 L300.6,879.7 L304.0,882.0 L306.0,884.0 L308.0,886.5 L308.8,889.4 L310.7,890.6 L312.6,893.0 L310.3,895.6 L308.7,898.0 L310.8,898.4 L313.4,897.1 L316.4,897.5 L319.4,897.7 L321.7,898.0 L323.9,899.4 L327.3,899.9 L328.9,901.2 L332.0,902.0 L335.1,903.2 L337.0,904.6 L340.2,906.0 L342.6,907.4 L345.0,909.1 L346.4,912.1 L349.0,914.0 L351.6,915.8 L352.9,917.8 L355.7,919.0 L357.8,917.5 L361.3,918.0 L363.5,916.5 L366.5,917.6 L368.4,919.7 L371.0,920.4 L374.8,921.6 L377.8,924.0 L381.7,927.0 L384.0,925.9 L386.7,925.4 L389.5,925.3 L392.0,924.0 L394.5,924.2 L397.2,925.4 L399.9,926.8 L402.6,927.0 L405.0,927.3 L408.0,927.1 L410.4,926.3 L412.8,927.3 L415.5,927.7 L418.4,926.4 L420.9,927.0 L421.6,924.1 L420.9,921.8 L420.9,919.0 L424.0,919.0 L427.8,919.5 L431.0,920.4 L434.1,921.2 L436.2,922.0 L439.2,923.6 L441.3,924.3 L444.0,925.7 L446.3,926.7 L449.1,927.1 L452.0,928.0 L454.3,930.0 L457.6,930.8 L460.0,932.0 L462.6,934.8 L465.6,934.5 L468.1,933.8 L470.4,933.5 L472.8,934.6 L475.2,936.8 L478.0,937.4 L479.3,940.6 L479.6,944.0 L482.3,944.6 L485.6,944.6 L488.7,945.0 L490.0,947.7 L490.3,950.4 L491.0,953.0 L493.8,952.4 L496.4,952.1 L499.5,951.6 L501.4,950.3 L504.2,949.7 L507.0,949.0 L509.4,949.9 L512.1,949.0 L514.8,950.0 L516.8,952.3 L520.0,954.0 L522.8,953.2 L525.4,951.3 L527.8,950.0 L530.8,949.5 L533.8,947.9 L537.0,946.5 L540.2,946.8 L542.7,945.4 L546.2,946.0 L548.7,945.0 L550.9,946.6 L554.0,947.8 L552.3,945.3 L550.9,942.8 L550.0,940.0 L548.8,937.5 L549.1,934.4 L548.4,931.7 L547.9,929.8 L547.8,926.9 L547.4,924.0 L548.3,920.8 L548.5,918.3 L548.6,914.7 L548.0,911.7 L548.3,909.2 L548.7,906.0 L550.1,903.9 L550.9,901.1 L552.4,899.4 L553.6,896.6 L555.4,893.8 L557.5,891.9 L561.1,890.1 L562.6,887.6 L565.3,886.3 L567.6,885.0 L569.0,882.9 L571.5,882.0 L574.0,880.8 L576.5,878.9 L580.0,877.5 L582.5,876.3 L585.0,874.0 L587.2,872.7 L589.6,870.6 L591.5,869.7 L594.0,868.0 L597.2,867.3 L599.8,867.0 L603.0,866.0 L605.9,867.2 L608.8,868.4 L611.5,870.7 L614.6,871.7 L617.3,872.6 L619.9,873.0 L623.0,872.8 L626.0,873.5 L628.4,876.2 L630.0,879.0 L633.7,878.0 L637.0,878.0 L640.2,877.9 L642.9,877.6 L645.7,875.5 L648.3,875.8 L651.0,877.6 L655.4,880.0 L659.0,878.8 L662.0,879.0 L664.7,879.4 L668.0,880.0 L669.0,882.7 L669.7,885.6 L670.0,888.7 L672.8,888.0 L676.0,888.0 L678.6,888.2 L681.8,888.7 L686.0,891.5 L689.7,892.8 L693.0,893.6 L695.7,898.0 L698.2,896.3 L701.0,895.6 L703.8,896.5 L706.9,897.0 L711.0,900.0 L715.0,902.6 L716.2,900.4 L718.0,898.0 L721.2,895.9 L723.6,894.0 L726.4,893.1 L729.2,891.1 L732.0,889.8 L734.4,887.7 L737.0,887.1 L739.0,885.0 L737.4,881.7 L736.7,878.5 L739.1,876.9 L741.8,875.8 L743.5,874.0 L745.8,872.1 L748.0,869.3 L750.0,867.0 L751.4,864.1 L753.1,861.9 L754.8,860.0 L757.2,858.1 L760.2,856.8 L763.8,856.0 L764.5,853.6 L767.0,851.2 L768.0,849.0 L770.8,847.8 L772.7,846.6 L775.0,844.6 L776.6,842.5 L778.4,839.9 L780.8,837.8 L781.9,834.5 L782.8,831.6 L784.0,828.8 L786.4,826.8 L788.0,823.9 L791.0,822.0 L789.8,819.1 L789.2,816.0 L788.7,813.0 L786.0,813.5 L782.8,814.0 L780.4,815.6 L777.0,816.0 L774.6,815.5 L772.0,814.5 L769.0,814.7 L766.0,814.1 L763.8,813.0 L761.5,811.4 L757.8,810.8 L755.5,808.9 L752.5,808.0 L751.4,805.2 L749.8,802.3 L748.5,799.3 L746.9,797.0 L747.3,794.6 L748.2,791.4 L748.3,788.6 L749.0,786.2 L749.0,783.6 L751.0,781.5 L751.5,779.0 L753.7,776.8 L753.3,773.3 L751.4,770.6 L750.9,767.0 L747.9,765.1 L744.0,764.0 L741.6,762.0 L739.4,760.9 L737.0,758.7 L735.3,755.8 L734.5,752.6 L732.6,750.0 L734.5,748.1 L737.4,747.2 L740.0,745.7 L742.3,743.1 L745.7,741.0 L748.0,739.6 L750.5,737.7 L751.9,735.5 L754.0,734.0 L754.8,731.2 L756.2,728.3 L757.8,725.7 L755.3,723.0 L754.0,720.0 L751.9,717.5 L749.0,715.0 L747.7,712.5 L747.3,708.8 L745.7,706.5 L742.5,705.1 L740.0,703.0 L740.2,700.0 L739.4,696.8 L739.6,694.0 L742.2,692.1 L744.8,691.7 L746.5,688.8 L747.4,685.7 L746.1,683.8 L744.9,681.1 L743.9,678.7 L742.4,675.9 L740.4,673.2 L738.7,670.0 L736.8,667.3 L736.2,663.9 L735.0,661.0 L734.4,657.1 L734.0,653.5 L731.0,653.1 L728.0,654.0 L724.6,654.5 L721.6,655.3 L717.8,656.0 L715.3,657.3 L712.7,657.2 L710.3,658.2 L707.4,658.7 L707.1,661.9 L707.4,664.8 L706.3,667.5 L704.0,670.0 L701.3,671.5 L697.8,672.3 L695.0,673.5 L693.5,670.0 L696.8,667.8 L699.6,665.7 L699.8,662.5 L700.8,659.0 L701.0,656.0 L700.8,652.8 L699.0,650.3 L698.7,647.4 L699.8,644.4 L702.2,641.5 L704.0,638.7 L705.8,636.3 L707.9,634.3 L711.0,632.4 L712.6,630.0 L713.9,627.9 L715.3,624.9 L715.0,622.4 L716.4,620.1 L717.9,617.4 L719.1,614.8 L720.1,612.4 L720.9,610.0 L722.6,607.6 L723.7,605.3 L725.4,603.3 L727.4,601.3 L728.7,598.8 L730.6,596.0 L732.4,593.1 L734.0,590.4 L736.7,588.0 L739.1,586.1 L741.5,584.0 L741.6,580.6 L740.4,577.4 L743.0,575.1 L744.8,572.0 L748.1,573.3 L751.0,576.0 L754.5,575.1 L757.8,575.0 L757.9,571.6 L759.0,568.7 L761.0,566.2 L763.8,564.6 L765.4,562.0 L765.5,559.0 L765.0,556.3 L765.1,553.4 L764.3,550.3 L764.6,548.0 L764.0,544.8 L764.3,542.0 L764.8,539.2 L765.8,536.1 L766.6,533.3 L767.5,530.2 L767.6,527.4 L768.9,525.4 L769.6,522.1 L769.8,519.7 L771.1,517.4 L771.7,514.7 L772.0,512.0 L773.0,509.3 L772.7,507.0 L772.9,504.1 L773.3,501.8 L774.0,499.0 L774.8,496.3 L776.4,493.7 L776.7,490.9 L777.9,488.3 L779.6,486.0 L780.8,483.0 L782.4,481.0 L784.0,478.2 L785.9,475.5 L787.0,473.0 L789.0,470.5 L788.7,467.7 L790.3,465.2 L791.5,463.0 L788.4,462.6 L786.1,462.3 L783.3,461.4 L780.7,459.9 L777.5,459.5 L775.0,459.0 L772.3,459.1 L769.7,457.8 L767.2,458.3 L764.9,457.0 L762.0,456.7 L758.6,455.3 L756.0,453.4 L753.5,451.0 L750.7,452.0 L747.4,452.2 L744.8,453.5 L741.9,452.9 L739.3,452.4 L736.6,453.3 L734.0,452.4 L730.5,451.6 L727.9,449.7 L725.0,449.0 L722.3,448.3 L719.0,447.8 L716.5,447.0 L715.5,444.6 L712.7,442.8 L711.4,440.4 L710.0,438.0 L708.0,435.8 L705.3,434.2 L703.5,431.7 L700.8,430.4 L697.8,430.9 L694.8,429.6 L691.4,430.5 L689.0,432.8 L686.0,434.0 L683.5,431.7 L679.8,430.6 L677.4,428.5 L674.5,428.7 L671.6,429.7 L668.7,429.6 L666.1,429.8 L663.2,429.4 L660.4,430.2 L657.8,430.7 L656.1,428.7 L655.5,425.4 L653.5,423.0 L651.4,421.4 L649.1,419.2 L647.0,417.6 L644.0,416.2 L640.7,414.9 L638.0,413.0 L635.6,411.5 L634.4,409.6 L631.9,408.2 L629.6,406.7 L628.4,404.0 L627.6,401.1 L626.5,398.3 L626.0,394.8 L626.7,391.5 L627.5,388.6 L628.5,386.0 L625.7,387.0 L623.0,387.0 L621.4,389.3 L620.7,392.6 L620.6,395.2 L618.7,398.0 L615.7,399.0 L612.3,400.2 L609.0,401.0 L606.8,399.9 L604.3,399.1 L601.3,398.4 L599.0,398.0 L596.9,395.5 L595.7,393.6 L594.8,390.4 L595.4,387.5 L596.3,384.7 L595.6,381.7 L596.5,379.0 L594.2,376.5 L591.8,375.2 L589.0,373.5 L586.1,373.3 L583.3,373.6 L580.4,372.8 L577.3,373.5 L574.0,374.0 L573.3,370.7 L571.7,367.4 L569.4,363.9 L567.4,360.9 L564.7,361.3 L562.0,362.0 L558.7,360.0 L555.4,358.7 L554.4,355.9 L553.1,352.6 L552.0,350.0 L550.4,347.0 L548.9,344.3 L547.8,341.3 L544.7,342.1 L541.3,342.4 L539.1,344.7 L535.9,346.7 L533.1,345.8 L530.4,343.5 L528.2,341.0 L525.1,340.2 L522.8,338.0 L522.7,334.8 L521.0,331.7 L520.7,328.0 L520.4,325.2 L519.6,322.4Z" fill="none" stroke="#111" stroke-width="1.5" stroke-linejoin="round"/>
<path d="M883.0,890.4 L886.5,890.2 L889.7,889.7 L889.9,893.2 L890.9,895.8 L891.2,899.1 L892.8,901.3 L892.7,904.4 L892.4,908.2 L893.3,911.7 L893.9,915.2 L895.8,919.0 L896.4,922.4 L897.0,926.3 L897.2,930.0 L897.6,933.6 L898.9,936.9 L898.8,940.9 L899.5,944.8 L899.4,948.2 L898.5,951.5 L898.2,955.5 L896.9,958.8 L896.4,962.8 L895.6,966.2 L895.2,970.1 L895.6,974.1 L894.5,977.4 L895.0,980.9 L894.5,984.7 L892.6,987.8 L892.1,990.8 L891.7,994.3 L890.9,996.9 L891.2,1000.1 L891.5,1003.0 L890.9,1006.5 L889.7,1009.1 L884.8,1007.9 L881.5,1006.3 L878.7,1005.4 L876.1,1003.2 L872.6,1001.8 L869.8,1001.1 L866.5,1000.0 L864.4,999.1 L862.3,996.9 L862.9,992.0 L866.5,989.6 L864.1,986.6 L859.2,986.0 L854.4,984.7 L858.0,981.7 L858.3,978.8 L859.2,976.2 L858.0,972.6 L854.0,972.0 L850.7,970.1 L851.9,967.1 L855.6,965.3 L853.1,961.6 L849.5,957.9 L848.1,955.1 L847.1,951.9 L845.2,949.4 L850.1,948.2 L848.3,944.5 L847.5,941.9 L845.8,939.7 L847.4,937.1 L849.5,934.8 L850.3,932.1 L850.7,928.7 L852.9,927.0 L854.4,923.8 L857.8,922.2 L860.4,920.2 L863.4,918.2 L866.5,917.8 L868.9,915.1 L871.4,912.9 L873.3,911.4 L876.3,911.1 L881.2,911.7 L884.2,908.0 L883.4,904.1 L883.6,900.7 L882.5,897.6 L882.4,894.6Z" fill="none" stroke="#111" stroke-width="1.2" stroke-linejoin="round"/>
<path d="M176,503 L181,500.5 L186,501 L184,505 L189,506 L192,510 L188,511 L195,514 M177,508 L182,507 L186,510 L190,513 M183,497 L187,499 L191,498" fill="none" stroke="#111" stroke-width="1.3"/>
<path d="M148.0,493.0 L153.0,492.0 L154.0,495.0 L149.0,496.0Z" fill="#111" stroke="#111" stroke-width="1"/>
<path d="M233.5,580.0 L238.0,579.0 L243.0,584.0 L242.0,587.0 L236.0,586.0Z" fill="#fff" stroke="#111" stroke-width="1.1" stroke-linejoin="round"/>
<path d="M273.5,629.0 L278.5,630.5 L279.0,633.0 L274.5,631.5Z" fill="#fff" stroke="#111" stroke-width="1.1" stroke-linejoin="round"/>
<path d="M222.5,558.7 L228.0,559.5 L227.5,561.5 L222.5,560.5Z" fill="#111" stroke="#111" stroke-width="1"/>
<path d="M158.5,524.0 L160.5,525.0 L159.0,526.5Z" fill="#111" stroke="#111" stroke-width="1"/>
<path d="M248.0,573.0 L250.0,575.0 L249.0,576.0Z" fill="#111" stroke="#111" stroke-width="1"/>
<path d="M252.0,578.0 L254.0,580.0 L252.5,581.0Z" fill="#111" stroke="#111" stroke-width="1"/>
<path d="M714.5,899.5 L719.0,898.0 L719.5,900.5 L715.0,901.5Z" fill="#111" stroke="#111" stroke-width="1"/>
<path d="M724.0,897.0 L731.0,895.0 L731.5,897.5 L725.0,899.0Z" fill="#111" stroke="#111" stroke-width="1"/>
<path d="M312.9,665.5 L318.0,667.0 L323.0,670.0 L327.0,672.8 L322.0,671.8 L316.0,669.2Z" fill="#111" stroke="#111" stroke-width="1"/>
<path d="M320.0,682.0 L325.0,683.0 L329.0,687.0 L331.5,692.0 L331.0,697.5 L328.0,697.0 L326.5,692.0 L323.0,688.0Z" fill="#fff" stroke="#111" stroke-width="1.1" stroke-linejoin="round"/>
<text x="344.0" y="495.4" font-size="10.3" fill="#111" stroke="#111" stroke-width="0.15" text-anchor="middle" transform="rotate(5 344.0 492.4)" font-family="Liberation Sans, sans-serif">0.5</text>
<text x="393.5" y="484.5" font-size="10.3" fill="#111" stroke="#111" stroke-width="0.15" text-anchor="middle" transform="rotate(-60 393.5 481.5)" font-family="Liberation Sans, sans-serif">0.5</text>
<text x="536.0" y="486.7" font-size="10.3" fill="#111" stroke="#111" stroke-width="0.15" text-anchor="middle" transform="rotate(-65 536.0 483.7)" font-family="Liberation Sans, sans-serif">−0.5</text>
<text x="561.0" y="505.0" font-size="10.3" fill="#111" stroke="#111" stroke-width="0.15" text-anchor="middle" transform="rotate(-20 561.0 502.0)" font-family="Liberation Sans, sans-serif">−0.5</text>
<text x="624.0" y="423.0" font-size="10.3" fill="#111" stroke="#111" stroke-width="0.15" text-anchor="middle" transform="rotate(50 624.0 420.0)" font-family="Liberation Sans, sans-serif">−0.5</text>
<text x="638.0" y="513.0" font-size="10.3" fill="#111" stroke="#111" stroke-width="0.15" text-anchor="middle" transform="rotate(-15 638.0 510.0)" font-family="Liberation Sans, sans-serif">−0.5</text>
<text x="708.0" y="552.0" font-size="10.3" fill="#111" stroke="#111" stroke-width="0.15" text-anchor="middle" transform="rotate(10 708.0 549.0)" font-family="Liberation Sans, sans-serif">−0.5</text>
<text x="750.0" y="480.4" font-size="10.3" fill="#111" stroke="#111" stroke-width="0.15" text-anchor="middle" transform="rotate(-30 750.0 477.4)" font-family="Liberation Sans, sans-serif">−1</text>
<text x="602.0" y="598.0" font-size="10.3" fill="#111" stroke="#111" stroke-width="0.15" text-anchor="middle" transform="rotate(-60 602.0 595.0)" font-family="Liberation Sans, sans-serif">0.5</text>
<text x="486.7" y="564.3" font-size="10.3" fill="#111" stroke="#111" stroke-width="0.15" text-anchor="middle" transform="rotate(75 486.7 561.3)" font-family="Liberation Sans, sans-serif">−0.5</text>
<text x="524.8" y="668.7" font-size="10.3" fill="#111" stroke="#111" stroke-width="0.15" text-anchor="middle" transform="rotate(-35 524.8 665.7)" font-family="Liberation Sans, sans-serif">−0.5</text>
<text x="482.4" y="686.0" font-size="10.3" fill="#111" stroke="#111" stroke-width="0.15" text-anchor="middle" transform="rotate(0 482.4 683.0)" font-family="Liberation Sans, sans-serif">0.5</text>
<text x="514.0" y="727.3" font-size="10.3" fill="#111" stroke="#111" stroke-width="0.15" text-anchor="middle" transform="rotate(0 514.0 724.3)" font-family="Liberation Sans, sans-serif">0.5</text>
<text x="570.4" y="752.3" font-size="10.3" fill="#111" stroke="#111" stroke-width="0.15" text-anchor="middle" transform="rotate(0 570.4 749.3)" font-family="Liberation Sans, sans-serif">0</text>
<text x="664.0" y="652.0" font-size="10.3" fill="#111" stroke="#111" stroke-width="0.15" text-anchor="middle" transform="rotate(0 664.0 649.0)" font-family="Liberation Sans, sans-serif">−1</text>
<text x="629.0" y="673.0" font-size="10.3" fill="#111" stroke="#111" stroke-width="0.15" text-anchor="middle" transform="rotate(70 629.0 670.0)" font-family="Liberation Sans, sans-serif">0.5</text>
<text x="376.0" y="660.0" font-size="10.3" fill="#111" stroke="#111" stroke-width="0.15" text-anchor="middle" transform="rotate(-40 376.0 657.0)" font-family="Liberation Sans, sans-serif">0.5</text>
<text x="442.0" y="744.7" font-size="10.3" fill="#111" stroke="#111" stroke-width="0.15" text-anchor="middle" transform="rotate(65 442.0 741.7)" font-family="Liberation Sans, sans-serif">0.5</text>
<text x="462.8" y="718.7" font-size="10.3" fill="#111" stroke="#111" stroke-width="0.15" text-anchor="middle" transform="rotate(-60 462.8 715.7)" font-family="Liberation Sans, sans-serif">0.5</text>
<text x="462.8" y="768.7" font-size="10.3" fill="#111" stroke="#111" stroke-width="0.15" text-anchor="middle" transform="rotate(60 462.8 765.7)" font-family="Liberation Sans, sans-serif">0.5</text>
<text x="495.4" y="760.0" font-size="10.3" fill="#111" stroke="#111" stroke-width="0.15" text-anchor="middle" transform="rotate(80 495.4 757.0)" font-family="Liberation Sans, sans-serif">0.5</text>
<text x="433.5" y="711.0" font-size="10.3" fill="#111" stroke="#111" stroke-width="0.15" text-anchor="middle" transform="rotate(0 433.5 708.0)" font-family="Liberation Sans, sans-serif">1</text>
<text x="507.4" y="784.0" font-size="10.3" fill="#111" stroke="#111" stroke-width="0.15" text-anchor="middle" transform="rotate(0 507.4 781.0)" font-family="Liberation Sans, sans-serif">1</text>
<text x="360.7" y="789.3" font-size="10.3" fill="#111" stroke="#111" stroke-width="0.15" text-anchor="middle" transform="rotate(0 360.7 786.3)" font-family="Liberation Sans, sans-serif">0</text>
<text x="328.0" y="805.6" font-size="10.3" fill="#111" stroke="#111" stroke-width="0.15" text-anchor="middle" transform="rotate(-75 328.0 802.6)" font-family="Liberation Sans, sans-serif">0.5</text>
<text x="375.9" y="835.0" font-size="10.3" fill="#111" stroke="#111" stroke-width="0.15" text-anchor="middle" transform="rotate(0 375.9 832.0)" font-family="Liberation Sans, sans-serif">0</text>
<text x="400.9" y="827.0" font-size="10.3" fill="#111" stroke="#111" stroke-width="0.15" text-anchor="middle" transform="rotate(0 400.9 824.0)" font-family="Liberation Sans, sans-serif">0</text>
<text x="424.8" y="911.7" font-size="10.3" fill="#111" stroke="#111" stroke-width="0.15" text-anchor="middle" transform="rotate(0 424.8 908.7)" font-family="Liberation Sans, sans-serif">−0.5</text>
<text x="504.4" y="870.0" font-size="10.3" fill="#111" stroke="#111" stroke-width="0.15" text-anchor="middle" transform="rotate(-20 504.4 867.0)" font-family="Liberation Sans, sans-serif">0.5</text>
<text x="513.5" y="913.0" font-size="10.3" fill="#111" stroke="#111" stroke-width="0.15" text-anchor="middle" transform="rotate(0 513.5 910.0)" font-family="Liberation Sans, sans-serif">1</text>
<text x="614.8" y="786.5" font-size="10.3" fill="#111" stroke="#111" stroke-width="0.15" text-anchor="middle" transform="rotate(80 614.8 783.5)" font-family="Liberation Sans, sans-serif">1.5</text>
<text x="601.7" y="834.0" font-size="10.3" fill="#111" stroke="#111" stroke-width="0.15" text-anchor="middle" transform="rotate(60 601.7 831.0)" font-family="Liberation Sans, sans-serif">0.5</text>
<text x="685.4" y="847.0" font-size="10.3" fill="#111" stroke="#111" stroke-width="0.15" text-anchor="middle" transform="rotate(0 685.4 844.0)" font-family="Liberation Sans, sans-serif">0.5</text>
<text x="545.0" y="865.8" font-size="10.3" fill="#111" stroke="#111" stroke-width="0.15" text-anchor="middle" transform="rotate(60 545.0 862.8)" font-family="Liberation Sans, sans-serif">0.5</text>
<text x="722.0" y="781.0" font-size="10.3" fill="#111" stroke="#111" stroke-width="0.15" text-anchor="middle" transform="rotate(0 722.0 778.0)" font-family="Liberation Sans, sans-serif">1</text>
<text x="610.0" y="816.0" font-size="10.3" fill="#111" stroke="#111" stroke-width="0.15" text-anchor="middle" transform="rotate(0 610.0 813.0)" font-family="Liberation Sans, sans-serif">1</text>
<text x="541.0" y="804.0" font-size="10.3" fill="#111" stroke="#111" stroke-width="0.15" text-anchor="middle" transform="rotate(65 541.0 801.0)" font-family="Liberation Sans, sans-serif">0.5</text>
<text x="676.7" y="807.0" font-size="10.3" fill="#111" stroke="#111" stroke-width="0.15" text-anchor="middle" transform="rotate(60 676.7 804.0)" font-family="Liberation Sans, sans-serif">0.5</text>
<text x="721.0" y="879.0" font-size="10.3" fill="#111" stroke="#111" stroke-width="0.15" text-anchor="middle" transform="rotate(-60 721.0 876.0)" font-family="Liberation Sans, sans-serif">0.5</text>
<text x="482.0" y="738.0" font-size="10.3" fill="#111" stroke="#111" stroke-width="0.15" text-anchor="middle" transform="rotate(0 482.0 735.0)" font-family="Liberation Sans, sans-serif">1</text>
<text x="527.0" y="745.0" font-size="10.3" fill="#111" stroke="#111" stroke-width="0.15" text-anchor="middle" transform="rotate(0 527.0 742.0)" font-family="Liberation Sans, sans-serif">1</text>
<text x="537.0" y="781.0" font-size="10.3" fill="#111" stroke="#111" stroke-width="0.15" text-anchor="middle" transform="rotate(-30 537.0 778.0)" font-family="Liberation Sans, sans-serif">1</text>
<rect x="972" y="445.0" width="23.5" height="29.2" fill="#8b0305"/>
<rect x="972" y="473.9" width="23.5" height="29.2" fill="#b50008"/>
<rect x="972" y="502.8" width="23.5" height="29.2" fill="#e0000c"/>
<rect x="972" y="531.7" width="23.5" height="29.2" fill="#ef1a22"/>
<rect x="972" y="560.6" width="23.5" height="29.2" fill="#f4414b"/>
<rect x="972" y="589.5" width="23.5" height="29.2" fill="#f76d76"/>
<rect x="972" y="618.4" width="23.5" height="29.2" fill="#fa9aa0"/>
<rect x="972" y="647.3" width="23.5" height="29.2" fill="#fdc0c3"/>
<rect x="972" y="676.2" width="23.5" height="29.2" fill="#fee5e3"/>
<rect x="972" y="705.1" width="23.5" height="29.2" fill="#efe8ee"/>
<rect x="972" y="734.0" width="23.5" height="29.2" fill="#e6eef8"/>
<rect x="972" y="762.9" width="23.5" height="29.2" fill="#d7f0fc"/>
<rect x="972" y="791.8" width="23.5" height="29.2" fill="#bbe6fb"/>
<rect x="972" y="820.7" width="23.5" height="29.2" fill="#9fd9fa"/>
<rect x="972" y="849.6" width="23.5" height="29.2" fill="#86cbfa"/>
<rect x="972" y="878.5" width="23.5" height="29.2" fill="#62b4f8"/>
<rect x="972" y="907.4" width="23.5" height="29.2" fill="#489df6"/>
<rect x="972" y="936.3" width="23.5" height="29.2" fill="#3384f4"/>
<rect x="972" y="965.2" width="23.5" height="29.2" fill="#1f62f5"/>
<rect x="972" y="994.1" width="23.5" height="29.2" fill="#0b3df3"/>
<rect x="972" y="445" width="23.5" height="578" fill="none" stroke="#0a0a0a" stroke-width="3"/>
<path d="M970,445.5 L983.3,432.5 L996.6,445.5Z" fill="#5f0c10" stroke="#0a0a0a" stroke-width="2" stroke-linejoin="miter"/>
<path d="M970,1023 L983.3,1036 L996.6,1023Z" fill="#1c2396" stroke="#0a0a0a" stroke-width="2"/>
<rect x="996" y="444.2" width="11.5" height="1.6" fill="#111"/>
<text x="1025.7" y="448.3" font-size="9" textLength="13.9" lengthAdjust="spacingAndGlyphs" fill="#111" font-family="Liberation Sans, sans-serif">5.0</text>
<rect x="996" y="473.1" width="11.5" height="1.6" fill="#111"/>
<text x="1025.7" y="477.2" font-size="9" textLength="13.9" lengthAdjust="spacingAndGlyphs" fill="#111" font-family="Liberation Sans, sans-serif">4.5</text>
<rect x="996" y="502.0" width="11.5" height="1.6" fill="#111"/>
<text x="1025.7" y="506.1" font-size="9" textLength="13.9" lengthAdjust="spacingAndGlyphs" fill="#111" font-family="Liberation Sans, sans-serif">4.0</text>
<rect x="996" y="530.9" width="11.5" height="1.6" fill="#111"/>
<text x="1025.7" y="535.0" font-size="9" textLength="13.9" lengthAdjust="spacingAndGlyphs" fill="#111" font-family="Liberation Sans, sans-serif">3.5</text>
<rect x="996" y="559.8" width="11.5" height="1.6" fill="#111"/>
<text x="1025.7" y="563.9" font-size="9" textLength="13.9" lengthAdjust="spacingAndGlyphs" fill="#111" font-family="Liberation Sans, sans-serif">3.0</text>
<rect x="996" y="588.7" width="11.5" height="1.6" fill="#111"/>
<text x="1025.7" y="592.8" font-size="9" textLength="13.9" lengthAdjust="spacingAndGlyphs" fill="#111" font-family="Liberation Sans, sans-serif">2.5</text>
<rect x="996" y="617.6" width="11.5" height="1.6" fill="#111"/>
<text x="1025.7" y="621.7" font-size="9" textLength="13.9" lengthAdjust="spacingAndGlyphs" fill="#111" font-family="Liberation Sans, sans-serif">2.0</text>
<rect x="996" y="646.5" width="11.5" height="1.6" fill="#111"/>
<text x="1025.7" y="650.6" font-size="9" textLength="13.9" lengthAdjust="spacingAndGlyphs" fill="#111" font-family="Liberation Sans, sans-serif">1.5</text>
<rect x="996" y="675.4" width="11.5" height="1.6" fill="#111"/>
<text x="1025.7" y="679.5" font-size="9" textLength="13.9" lengthAdjust="spacingAndGlyphs" fill="#111" font-family="Liberation Sans, sans-serif">1.0</text>
<rect x="996" y="704.3" width="11.5" height="1.6" fill="#111"/>
<text x="1025.7" y="708.4" font-size="9" textLength="13.9" lengthAdjust="spacingAndGlyphs" fill="#111" font-family="Liberation Sans, sans-serif">0.5</text>
<rect x="996" y="733.2" width="11.5" height="1.6" fill="#111"/>
<text x="1025.7" y="737.3" font-size="9" textLength="13.9" lengthAdjust="spacingAndGlyphs" fill="#111" font-family="Liberation Sans, sans-serif">0.0</text>
<rect x="996" y="762.1" width="11.5" height="1.6" fill="#111"/>
<text x="1019.7" y="766.2" font-size="9" textLength="19.9" lengthAdjust="spacingAndGlyphs" fill="#111" font-family="Liberation Sans, sans-serif">−0.5</text>
<rect x="996" y="791.0" width="11.5" height="1.6" fill="#111"/>
<text x="1019.7" y="795.1" font-size="9" textLength="19.9" lengthAdjust="spacingAndGlyphs" fill="#111" font-family="Liberation Sans, sans-serif">−1.0</text>
<rect x="996" y="819.9" width="11.5" height="1.6" fill="#111"/>
<text x="1019.7" y="824.0" font-size="9" textLength="19.9" lengthAdjust="spacingAndGlyphs" fill="#111" font-family="Liberation Sans, sans-serif">−1.5</text>
<rect x="996" y="848.8" width="11.5" height="1.6" fill="#111"/>
<text x="1019.7" y="852.9" font-size="9" textLength="19.9" lengthAdjust="spacingAndGlyphs" fill="#111" font-family="Liberation Sans, sans-serif">−2.0</text>
<rect x="996" y="877.7" width="11.5" height="1.6" fill="#111"/>
<text x="1019.7" y="881.8" font-size="9" textLength="19.9" lengthAdjust="spacingAndGlyphs" fill="#111" font-family="Liberation Sans, sans-serif">−2.5</text>
<rect x="996" y="906.6" width="11.5" height="1.6" fill="#111"/>
<text x="1019.7" y="910.7" font-size="9" textLength="19.9" lengthAdjust="spacingAndGlyphs" fill="#111" font-family="Liberation Sans, sans-serif">−3.0</text>
<rect x="996" y="935.5" width="11.5" height="1.6" fill="#111"/>
<text x="1019.7" y="939.6" font-size="9" textLength="19.9" lengthAdjust="spacingAndGlyphs" fill="#111" font-family="Liberation Sans, sans-serif">−3.5</text>
<rect x="996" y="964.4" width="11.5" height="1.6" fill="#111"/>
<text x="1019.7" y="968.5" font-size="9" textLength="19.9" lengthAdjust="spacingAndGlyphs" fill="#111" font-family="Liberation Sans, sans-serif">−4.0</text>
<rect x="996" y="993.3" width="11.5" height="1.6" fill="#111"/>
<text x="1019.7" y="997.4" font-size="9" textLength="19.9" lengthAdjust="spacingAndGlyphs" fill="#111" font-family="Liberation Sans, sans-serif">−4.5</text>
<rect x="996" y="1022.2" width="11.5" height="1.6" fill="#111"/>
<text x="1019.7" y="1026.3" font-size="9" textLength="19.9" lengthAdjust="spacingAndGlyphs" fill="#111" font-family="Liberation Sans, sans-serif">−5.0</text>
<text x="981.5" y="420.7" font-size="9.5" fill="#111" font-family="Liberation Sans, sans-serif">C</text>
<circle cx="979.6" cy="414" r="0.8" fill="none" stroke="#222" stroke-width="0.5"/>
<rect x="62" y="1065" width="60" height="60" fill="#0b58a5"/>
<rect x="84" y="1076" width="16" height="16" rx="1.6" fill="#fff"/>
<circle cx="92" cy="1084" r="5.3" fill="none" stroke="#123a6b" stroke-width="1.6"/>
<path d="M92,1078 L92,1090" stroke="#123a6b" stroke-width="1.1"/>
<path d="M92,1078.8 A5.2,5.2 0 0 1 92,1089.2Z" fill="#fff"/>
<text x="73" y="1103.9" font-size="10.4" font-weight="bold" fill="#fff" stroke="#fff" stroke-width="0.35" textLength="38" lengthAdjust="spacingAndGlyphs" font-family="Liberation Sans, sans-serif">METEO</text>
<text x="73" y="1114.2" font-size="10.4" font-weight="bold" fill="#fff" stroke="#fff" stroke-width="0.35" textLength="38.3" lengthAdjust="spacingAndGlyphs" font-family="Liberation Sans, sans-serif">FRANCE</text>
</svg></body></html>
